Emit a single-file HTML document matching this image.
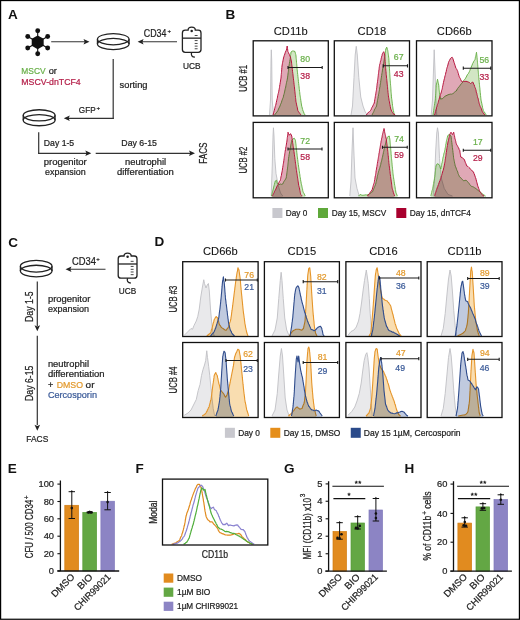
<!DOCTYPE html>
<html><head><meta charset="utf-8"><style>
html,body{margin:0;padding:0;background:#fff;width:520px;height:620px;overflow:hidden}
svg{display:block}
text{font-family:"Liberation Sans", sans-serif}
</style></head><body>
<svg width="520" height="620" viewBox="0 0 520 620" font-family='"Liberation Sans", sans-serif'>
<rect x="0" y="0" width="520" height="620" fill="#fff"/>
<text x="8.0" y="18.8" font-size="13.5" fill="#111" font-weight="bold" >A</text>
<path d="M37.70,35.40 L43.68,38.85 L43.68,45.75 L37.70,49.20 L31.72,45.75 L31.72,38.85 Z" fill="#111"/>
<line x1="37.70" y1="42.30" x2="37.70" y2="30.80" stroke="#111" stroke-width="1.1"/>
<circle cx="37.70" cy="30.80" r="2.45" fill="#111"/>
<line x1="37.70" y1="42.30" x2="47.66" y2="36.55" stroke="#111" stroke-width="1.1"/>
<circle cx="47.66" cy="36.55" r="2.45" fill="#111"/>
<line x1="37.70" y1="42.30" x2="47.66" y2="48.05" stroke="#111" stroke-width="1.1"/>
<circle cx="47.66" cy="48.05" r="2.45" fill="#111"/>
<line x1="37.70" y1="42.30" x2="37.70" y2="53.80" stroke="#111" stroke-width="1.1"/>
<circle cx="37.70" cy="53.80" r="2.45" fill="#111"/>
<line x1="37.70" y1="42.30" x2="27.74" y2="48.05" stroke="#111" stroke-width="1.1"/>
<circle cx="27.74" cy="48.05" r="2.45" fill="#111"/>
<line x1="37.70" y1="42.30" x2="27.74" y2="36.55" stroke="#111" stroke-width="1.1"/>
<circle cx="27.74" cy="36.55" r="2.45" fill="#111"/>
<line x1="51.2" y1="41.75" x2="85" y2="41.75" stroke="#333" stroke-width="1.2"/>
<path d="M89.50,41.75 L83.50,38.95 L84.70,41.75 L83.50,44.55 Z" fill="#222"/>
<g fill="none" stroke="#222" stroke-width="1.3"><ellipse cx="113.25" cy="39.2" rx="15.8" ry="5.6"/><path d="M97.45,39.2 L97.45,44.0 A15.8,5.6 0 0 0 129.05,44.0 L129.05,39.2"/><path d="M97.45,44.0 A15.8,5.6 0 0 1 129.05,44.0"/></g>
<line x1="142" y1="41.75" x2="177" y2="41.75" stroke="#333" stroke-width="1.2"/>
<path d="M137.60,41.75 L143.60,38.95 L142.40,41.75 L143.60,44.55 Z" fill="#222"/>
<text x="143.8" y="36.9" font-size="10.2" fill="#222" stroke="#222" stroke-width="0.22" textLength="22.6" lengthAdjust="spacingAndGlyphs" >CD34</text>
<text x="167.4" y="33.2" font-size="6" fill="#222" stroke="#222" stroke-width="0.22" >+</text>
<path d="M185.20000000000002,30.2 L188.1,30.2 C188.1,26.2 195.29999999999998,26.2 195.29999999999998,30.2 L198.2,30.2 Q201.0,30.2 201.0,33.0 L201.0,49.5 Q201.0,52.3 198.2,52.3 L185.20000000000002,52.3 Q182.4,52.3 182.4,49.5 L182.4,33.0 Q182.4,30.2 185.20000000000002,30.2 Z" fill="none" stroke="#222" stroke-width="1.3"/>
<circle cx="191.7" cy="30.9" r="1.25" fill="#222"/>
<line x1="182.4" y1="38.156" x2="201.0" y2="38.156" stroke="#222" stroke-width="1.3"/>
<line x1="194.7" y1="35.50" x2="197.6" y2="35.50" stroke="#333" stroke-width="0.9"/>
<line x1="194.7" y1="40.59" x2="197.6" y2="40.59" stroke="#333" stroke-width="0.9"/>
<line x1="194.7" y1="43.46" x2="197.6" y2="43.46" stroke="#333" stroke-width="0.9"/>
<line x1="194.7" y1="46.11" x2="197.6" y2="46.11" stroke="#333" stroke-width="0.9"/>
<line x1="194.7" y1="48.76" x2="197.6" y2="48.76" stroke="#333" stroke-width="0.9"/>
<path d="M191.7,52.3 C190.5,55.3 192.2,57.099999999999994 194.89999999999998,57.099999999999994" fill="none" stroke="#222" stroke-width="1.3"/>
<text x="183.0" y="69.2" font-size="9.0" fill="#222" stroke="#222" stroke-width="0.22" textLength="17.6" lengthAdjust="spacingAndGlyphs" >UCB</text>
<text x="21.3" y="74.3" font-size="9.0" fill="#6ab04a" stroke="#6ab04a" stroke-width="0.22" textLength="24.3" lengthAdjust="spacingAndGlyphs" >MSCV</text>
<text x="48.7" y="74.3" font-size="9.0" fill="#222" stroke="#222" stroke-width="0.22" textLength="8.2" lengthAdjust="spacingAndGlyphs" >or</text>
<text x="21.3" y="85.3" font-size="9.0" fill="#b5204a" stroke="#b5204a" stroke-width="0.22" textLength="59.4" lengthAdjust="spacingAndGlyphs" >MSCV-dnTCF4</text>
<line x1="113.2" y1="59.0" x2="113.2" y2="118.9" stroke="#333" stroke-width="1.2"/>
<line x1="67" y1="118.3" x2="113.8" y2="118.3" stroke="#333" stroke-width="1.2"/>
<path d="M63.80,118.30 L69.80,115.50 L68.60,118.30 L69.80,121.10 Z" fill="#222"/>
<text x="119.6" y="87.5" font-size="9.0" fill="#222" stroke="#222" stroke-width="0.22" textLength="27.9" lengthAdjust="spacingAndGlyphs" >sorting</text>
<text x="78.8" y="113.4" font-size="9.8" fill="#222" stroke="#222" stroke-width="0.22" textLength="16.8" lengthAdjust="spacingAndGlyphs" >GFP</text>
<text x="96.6" y="109.6" font-size="6.2" fill="#222" stroke="#222" stroke-width="0.22" >+</text>
<g fill="none" stroke="#222" stroke-width="1.3"><ellipse cx="39.15" cy="115.35" rx="15.9" ry="5.6"/><path d="M23.25,115.35 L23.25,120.14999999999999 A15.9,5.6 0 0 0 55.05,120.14999999999999 L55.05,115.35"/><path d="M23.25,120.14999999999999 A15.9,5.6 0 0 1 55.05,120.14999999999999"/></g>
<line x1="38.7" y1="132.2" x2="38.7" y2="153.9" stroke="#333" stroke-width="1.2"/>
<line x1="38.1" y1="153.3" x2="87" y2="153.3" stroke="#333" stroke-width="1.2"/>
<path d="M91.30,153.30 L85.30,150.50 L86.50,153.30 L85.30,156.10 Z" fill="#222"/>
<line x1="95.7" y1="153.3" x2="191" y2="153.3" stroke="#333" stroke-width="1.2"/>
<path d="M195.00,153.30 L189.00,150.50 L190.20,153.30 L189.00,156.10 Z" fill="#222"/>
<text x="43.8" y="146.3" font-size="9.0" fill="#222" stroke="#222" stroke-width="0.22" textLength="30.4" lengthAdjust="spacingAndGlyphs" >Day 1-5</text>
<text x="121.3" y="146.3" font-size="9.0" fill="#222" stroke="#222" stroke-width="0.22" textLength="35.6" lengthAdjust="spacingAndGlyphs" >Day 6-15</text>
<text x="43.8" y="165.0" font-size="9.0" fill="#222" stroke="#222" stroke-width="0.22" textLength="43.0" lengthAdjust="spacingAndGlyphs" >progenitor</text>
<text x="45.0" y="175.3" font-size="9.0" fill="#222" stroke="#222" stroke-width="0.22" textLength="40.7" lengthAdjust="spacingAndGlyphs" >expansion</text>
<text x="125.0" y="165.0" font-size="9.0" fill="#222" stroke="#222" stroke-width="0.22" textLength="41.2" lengthAdjust="spacingAndGlyphs" >neutrophil</text>
<text x="117.0" y="175.3" font-size="9.0" fill="#222" stroke="#222" stroke-width="0.22" textLength="56.7" lengthAdjust="spacingAndGlyphs" >differentiation</text>
<text x="207.5" y="163.8" font-size="10.0" fill="#222" stroke="#222" stroke-width="0.22" textLength="21.3" lengthAdjust="spacingAndGlyphs" transform="rotate(-90 207.5 163.8)" >FACS</text>
<text x="8.2" y="247.0" font-size="13.5" fill="#111" font-weight="bold" >C</text>
<g fill="none" stroke="#222" stroke-width="1.3"><ellipse cx="36.2" cy="266.25" rx="15.8" ry="5.8"/><path d="M20.400000000000002,266.25 L20.400000000000002,271.05 A15.8,5.8 0 0 0 52.0,271.05 L52.0,266.25"/><path d="M20.400000000000002,271.05 A15.8,5.8 0 0 1 52.0,271.05"/></g>
<line x1="69.5" y1="269.25" x2="105.5" y2="269.25" stroke="#333" stroke-width="1.2"/>
<path d="M65.50,269.25 L71.50,266.45 L70.30,269.25 L71.50,272.05 Z" fill="#222"/>
<text x="72.0" y="265.0" font-size="10.2" fill="#222" stroke="#222" stroke-width="0.22" textLength="24.0" lengthAdjust="spacingAndGlyphs" >CD34</text>
<text x="96.2" y="261.2" font-size="6" fill="#222" stroke="#222" stroke-width="0.22" >+</text>
<path d="M121.0,256.0 L124.0,256.0 C124.0,252.2 131.2,252.2 131.2,256.0 L134.2,256.0 Q137.0,256.0 137.0,258.8 L137.0,275.4 Q137.0,278.2 134.2,278.2 L121.0,278.2 Q118.2,278.2 118.2,275.4 L118.2,258.8 Q118.2,256.0 121.0,256.0 Z" fill="none" stroke="#222" stroke-width="1.3"/>
<circle cx="127.6" cy="256.7" r="1.25" fill="#222"/>
<line x1="118.2" y1="263.992" x2="137.0" y2="263.992" stroke="#222" stroke-width="1.3"/>
<line x1="130.7" y1="261.33" x2="133.6" y2="261.33" stroke="#333" stroke-width="0.9"/>
<line x1="130.7" y1="266.43" x2="133.6" y2="266.43" stroke="#333" stroke-width="0.9"/>
<line x1="130.7" y1="269.32" x2="133.6" y2="269.32" stroke="#333" stroke-width="0.9"/>
<line x1="130.7" y1="271.98" x2="133.6" y2="271.98" stroke="#333" stroke-width="0.9"/>
<line x1="130.7" y1="274.65" x2="133.6" y2="274.65" stroke="#333" stroke-width="0.9"/>
<path d="M127.6,278.2 C126.39999999999999,281.2 128.1,283.0 130.79999999999998,283.0" fill="none" stroke="#222" stroke-width="1.3"/>
<text x="118.8" y="294.4" font-size="9.0" fill="#222" stroke="#222" stroke-width="0.22" textLength="17.4" lengthAdjust="spacingAndGlyphs" >UCB</text>
<line x1="37.3" y1="281.5" x2="37.3" y2="326" stroke="#333" stroke-width="1.2"/>
<path d="M37.30,331.20 L34.50,325.20 L37.30,326.40 L40.10,325.20 Z" fill="#222"/>
<line x1="37.3" y1="335.8" x2="37.3" y2="425" stroke="#333" stroke-width="1.2"/>
<path d="M37.30,430.80 L34.50,424.80 L37.30,426.00 L40.10,424.80 Z" fill="#222"/>
<text x="32.7" y="322.0" font-size="10.2" fill="#222" stroke="#222" stroke-width="0.22" textLength="30.7" lengthAdjust="spacingAndGlyphs" transform="rotate(-90 32.7 322.0)" >Day 1-5</text>
<text x="32.7" y="401.0" font-size="10.2" fill="#222" stroke="#222" stroke-width="0.22" textLength="35.4" lengthAdjust="spacingAndGlyphs" transform="rotate(-90 32.7 401.0)" >Day 6-15</text>
<text x="47.9" y="301.6" font-size="9.0" fill="#222" stroke="#222" stroke-width="0.22" textLength="42.4" lengthAdjust="spacingAndGlyphs" >progenitor</text>
<text x="47.9" y="311.6" font-size="9.0" fill="#222" stroke="#222" stroke-width="0.22" textLength="41.1" lengthAdjust="spacingAndGlyphs" >expansion</text>
<text x="47.9" y="367.0" font-size="9.0" fill="#222" stroke="#222" stroke-width="0.22" textLength="41.1" lengthAdjust="spacingAndGlyphs" >neutrophil</text>
<text x="47.9" y="377.0" font-size="9.0" fill="#222" stroke="#222" stroke-width="0.22" textLength="56.7" lengthAdjust="spacingAndGlyphs" >differentiation</text>
<text x="47.9" y="387.6" font-size="9.0" fill="#222" stroke="#222" stroke-width="0.22" >+</text>
<text x="56.7" y="387.6" font-size="9.0" fill="#e39a2e" stroke="#e39a2e" stroke-width="0.22" textLength="26.3" lengthAdjust="spacingAndGlyphs" >DMSO</text>
<text x="85.6" y="387.6" font-size="9.0" fill="#222" stroke="#222" stroke-width="0.22" textLength="8.9" lengthAdjust="spacingAndGlyphs" >or</text>
<text x="47.9" y="397.8" font-size="9.0" fill="#3a5a98" stroke="#3a5a98" stroke-width="0.22" textLength="49.1" lengthAdjust="spacingAndGlyphs" >Cercosporin</text>
<text x="26.3" y="442.2" font-size="9.0" fill="#222" stroke="#222" stroke-width="0.22" textLength="22.0" lengthAdjust="spacingAndGlyphs" >FACS</text>
<text x="225.6" y="19.2" font-size="13.5" fill="#111" font-weight="bold" >B</text>
<text x="290.75" y="35.0" font-size="11.2" fill="#111" stroke="#111" stroke-width="0.08" text-anchor="middle" >CD11b</text>
<text x="371.9" y="35.0" font-size="11.2" fill="#111" stroke="#111" stroke-width="0.08" text-anchor="middle" >CD18</text>
<text x="454.25" y="35.0" font-size="11.2" fill="#111" stroke="#111" stroke-width="0.08" text-anchor="middle" >CD66b</text>
<text x="247.4" y="78.35" font-size="10.6" fill="#222" stroke="#222" stroke-width="0.22" text-anchor="middle" textLength="26.8" lengthAdjust="spacingAndGlyphs" transform="rotate(-90 247.4 78.35)" >UCB #1</text>
<path d="M269.5,115.30000000000001 L269.5,115 L270.5,100 L271,60 L271.3,49.8 L271.7,60 L272.2,100 L273.5,115 L273.5,115.30000000000001 Z" fill="#e9e9eb" stroke="none" style="mix-blend-mode:multiply"/>
<path d="M269.5,115 L270.5,100 L271,60 L271.3,49.8 L271.7,60 L272.2,100 L273.5,115" fill="none" stroke="#c0c0c4" stroke-width="0.9" stroke-linejoin="round"/>
<path d="M274.5,115.30000000000001 L274.5,115 L275.33,114.0 L276.17,112.96 L277.0,112.0 L277.5,111.05 L278.0,110.34 L278.5,108.97 L279.0,108.01 L279.5,107.07 L280.0,106.0 L280.38,104.75 L280.75,104.01 L281.12,103.1 L281.5,102.23 L281.88,100.68 L282.25,99.84 L282.62,98.67 L283.0,98.0 L283.25,97.25 L283.5,96.15 L283.75,94.63 L284.0,94.39 L284.25,93.37 L284.5,92.12 L284.75,91.09 L285.0,89.73 L285.25,88.61 L285.5,88.0 L285.7,87.02 L285.9,85.65 L286.1,84.75 L286.3,83.79 L286.5,82.62 L286.7,81.97 L286.9,80.95 L287.1,80.27 L287.3,79.02 L287.5,78.0 L287.62,77.11 L287.75,76.0 L287.88,75.13 L288.0,73.97 L288.12,72.82 L288.25,72.4 L288.38,71.4 L288.5,70.27 L288.62,69.17 L288.75,67.85 L288.88,66.78 L289.0,66.0 L289.16,64.83 L289.32,63.66 L289.49,63.21 L289.65,61.92 L289.81,61.28 L289.98,59.91 L290.14,59.37 L290.3,58.0 L290.42,57.28 L290.53,55.6 L290.65,54.77 L290.77,54.33 L290.88,52.98 L291.0,52.0 L292.5,51.0 L293.5,51.0 L295.0,51.5 L295.25,53.01 L295.5,53.67 L295.75,54.53 L296.0,56.0 L296.08,57.1 L296.17,58.22 L296.25,58.82 L296.33,59.67 L296.42,60.87 L296.5,62.37 L296.58,63.21 L296.67,63.69 L296.75,64.8 L296.83,65.68 L296.92,66.65 L297.0,68.0 L297.11,69.24 L297.21,69.74 L297.32,71.05 L297.43,71.96 L297.54,72.75 L297.64,74.19 L297.75,74.7 L297.86,76.11 L297.96,76.69 L298.07,77.94 L298.18,78.77 L298.29,79.82 L298.39,81.38 L298.5,82.0 L298.62,83.24 L298.73,83.84 L298.85,85.31 L298.96,85.77 L299.08,86.92 L299.19,88.28 L299.31,89.11 L299.42,89.68 L299.54,91.39 L299.65,91.77 L299.77,92.81 L299.88,94.22 L300.0,95.0 L300.15,95.86 L300.3,96.84 L300.45,97.66 L300.6,98.67 L300.75,100.07 L300.9,100.79 L301.05,102.08 L301.2,102.9 L301.35,103.96 L301.5,105.0 L301.75,106.37 L302.0,106.99 L302.25,108.06 L302.5,109.29 L302.75,109.75 L303.0,111.0 L303.5,111.72 L304.0,113.33 L304.5,114.0 L305.0,115.0 L305.0,115.30000000000001 Z" fill="#d2e6c4" stroke="none" style="mix-blend-mode:multiply"/>
<path d="M274.5,115 L275.33,114.0 L276.17,112.96 L277.0,112.0 L277.5,111.05 L278.0,110.34 L278.5,108.97 L279.0,108.01 L279.5,107.07 L280.0,106.0 L280.38,104.75 L280.75,104.01 L281.12,103.1 L281.5,102.23 L281.88,100.68 L282.25,99.84 L282.62,98.67 L283.0,98.0 L283.25,97.25 L283.5,96.15 L283.75,94.63 L284.0,94.39 L284.25,93.37 L284.5,92.12 L284.75,91.09 L285.0,89.73 L285.25,88.61 L285.5,88.0 L285.7,87.02 L285.9,85.65 L286.1,84.75 L286.3,83.79 L286.5,82.62 L286.7,81.97 L286.9,80.95 L287.1,80.27 L287.3,79.02 L287.5,78.0 L287.62,77.11 L287.75,76.0 L287.88,75.13 L288.0,73.97 L288.12,72.82 L288.25,72.4 L288.38,71.4 L288.5,70.27 L288.62,69.17 L288.75,67.85 L288.88,66.78 L289.0,66.0 L289.16,64.83 L289.32,63.66 L289.49,63.21 L289.65,61.92 L289.81,61.28 L289.98,59.91 L290.14,59.37 L290.3,58.0 L290.42,57.28 L290.53,55.6 L290.65,54.77 L290.77,54.33 L290.88,52.98 L291.0,52.0 L292.5,51.0 L293.5,51.0 L295.0,51.5 L295.25,53.01 L295.5,53.67 L295.75,54.53 L296.0,56.0 L296.08,57.1 L296.17,58.22 L296.25,58.82 L296.33,59.67 L296.42,60.87 L296.5,62.37 L296.58,63.21 L296.67,63.69 L296.75,64.8 L296.83,65.68 L296.92,66.65 L297.0,68.0 L297.11,69.24 L297.21,69.74 L297.32,71.05 L297.43,71.96 L297.54,72.75 L297.64,74.19 L297.75,74.7 L297.86,76.11 L297.96,76.69 L298.07,77.94 L298.18,78.77 L298.29,79.82 L298.39,81.38 L298.5,82.0 L298.62,83.24 L298.73,83.84 L298.85,85.31 L298.96,85.77 L299.08,86.92 L299.19,88.28 L299.31,89.11 L299.42,89.68 L299.54,91.39 L299.65,91.77 L299.77,92.81 L299.88,94.22 L300.0,95.0 L300.15,95.86 L300.3,96.84 L300.45,97.66 L300.6,98.67 L300.75,100.07 L300.9,100.79 L301.05,102.08 L301.2,102.9 L301.35,103.96 L301.5,105.0 L301.75,106.37 L302.0,106.99 L302.25,108.06 L302.5,109.29 L302.75,109.75 L303.0,111.0 L303.5,111.72 L304.0,113.33 L304.5,114.0 L305.0,115.0" fill="none" stroke="#5fab3c" stroke-width="0.9" stroke-linejoin="round"/>
<path d="M273,115.30000000000001 L273,115 L273.27,114.0 L273.55,112.81 L273.82,112.15 L274.09,111.15 L274.36,110.28 L274.64,108.75 L274.91,107.78 L275.18,106.72 L275.45,105.78 L275.73,105.19 L276.0,104.0 L276.21,102.7 L276.43,102.03 L276.64,100.77 L276.86,99.84 L277.07,98.95 L277.29,98.27 L277.5,97.09 L277.71,95.61 L277.93,94.82 L278.14,93.72 L278.36,93.3 L278.57,92.25 L278.79,91.24 L279.0,90.0 L279.17,89.26 L279.33,88.2 L279.5,87.36 L279.67,86.24 L279.83,84.81 L280.0,84.28 L280.17,82.99 L280.33,82.2 L280.5,81.05 L280.67,79.94 L280.83,78.89 L281.0,78.0 L281.08,76.94 L281.17,75.85 L281.25,74.69 L281.33,74.26 L281.42,73.24 L281.5,72.39 L281.58,71.15 L281.67,70.04 L281.75,69.2 L281.83,67.71 L281.92,67.14 L282.0,66.0 L282.19,64.95 L282.38,63.74 L282.56,62.76 L282.75,62.02 L282.94,60.8 L283.12,59.97 L283.31,59.08 L283.5,58.0 L283.83,56.92 L284.17,55.7 L284.5,55.0 L284.83,53.99 L285.17,52.79 L285.5,52.0 L286.0,50.79 L286.5,50.0 L286.68,48.76 L286.85,47.89 L287.02,46.66 L287.2,46.0 L287.33,47.12 L287.47,48.36 L287.6,48.91 L287.73,50.18 L287.87,51.35 L288.0,52.0 L288.5,52.63 L289.0,54.0 L289.5,54.71 L290.0,56.24 L290.5,57.0 L290.7,58.27 L290.9,59.11 L291.1,59.73 L291.3,60.93 L291.5,62.0 L291.62,63.29 L291.73,64.31 L291.85,65.24 L291.96,65.76 L292.08,67.28 L292.19,67.9 L292.31,69.17 L292.42,69.71 L292.54,71.38 L292.65,72.08 L292.77,73.18 L292.88,73.77 L293.0,75.0 L293.12,76.09 L293.23,77.06 L293.35,78.07 L293.46,78.89 L293.58,80.18 L293.69,80.87 L293.81,81.84 L293.92,82.73 L294.04,84.15 L294.15,84.69 L294.27,85.78 L294.38,86.66 L294.5,88.0 L294.61,89.11 L294.71,90.04 L294.82,91.03 L294.93,91.63 L295.04,92.95 L295.14,93.87 L295.25,94.67 L295.36,95.6 L295.46,97.4 L295.57,97.7 L295.68,98.84 L295.79,99.82 L295.89,101.08 L296.0,102.0 L296.22,102.66 L296.44,103.98 L296.67,104.89 L296.89,106.27 L297.11,106.6 L297.33,107.87 L297.56,109.0 L297.78,110.38 L298.0,111.0 L298.6,111.81 L299.2,112.58 L299.8,113.4 L300.4,114.2 L301.0,115.0 L301.0,115.30000000000001 Z" fill="#e0a8b6" stroke="none" style="mix-blend-mode:multiply"/>
<path d="M273,115 L273.27,114.0 L273.55,112.81 L273.82,112.15 L274.09,111.15 L274.36,110.28 L274.64,108.75 L274.91,107.78 L275.18,106.72 L275.45,105.78 L275.73,105.19 L276.0,104.0 L276.21,102.7 L276.43,102.03 L276.64,100.77 L276.86,99.84 L277.07,98.95 L277.29,98.27 L277.5,97.09 L277.71,95.61 L277.93,94.82 L278.14,93.72 L278.36,93.3 L278.57,92.25 L278.79,91.24 L279.0,90.0 L279.17,89.26 L279.33,88.2 L279.5,87.36 L279.67,86.24 L279.83,84.81 L280.0,84.28 L280.17,82.99 L280.33,82.2 L280.5,81.05 L280.67,79.94 L280.83,78.89 L281.0,78.0 L281.08,76.94 L281.17,75.85 L281.25,74.69 L281.33,74.26 L281.42,73.24 L281.5,72.39 L281.58,71.15 L281.67,70.04 L281.75,69.2 L281.83,67.71 L281.92,67.14 L282.0,66.0 L282.19,64.95 L282.38,63.74 L282.56,62.76 L282.75,62.02 L282.94,60.8 L283.12,59.97 L283.31,59.08 L283.5,58.0 L283.83,56.92 L284.17,55.7 L284.5,55.0 L284.83,53.99 L285.17,52.79 L285.5,52.0 L286.0,50.79 L286.5,50.0 L286.68,48.76 L286.85,47.89 L287.02,46.66 L287.2,46.0 L287.33,47.12 L287.47,48.36 L287.6,48.91 L287.73,50.18 L287.87,51.35 L288.0,52.0 L288.5,52.63 L289.0,54.0 L289.5,54.71 L290.0,56.24 L290.5,57.0 L290.7,58.27 L290.9,59.11 L291.1,59.73 L291.3,60.93 L291.5,62.0 L291.62,63.29 L291.73,64.31 L291.85,65.24 L291.96,65.76 L292.08,67.28 L292.19,67.9 L292.31,69.17 L292.42,69.71 L292.54,71.38 L292.65,72.08 L292.77,73.18 L292.88,73.77 L293.0,75.0 L293.12,76.09 L293.23,77.06 L293.35,78.07 L293.46,78.89 L293.58,80.18 L293.69,80.87 L293.81,81.84 L293.92,82.73 L294.04,84.15 L294.15,84.69 L294.27,85.78 L294.38,86.66 L294.5,88.0 L294.61,89.11 L294.71,90.04 L294.82,91.03 L294.93,91.63 L295.04,92.95 L295.14,93.87 L295.25,94.67 L295.36,95.6 L295.46,97.4 L295.57,97.7 L295.68,98.84 L295.79,99.82 L295.89,101.08 L296.0,102.0 L296.22,102.66 L296.44,103.98 L296.67,104.89 L296.89,106.27 L297.11,106.6 L297.33,107.87 L297.56,109.0 L297.78,110.38 L298.0,111.0 L298.6,111.81 L299.2,112.58 L299.8,113.4 L300.4,114.2 L301.0,115.0" fill="none" stroke="#b8143e" stroke-width="1.0" stroke-linejoin="round"/>
<path d="M288,67.5 L322.2,67.5 M288,65.9 L288,69.1 M322.2,65.9 L322.2,69.1" stroke="#1a1a1a" stroke-width="1.1" fill="none"/>
<text x="300.3" y="61.9" font-size="9.4" fill="#6ab04a" stroke="#6ab04a" stroke-width="0.22" textLength="9.7" lengthAdjust="spacingAndGlyphs" >80</text>
<text x="300.3" y="78.8" font-size="9.4" fill="#b5204a" stroke="#b5204a" stroke-width="0.22" textLength="9.7" lengthAdjust="spacingAndGlyphs" >38</text>
<rect x="253.2" y="40.8" width="75.10000000000002" height="75.10000000000001" fill="none" stroke="#111" stroke-width="1.3"/>
<path d="M351,115.30000000000001 L351,115 L352.5,106 L354,77.5 L355.2,55 L356.25,46.3 L357.3,55 L358.8,77.5 L360.75,97 L363,106 L365.25,112 L367.5,115 L367.5,115.30000000000001 Z" fill="#e9e9eb" stroke="none" style="mix-blend-mode:multiply"/>
<path d="M351,115 L352.5,106 L354,77.5 L355.2,55 L356.25,46.3 L357.3,55 L358.8,77.5 L360.75,97 L363,106 L365.25,112 L367.5,115" fill="none" stroke="#c0c0c4" stroke-width="0.9" stroke-linejoin="round"/>
<path d="M372,115.30000000000001 L372,115 L372.45,114.1 L372.9,113.18 L373.35,112.43 L373.8,111.53 L374.25,110.21 L374.7,109.21 L375.15,108.6 L375.6,107.62 L376.05,107.15 L376.5,106.0 L376.69,105.12 L376.88,104.02 L377.06,102.95 L377.25,102.0 L377.44,100.56 L377.62,99.76 L377.81,98.51 L378.0,98.07 L378.19,96.37 L378.38,95.94 L378.56,94.32 L378.75,93.77 L378.94,92.46 L379.12,91.49 L379.31,90.81 L379.5,89.5 L379.66,88.09 L379.82,87.1 L379.97,86.75 L380.13,85.4 L380.29,84.04 L380.45,83.73 L380.61,82.67 L380.76,80.98 L380.92,80.2 L381.08,78.94 L381.24,78.06 L381.39,77.28 L381.55,75.89 L381.71,75.29 L381.87,73.75 L382.03,72.82 L382.18,72.31 L382.34,70.95 L382.5,70.0 L382.67,68.9 L382.85,68.0 L383.02,66.87 L383.19,65.75 L383.37,64.43 L383.54,63.95 L383.71,63.1 L383.88,62.07 L384.06,60.78 L384.23,59.5 L384.4,58.47 L384.58,57.69 L384.75,56.5 L384.9,55.57 L385.05,54.05 L385.2,53.07 L385.35,52.1 L385.5,51.15 L385.65,50.32 L385.8,49.0 L386.25,48.1 L386.7,47.2 L387.05,47.92 L387.4,49.66 L387.75,50.5 L387.9,51.52 L388.05,52.66 L388.2,53.49 L388.35,54.73 L388.5,55.77 L388.65,57.15 L388.8,58.0 L388.86,58.71 L388.93,60.09 L388.99,60.82 L389.05,62.26 L389.12,62.76 L389.18,63.98 L389.24,65.06 L389.31,66.32 L389.37,66.88 L389.43,68.23 L389.49,69.06 L389.56,70.14 L389.62,71.32 L389.68,72.74 L389.75,73.38 L389.81,74.79 L389.87,75.18 L389.94,76.81 L390.0,77.5 L390.08,78.42 L390.16,79.3 L390.24,80.78 L390.32,81.93 L390.39,82.24 L390.47,83.47 L390.55,84.9 L390.63,85.58 L390.71,86.53 L390.79,87.37 L390.87,88.42 L390.95,89.91 L391.03,91.23 L391.11,92.27 L391.18,92.9 L391.26,93.54 L391.34,94.81 L391.42,96.2 L391.5,97.0 L391.62,98.27 L391.75,99.11 L391.88,99.78 L392.0,101.02 L392.12,101.98 L392.25,103.1 L392.38,103.81 L392.5,105.36 L392.62,106.32 L392.75,106.73 L392.88,107.83 L393.0,109.0 L393.25,110.3 L393.5,110.82 L393.75,112.36 L394.0,113.01 L394.25,114.0 L394.5,115.0 L394.5,115.30000000000001 Z" fill="#d2e6c4" stroke="none" style="mix-blend-mode:multiply"/>
<path d="M372,115 L372.45,114.1 L372.9,113.18 L373.35,112.43 L373.8,111.53 L374.25,110.21 L374.7,109.21 L375.15,108.6 L375.6,107.62 L376.05,107.15 L376.5,106.0 L376.69,105.12 L376.88,104.02 L377.06,102.95 L377.25,102.0 L377.44,100.56 L377.62,99.76 L377.81,98.51 L378.0,98.07 L378.19,96.37 L378.38,95.94 L378.56,94.32 L378.75,93.77 L378.94,92.46 L379.12,91.49 L379.31,90.81 L379.5,89.5 L379.66,88.09 L379.82,87.1 L379.97,86.75 L380.13,85.4 L380.29,84.04 L380.45,83.73 L380.61,82.67 L380.76,80.98 L380.92,80.2 L381.08,78.94 L381.24,78.06 L381.39,77.28 L381.55,75.89 L381.71,75.29 L381.87,73.75 L382.03,72.82 L382.18,72.31 L382.34,70.95 L382.5,70.0 L382.67,68.9 L382.85,68.0 L383.02,66.87 L383.19,65.75 L383.37,64.43 L383.54,63.95 L383.71,63.1 L383.88,62.07 L384.06,60.78 L384.23,59.5 L384.4,58.47 L384.58,57.69 L384.75,56.5 L384.9,55.57 L385.05,54.05 L385.2,53.07 L385.35,52.1 L385.5,51.15 L385.65,50.32 L385.8,49.0 L386.25,48.1 L386.7,47.2 L387.05,47.92 L387.4,49.66 L387.75,50.5 L387.9,51.52 L388.05,52.66 L388.2,53.49 L388.35,54.73 L388.5,55.77 L388.65,57.15 L388.8,58.0 L388.86,58.71 L388.93,60.09 L388.99,60.82 L389.05,62.26 L389.12,62.76 L389.18,63.98 L389.24,65.06 L389.31,66.32 L389.37,66.88 L389.43,68.23 L389.49,69.06 L389.56,70.14 L389.62,71.32 L389.68,72.74 L389.75,73.38 L389.81,74.79 L389.87,75.18 L389.94,76.81 L390.0,77.5 L390.08,78.42 L390.16,79.3 L390.24,80.78 L390.32,81.93 L390.39,82.24 L390.47,83.47 L390.55,84.9 L390.63,85.58 L390.71,86.53 L390.79,87.37 L390.87,88.42 L390.95,89.91 L391.03,91.23 L391.11,92.27 L391.18,92.9 L391.26,93.54 L391.34,94.81 L391.42,96.2 L391.5,97.0 L391.62,98.27 L391.75,99.11 L391.88,99.78 L392.0,101.02 L392.12,101.98 L392.25,103.1 L392.38,103.81 L392.5,105.36 L392.62,106.32 L392.75,106.73 L392.88,107.83 L393.0,109.0 L393.25,110.3 L393.5,110.82 L393.75,112.36 L394.0,113.01 L394.25,114.0 L394.5,115.0" fill="none" stroke="#5fab3c" stroke-width="0.9" stroke-linejoin="round"/>
<path d="M366,115.30000000000001 L366,115 L366.75,114.25 L367.5,113.5 L368.25,112.44 L369.0,112.16 L369.75,111.37 L370.5,110.5 L370.97,109.91 L371.44,108.44 L371.91,107.49 L372.38,106.94 L372.84,105.94 L373.31,104.72 L373.78,104.08 L374.25,103.0 L374.42,101.88 L374.6,101.15 L374.77,99.58 L374.94,98.62 L375.12,98.13 L375.29,96.66 L375.46,95.54 L375.63,94.94 L375.81,93.76 L375.98,92.34 L376.15,91.62 L376.33,90.67 L376.5,89.5 L376.62,88.23 L376.75,87.62 L376.88,86.2 L377.0,85.37 L377.12,84.17 L377.25,83.26 L377.38,82.88 L377.5,81.42 L377.62,80.89 L377.75,79.45 L377.88,78.59 L378.0,77.5 L378.12,76.8 L378.25,75.65 L378.38,74.19 L378.5,73.57 L378.62,72.61 L378.75,71.24 L378.88,70.18 L379.0,69.8 L379.12,68.51 L379.25,67.26 L379.38,66.46 L379.5,65.5 L379.75,64.27 L380.0,63.74 L380.25,62.5 L380.5,61.18 L380.75,60.75 L381.0,59.5 L381.25,58.17 L381.5,57.32 L381.75,56.12 L382.0,55.69 L382.25,54.19 L382.5,53.5 L383.1,52.62 L383.7,51.7 L384.05,52.47 L384.4,53.88 L384.75,55.0 L384.81,56.15 L384.88,57.03 L384.94,57.96 L385.0,58.99 L385.06,59.95 L385.12,61.08 L385.19,61.68 L385.25,62.98 L385.31,63.79 L385.38,65.29 L385.44,66.35 L385.5,67.0 L385.6,67.65 L385.7,68.71 L385.8,70.16 L385.9,71.06 L386.0,71.62 L386.1,73.16 L386.2,74.36 L386.3,74.94 L386.4,75.88 L386.5,77.06 L386.6,78.35 L386.7,78.81 L386.8,79.84 L386.9,80.75 L387.0,82.0 L387.1,83.1 L387.2,83.98 L387.3,84.8 L387.4,85.91 L387.5,86.63 L387.6,87.85 L387.7,89.39 L387.8,90.07 L387.9,90.83 L388.0,92.35 L388.1,92.89 L388.2,93.8 L388.3,94.63 L388.4,95.72 L388.5,97.0 L388.69,97.76 L388.88,98.78 L389.06,100.3 L389.25,100.81 L389.44,101.8 L389.62,103.08 L389.81,104.33 L390.0,104.83 L390.19,106.21 L390.38,106.89 L390.56,108.05 L390.75,109.0 L391.2,109.98 L391.65,111.15 L392.1,111.91 L392.55,112.61 L393.0,113.5 L394.12,114.25 L395.25,115.0 L395.25,115.30000000000001 Z" fill="#e0a8b6" stroke="none" style="mix-blend-mode:multiply"/>
<path d="M366,115 L366.75,114.25 L367.5,113.5 L368.25,112.44 L369.0,112.16 L369.75,111.37 L370.5,110.5 L370.97,109.91 L371.44,108.44 L371.91,107.49 L372.38,106.94 L372.84,105.94 L373.31,104.72 L373.78,104.08 L374.25,103.0 L374.42,101.88 L374.6,101.15 L374.77,99.58 L374.94,98.62 L375.12,98.13 L375.29,96.66 L375.46,95.54 L375.63,94.94 L375.81,93.76 L375.98,92.34 L376.15,91.62 L376.33,90.67 L376.5,89.5 L376.62,88.23 L376.75,87.62 L376.88,86.2 L377.0,85.37 L377.12,84.17 L377.25,83.26 L377.38,82.88 L377.5,81.42 L377.62,80.89 L377.75,79.45 L377.88,78.59 L378.0,77.5 L378.12,76.8 L378.25,75.65 L378.38,74.19 L378.5,73.57 L378.62,72.61 L378.75,71.24 L378.88,70.18 L379.0,69.8 L379.12,68.51 L379.25,67.26 L379.38,66.46 L379.5,65.5 L379.75,64.27 L380.0,63.74 L380.25,62.5 L380.5,61.18 L380.75,60.75 L381.0,59.5 L381.25,58.17 L381.5,57.32 L381.75,56.12 L382.0,55.69 L382.25,54.19 L382.5,53.5 L383.1,52.62 L383.7,51.7 L384.05,52.47 L384.4,53.88 L384.75,55.0 L384.81,56.15 L384.88,57.03 L384.94,57.96 L385.0,58.99 L385.06,59.95 L385.12,61.08 L385.19,61.68 L385.25,62.98 L385.31,63.79 L385.38,65.29 L385.44,66.35 L385.5,67.0 L385.6,67.65 L385.7,68.71 L385.8,70.16 L385.9,71.06 L386.0,71.62 L386.1,73.16 L386.2,74.36 L386.3,74.94 L386.4,75.88 L386.5,77.06 L386.6,78.35 L386.7,78.81 L386.8,79.84 L386.9,80.75 L387.0,82.0 L387.1,83.1 L387.2,83.98 L387.3,84.8 L387.4,85.91 L387.5,86.63 L387.6,87.85 L387.7,89.39 L387.8,90.07 L387.9,90.83 L388.0,92.35 L388.1,92.89 L388.2,93.8 L388.3,94.63 L388.4,95.72 L388.5,97.0 L388.69,97.76 L388.88,98.78 L389.06,100.3 L389.25,100.81 L389.44,101.8 L389.62,103.08 L389.81,104.33 L390.0,104.83 L390.19,106.21 L390.38,106.89 L390.56,108.05 L390.75,109.0 L391.2,109.98 L391.65,111.15 L392.1,111.91 L392.55,112.61 L393.0,113.5 L394.12,114.25 L395.25,115.0" fill="none" stroke="#b8143e" stroke-width="1.0" stroke-linejoin="round"/>
<path d="M383.25,65.8 L407.5,65.8 M383.25,64.2 L383.25,67.39999999999999 M407.5,64.2 L407.5,67.39999999999999" stroke="#1a1a1a" stroke-width="1.1" fill="none"/>
<text x="393.8" y="60.4" font-size="9.4" fill="#6ab04a" stroke="#6ab04a" stroke-width="0.22" textLength="9.7" lengthAdjust="spacingAndGlyphs" >67</text>
<text x="393.8" y="76.89999999999999" font-size="9.4" fill="#b5204a" stroke="#b5204a" stroke-width="0.22" textLength="9.7" lengthAdjust="spacingAndGlyphs" >43</text>
<rect x="334.3" y="40.8" width="75.19999999999999" height="75.10000000000001" fill="none" stroke="#111" stroke-width="1.3"/>
<path d="M431.2,115.30000000000001 L431.2,115 L432.5,100 L433.5,70 L434.2,49.75 L435,70 L436,100 L436.75,115 L436.75,115.30000000000001 Z" fill="#e9e9eb" stroke="none" style="mix-blend-mode:multiply"/>
<path d="M431.2,115 L432.5,100 L433.5,70 L434.2,49.75 L435,70 L436,100 L436.75,115" fill="none" stroke="#c0c0c4" stroke-width="0.9" stroke-linejoin="round"/>
<path d="M433,115.30000000000001 L433,115 L433.15,114.0 L433.3,112.81 L433.45,112.15 L433.6,111.15 L433.75,110.28 L433.9,108.75 L434.05,107.78 L434.2,106.72 L434.35,105.78 L434.5,105.19 L434.65,103.7 L434.8,103.03 L434.95,101.77 L435.1,100.84 L435.25,100.0 L435.32,98.95 L435.39,98.27 L435.46,97.09 L435.53,95.61 L435.6,94.82 L435.67,93.72 L435.74,93.3 L435.81,92.25 L435.88,91.24 L435.95,90.26 L436.02,89.2 L436.09,88.36 L436.16,87.24 L436.23,85.81 L436.3,85.0 L436.54,84.14 L436.78,82.71 L437.02,81.78 L437.26,80.49 L437.5,79.3 L437.74,80.38 L437.98,81.47 L438.22,82.66 L438.46,83.71 L438.7,85.0 L438.81,85.74 L438.91,87.36 L439.01,88.39 L439.12,89.59 L439.23,90.4 L439.33,91.34 L439.44,92.55 L439.54,93.11 L439.64,94.59 L439.75,95.5 L440.1,96.7 L440.45,97.74 L440.8,99.25 L441.77,98.64 L442.75,98.5 L443.5,97.77 L444.25,96.8 L445.0,96.25 L446.0,95.72 L447.0,95.33 L448.0,94.75 L449.12,94.48 L450.25,94.08 L451.38,94.18 L452.5,94.0 L453.44,93.04 L454.38,92.29 L455.31,91.51 L456.25,91.0 L456.81,89.96 L457.38,88.78 L457.94,88.31 L458.5,87.25 L459.25,86.68 L460.0,85.29 L460.75,84.61 L461.5,83.5 L462.25,82.91 L463.0,81.26 L463.75,80.4 L464.5,79.75 L465.06,79.06 L465.62,78.15 L466.19,77.05 L466.75,76.0 L467.31,74.79 L467.88,74.06 L468.44,73.48 L469.0,72.25 L469.45,71.51 L469.9,70.39 L470.35,68.86 L470.8,68.33 L471.25,67.0 L471.7,65.85 L472.15,65.07 L472.6,63.56 L473.05,63.18 L473.5,61.75 L474.25,60.71 L475.0,59.5 L475.21,58.65 L475.43,57.21 L475.64,56.51 L475.86,55.45 L476.07,54.43 L476.29,53.22 L476.5,52.3 L476.61,53.51 L476.71,54.23 L476.82,55.22 L476.93,56.15 L477.04,57.59 L477.14,58.16 L477.25,59.5 L477.33,60.28 L477.42,61.16 L477.5,62.61 L477.58,63.54 L477.67,64.53 L477.75,65.13 L477.83,66.45 L477.92,67.37 L478.0,68.17 L478.08,69.1 L478.17,70.9 L478.25,71.2 L478.33,72.34 L478.42,73.32 L478.5,74.58 L478.58,75.16 L478.67,76.48 L478.75,77.5 L478.85,78.42 L478.95,79.81 L479.06,80.17 L479.16,81.46 L479.26,82.61 L479.36,84.01 L479.47,84.67 L479.57,85.66 L479.67,86.84 L479.77,87.56 L479.88,88.38 L479.98,89.77 L480.08,91.12 L480.18,92.01 L480.28,92.65 L480.39,94.01 L480.49,95.17 L480.59,95.72 L480.69,97.0 L480.8,97.84 L480.9,98.77 L481.0,100.0 L481.23,100.88 L481.45,101.86 L481.68,103.03 L481.9,103.83 L482.12,105.17 L482.35,105.97 L482.57,107.56 L482.8,108.48 L483.02,109.05 L483.25,110.5 L483.85,111.62 L484.45,112.05 L485.05,113.18 L485.65,114.1 L486.25,115.0 L486.25,115.30000000000001 Z" fill="#d2e6c4" stroke="none" style="mix-blend-mode:multiply"/>
<path d="M433,115 L433.15,114.0 L433.3,112.81 L433.45,112.15 L433.6,111.15 L433.75,110.28 L433.9,108.75 L434.05,107.78 L434.2,106.72 L434.35,105.78 L434.5,105.19 L434.65,103.7 L434.8,103.03 L434.95,101.77 L435.1,100.84 L435.25,100.0 L435.32,98.95 L435.39,98.27 L435.46,97.09 L435.53,95.61 L435.6,94.82 L435.67,93.72 L435.74,93.3 L435.81,92.25 L435.88,91.24 L435.95,90.26 L436.02,89.2 L436.09,88.36 L436.16,87.24 L436.23,85.81 L436.3,85.0 L436.54,84.14 L436.78,82.71 L437.02,81.78 L437.26,80.49 L437.5,79.3 L437.74,80.38 L437.98,81.47 L438.22,82.66 L438.46,83.71 L438.7,85.0 L438.81,85.74 L438.91,87.36 L439.01,88.39 L439.12,89.59 L439.23,90.4 L439.33,91.34 L439.44,92.55 L439.54,93.11 L439.64,94.59 L439.75,95.5 L440.1,96.7 L440.45,97.74 L440.8,99.25 L441.77,98.64 L442.75,98.5 L443.5,97.77 L444.25,96.8 L445.0,96.25 L446.0,95.72 L447.0,95.33 L448.0,94.75 L449.12,94.48 L450.25,94.08 L451.38,94.18 L452.5,94.0 L453.44,93.04 L454.38,92.29 L455.31,91.51 L456.25,91.0 L456.81,89.96 L457.38,88.78 L457.94,88.31 L458.5,87.25 L459.25,86.68 L460.0,85.29 L460.75,84.61 L461.5,83.5 L462.25,82.91 L463.0,81.26 L463.75,80.4 L464.5,79.75 L465.06,79.06 L465.62,78.15 L466.19,77.05 L466.75,76.0 L467.31,74.79 L467.88,74.06 L468.44,73.48 L469.0,72.25 L469.45,71.51 L469.9,70.39 L470.35,68.86 L470.8,68.33 L471.25,67.0 L471.7,65.85 L472.15,65.07 L472.6,63.56 L473.05,63.18 L473.5,61.75 L474.25,60.71 L475.0,59.5 L475.21,58.65 L475.43,57.21 L475.64,56.51 L475.86,55.45 L476.07,54.43 L476.29,53.22 L476.5,52.3 L476.61,53.51 L476.71,54.23 L476.82,55.22 L476.93,56.15 L477.04,57.59 L477.14,58.16 L477.25,59.5 L477.33,60.28 L477.42,61.16 L477.5,62.61 L477.58,63.54 L477.67,64.53 L477.75,65.13 L477.83,66.45 L477.92,67.37 L478.0,68.17 L478.08,69.1 L478.17,70.9 L478.25,71.2 L478.33,72.34 L478.42,73.32 L478.5,74.58 L478.58,75.16 L478.67,76.48 L478.75,77.5 L478.85,78.42 L478.95,79.81 L479.06,80.17 L479.16,81.46 L479.26,82.61 L479.36,84.01 L479.47,84.67 L479.57,85.66 L479.67,86.84 L479.77,87.56 L479.88,88.38 L479.98,89.77 L480.08,91.12 L480.18,92.01 L480.28,92.65 L480.39,94.01 L480.49,95.17 L480.59,95.72 L480.69,97.0 L480.8,97.84 L480.9,98.77 L481.0,100.0 L481.23,100.88 L481.45,101.86 L481.68,103.03 L481.9,103.83 L482.12,105.17 L482.35,105.97 L482.57,107.56 L482.8,108.48 L483.02,109.05 L483.25,110.5 L483.85,111.62 L484.45,112.05 L485.05,113.18 L485.65,114.1 L486.25,115.0" fill="none" stroke="#5fab3c" stroke-width="0.9" stroke-linejoin="round"/>
<path d="M434.5,115.30000000000001 L434.5,115 L434.8,113.95 L435.1,113.27 L435.4,111.46 L435.7,110.99 L436.0,109.48 L436.3,109.09 L436.6,107.26 L436.9,106.9 L437.2,105.7 L437.5,104.5 L437.82,103.71 L438.14,102.76 L438.46,101.08 L438.79,100.08 L439.11,99.31 L439.43,97.9 L439.75,97.0 L440.07,95.74 L440.39,94.64 L440.71,94.07 L441.04,93.01 L441.36,91.88 L441.68,90.35 L442.0,89.5 L442.23,88.79 L442.45,87.41 L442.68,86.14 L442.9,85.26 L443.12,84.19 L443.35,82.86 L443.57,82.2 L443.8,80.99 L444.02,80.11 L444.25,79.0 L444.5,78.34 L444.75,77.12 L445.0,75.92 L445.25,75.29 L445.5,74.4 L445.75,73.0 L446.0,71.99 L446.25,71.36 L446.5,69.62 L446.75,68.71 L447.0,67.74 L447.25,67.0 L447.55,66.3 L447.85,65.05 L448.15,64.03 L448.45,62.63 L448.75,61.75 L449.25,60.75 L449.75,60.06 L450.25,58.75 L451.23,57.68 L452.2,57.25 L452.57,57.88 L452.95,58.76 L453.32,60.04 L453.7,61.0 L454.0,62.27 L454.3,63.04 L454.6,63.92 L454.9,65.0 L455.2,65.74 L455.5,67.0 L455.95,68.26 L456.4,68.68 L456.85,69.49 L457.3,70.45 L457.75,71.5 L458.05,72.81 L458.35,73.45 L458.65,74.97 L458.95,75.57 L459.25,76.75 L459.75,77.7 L460.25,78.41 L460.75,79.75 L461.5,81.2 L462.25,82.0 L463.75,81.25 L464.88,81.49 L466.0,81.25 L467.12,81.6 L468.25,82.0 L469.38,82.44 L470.5,83.5 L471.62,82.74 L472.75,82.0 L473.25,82.9 L473.75,84.27 L474.25,85.0 L474.62,86.47 L475.0,87.44 L475.38,88.2 L475.75,89.5 L476.0,90.13 L476.25,91.82 L476.5,92.86 L476.75,93.23 L477.0,94.5 L477.25,95.5 L477.5,96.48 L477.75,97.88 L478.0,98.13 L478.25,99.15 L478.5,100.77 L478.75,101.56 L479.0,102.47 L479.25,103.72 L479.5,104.5 L479.88,105.51 L480.25,106.53 L480.62,107.12 L481.0,107.92 L481.38,108.79 L481.75,109.99 L482.12,111.18 L482.5,112.0 L483.25,112.9 L484.0,114.0 L484.75,115.0 L484.75,115.30000000000001 Z" fill="#e0a8b6" stroke="none" style="mix-blend-mode:multiply"/>
<path d="M434.5,115 L434.8,113.95 L435.1,113.27 L435.4,111.46 L435.7,110.99 L436.0,109.48 L436.3,109.09 L436.6,107.26 L436.9,106.9 L437.2,105.7 L437.5,104.5 L437.82,103.71 L438.14,102.76 L438.46,101.08 L438.79,100.08 L439.11,99.31 L439.43,97.9 L439.75,97.0 L440.07,95.74 L440.39,94.64 L440.71,94.07 L441.04,93.01 L441.36,91.88 L441.68,90.35 L442.0,89.5 L442.23,88.79 L442.45,87.41 L442.68,86.14 L442.9,85.26 L443.12,84.19 L443.35,82.86 L443.57,82.2 L443.8,80.99 L444.02,80.11 L444.25,79.0 L444.5,78.34 L444.75,77.12 L445.0,75.92 L445.25,75.29 L445.5,74.4 L445.75,73.0 L446.0,71.99 L446.25,71.36 L446.5,69.62 L446.75,68.71 L447.0,67.74 L447.25,67.0 L447.55,66.3 L447.85,65.05 L448.15,64.03 L448.45,62.63 L448.75,61.75 L449.25,60.75 L449.75,60.06 L450.25,58.75 L451.23,57.68 L452.2,57.25 L452.57,57.88 L452.95,58.76 L453.32,60.04 L453.7,61.0 L454.0,62.27 L454.3,63.04 L454.6,63.92 L454.9,65.0 L455.2,65.74 L455.5,67.0 L455.95,68.26 L456.4,68.68 L456.85,69.49 L457.3,70.45 L457.75,71.5 L458.05,72.81 L458.35,73.45 L458.65,74.97 L458.95,75.57 L459.25,76.75 L459.75,77.7 L460.25,78.41 L460.75,79.75 L461.5,81.2 L462.25,82.0 L463.75,81.25 L464.88,81.49 L466.0,81.25 L467.12,81.6 L468.25,82.0 L469.38,82.44 L470.5,83.5 L471.62,82.74 L472.75,82.0 L473.25,82.9 L473.75,84.27 L474.25,85.0 L474.62,86.47 L475.0,87.44 L475.38,88.2 L475.75,89.5 L476.0,90.13 L476.25,91.82 L476.5,92.86 L476.75,93.23 L477.0,94.5 L477.25,95.5 L477.5,96.48 L477.75,97.88 L478.0,98.13 L478.25,99.15 L478.5,100.77 L478.75,101.56 L479.0,102.47 L479.25,103.72 L479.5,104.5 L479.88,105.51 L480.25,106.53 L480.62,107.12 L481.0,107.92 L481.38,108.79 L481.75,109.99 L482.12,111.18 L482.5,112.0 L483.25,112.9 L484.0,114.0 L484.75,115.0" fill="none" stroke="#b8143e" stroke-width="1.0" stroke-linejoin="round"/>
<path d="M463.3,68.2 L490.75,68.2 M463.3,66.60000000000001 L463.3,69.8 M490.75,66.60000000000001 L490.75,69.8" stroke="#1a1a1a" stroke-width="1.1" fill="none"/>
<text x="479.5" y="63.4" font-size="9.4" fill="#6ab04a" stroke="#6ab04a" stroke-width="0.22" textLength="9.7" lengthAdjust="spacingAndGlyphs" >56</text>
<text x="479.5" y="79.89999999999999" font-size="9.4" fill="#b5204a" stroke="#b5204a" stroke-width="0.22" textLength="9.7" lengthAdjust="spacingAndGlyphs" >33</text>
<rect x="416.5" y="40.8" width="75.5" height="75.10000000000001" fill="none" stroke="#111" stroke-width="1.3"/>
<text x="247.4" y="160.10000000000002" font-size="10.6" fill="#222" stroke="#222" stroke-width="0.22" text-anchor="middle" textLength="26.8" lengthAdjust="spacingAndGlyphs" transform="rotate(-90 247.4 160.10000000000002)" >UCB #2</text>
<path d="M271.2,197.20000000000002 L271.2,196 L272.25,166 L273,136 L273.45,127.75 L274,136 L274.8,158.5 L276,173.5 L278.25,185.5 L280.5,193 L282.75,196 L282.75,197.20000000000002 Z" fill="#e9e9eb" stroke="none" style="mix-blend-mode:multiply"/>
<path d="M271.2,196 L272.25,166 L273,136 L273.45,127.75 L274,136 L274.8,158.5 L276,173.5 L278.25,185.5 L280.5,193 L282.75,196" fill="none" stroke="#c0c0c4" stroke-width="0.9" stroke-linejoin="round"/>
<path d="M271.5,197.20000000000002 L271.5,196 L271.75,194.75 L272.0,194.13 L272.25,192.87 L272.5,191.76 L272.75,190.99 L273.0,190.0 L273.25,188.98 L273.5,187.97 L273.75,187.0 L274.0,185.81 L274.25,184.8 L274.5,184.15 L274.75,182.86 L275.0,182.14 L275.25,181.0 L276.5,180.25 L276.83,181.73 L277.17,183.04 L277.5,184.0 L278.7,184.75 L280.5,184.0 L281.62,184.36 L282.75,184.0 L283.25,182.79 L283.75,181.79 L284.25,181.0 L284.9,180.19 L285.55,179.06 L286.2,178.0 L286.35,176.69 L286.5,176.0 L286.65,175.08 L286.8,173.98 L286.95,172.42 L287.1,171.41 L287.25,170.5 L287.37,169.07 L287.48,168.8 L287.6,167.16 L287.71,166.53 L287.83,165.34 L287.94,164.34 L288.06,163.25 L288.17,162.45 L288.29,161.23 L288.4,159.96 L288.52,158.77 L288.63,158.02 L288.75,157.0 L288.92,156.34 L289.08,154.72 L289.25,154.15 L289.42,153.1 L289.58,151.73 L289.75,150.77 L289.92,150.15 L290.08,148.95 L290.25,148.0 L290.46,146.85 L290.68,145.84 L290.89,144.47 L291.11,143.88 L291.32,142.71 L291.54,141.6 L291.75,140.5 L292.8,139.0 L294.3,138.25 L294.9,139.25 L295.5,140.5 L295.62,141.79 L295.73,142.84 L295.85,143.65 L295.96,144.32 L296.08,145.41 L296.19,146.45 L296.31,147.43 L296.42,148.93 L296.54,149.88 L296.65,150.65 L296.77,152.25 L296.88,153.07 L297.0,154.0 L297.12,155.23 L297.25,156.25 L297.38,157.15 L297.5,158.02 L297.62,159.39 L297.75,159.71 L297.88,161.15 L298.0,162.31 L298.12,162.98 L298.25,164.25 L298.38,164.75 L298.5,166.0 L298.65,166.93 L298.8,167.82 L298.95,168.92 L299.1,170.16 L299.25,170.71 L299.4,171.87 L299.55,173.28 L299.7,173.84 L299.85,174.7 L300.0,176.4 L300.15,177.03 L300.3,177.61 L300.45,179.06 L300.6,179.72 L300.75,181.0 L300.98,181.78 L301.2,183.29 L301.43,184.27 L301.65,185.14 L301.88,186.26 L302.1,187.35 L302.32,188.32 L302.55,189.08 L302.77,190.66 L303.0,191.5 L303.45,192.62 L303.9,193.24 L304.35,194.12 L304.8,195.19 L305.25,196.0 L305.25,197.20000000000002 Z" fill="#d2e6c4" stroke="none" style="mix-blend-mode:multiply"/>
<path d="M271.5,196 L271.75,194.75 L272.0,194.13 L272.25,192.87 L272.5,191.76 L272.75,190.99 L273.0,190.0 L273.25,188.98 L273.5,187.97 L273.75,187.0 L274.0,185.81 L274.25,184.8 L274.5,184.15 L274.75,182.86 L275.0,182.14 L275.25,181.0 L276.5,180.25 L276.83,181.73 L277.17,183.04 L277.5,184.0 L278.7,184.75 L280.5,184.0 L281.62,184.36 L282.75,184.0 L283.25,182.79 L283.75,181.79 L284.25,181.0 L284.9,180.19 L285.55,179.06 L286.2,178.0 L286.35,176.69 L286.5,176.0 L286.65,175.08 L286.8,173.98 L286.95,172.42 L287.1,171.41 L287.25,170.5 L287.37,169.07 L287.48,168.8 L287.6,167.16 L287.71,166.53 L287.83,165.34 L287.94,164.34 L288.06,163.25 L288.17,162.45 L288.29,161.23 L288.4,159.96 L288.52,158.77 L288.63,158.02 L288.75,157.0 L288.92,156.34 L289.08,154.72 L289.25,154.15 L289.42,153.1 L289.58,151.73 L289.75,150.77 L289.92,150.15 L290.08,148.95 L290.25,148.0 L290.46,146.85 L290.68,145.84 L290.89,144.47 L291.11,143.88 L291.32,142.71 L291.54,141.6 L291.75,140.5 L292.8,139.0 L294.3,138.25 L294.9,139.25 L295.5,140.5 L295.62,141.79 L295.73,142.84 L295.85,143.65 L295.96,144.32 L296.08,145.41 L296.19,146.45 L296.31,147.43 L296.42,148.93 L296.54,149.88 L296.65,150.65 L296.77,152.25 L296.88,153.07 L297.0,154.0 L297.12,155.23 L297.25,156.25 L297.38,157.15 L297.5,158.02 L297.62,159.39 L297.75,159.71 L297.88,161.15 L298.0,162.31 L298.12,162.98 L298.25,164.25 L298.38,164.75 L298.5,166.0 L298.65,166.93 L298.8,167.82 L298.95,168.92 L299.1,170.16 L299.25,170.71 L299.4,171.87 L299.55,173.28 L299.7,173.84 L299.85,174.7 L300.0,176.4 L300.15,177.03 L300.3,177.61 L300.45,179.06 L300.6,179.72 L300.75,181.0 L300.98,181.78 L301.2,183.29 L301.43,184.27 L301.65,185.14 L301.88,186.26 L302.1,187.35 L302.32,188.32 L302.55,189.08 L302.77,190.66 L303.0,191.5 L303.45,192.62 L303.9,193.24 L304.35,194.12 L304.8,195.19 L305.25,196.0" fill="none" stroke="#5fab3c" stroke-width="0.9" stroke-linejoin="round"/>
<path d="M272.25,197.20000000000002 L272.25,196 L272.7,195.42 L273.15,194.35 L273.6,193.51 L274.05,192.72 L274.5,191.31 L274.95,190.71 L275.4,190.02 L275.85,189.1 L276.3,187.96 L276.75,187.0 L277.2,185.84 L277.65,185.13 L278.1,184.7 L278.55,183.08 L279.0,182.5 L279.5,181.36 L280.0,180.86 L280.5,179.5 L280.71,178.39 L280.93,177.12 L281.14,176.14 L281.36,175.54 L281.57,174.01 L281.79,173.01 L282.0,172.0 L282.17,171.1 L282.33,170.24 L282.5,168.99 L282.67,167.67 L282.83,167.06 L283.0,165.63 L283.17,164.68 L283.33,163.75 L283.5,163.0 L283.65,162.1 L283.8,160.73 L283.95,160.0 L284.1,158.53 L284.25,157.44 L284.4,156.32 L284.55,155.81 L284.7,154.89 L284.85,153.33 L285.0,152.5 L285.18,151.24 L285.36,150.01 L285.54,149.47 L285.72,148.14 L285.9,146.96 L286.08,146.32 L286.26,145.23 L286.44,144.06 L286.62,142.77 L286.8,142.0 L286.93,141.03 L287.07,139.88 L287.2,138.7 L287.33,137.4 L287.47,136.93 L287.6,135.79 L287.73,134.57 L287.87,133.73 L288.0,132.25 L288.4,133.31 L288.8,134.13 L289.2,135.25 L289.95,134.19 L290.7,133.75 L291.23,134.96 L291.75,136.0 L291.9,137.09 L292.05,138.09 L292.2,139.61 L292.35,140.56 L292.5,141.05 L292.65,142.74 L292.8,143.5 L292.95,144.15 L293.1,145.72 L293.25,146.5 L293.4,147.88 L293.55,149.11 L293.7,149.82 L293.85,151.06 L294.0,151.54 L294.15,153.08 L294.3,154.0 L294.43,154.69 L294.56,155.96 L294.69,156.87 L294.82,157.66 L294.95,159.2 L295.08,159.67 L295.21,160.81 L295.34,161.67 L295.47,163.13 L295.6,163.84 L295.73,164.64 L295.86,165.62 L295.99,166.78 L296.12,168.01 L296.25,169.0 L296.4,169.61 L296.55,170.62 L296.7,172.13 L296.85,173.02 L297.0,173.71 L297.15,174.85 L297.3,175.7 L297.45,176.82 L297.6,177.91 L297.75,178.77 L297.9,179.76 L298.05,180.78 L298.2,181.84 L298.35,183.04 L298.5,184.0 L298.73,185.36 L298.95,186.22 L299.18,187.11 L299.4,187.8 L299.62,189.0 L299.85,190.41 L300.07,191.27 L300.3,192.68 L300.52,193.78 L300.75,194.5 L301.5,195.25 L302.25,196.0 L302.25,197.20000000000002 Z" fill="#e0a8b6" stroke="none" style="mix-blend-mode:multiply"/>
<path d="M272.25,196 L272.7,195.42 L273.15,194.35 L273.6,193.51 L274.05,192.72 L274.5,191.31 L274.95,190.71 L275.4,190.02 L275.85,189.1 L276.3,187.96 L276.75,187.0 L277.2,185.84 L277.65,185.13 L278.1,184.7 L278.55,183.08 L279.0,182.5 L279.5,181.36 L280.0,180.86 L280.5,179.5 L280.71,178.39 L280.93,177.12 L281.14,176.14 L281.36,175.54 L281.57,174.01 L281.79,173.01 L282.0,172.0 L282.17,171.1 L282.33,170.24 L282.5,168.99 L282.67,167.67 L282.83,167.06 L283.0,165.63 L283.17,164.68 L283.33,163.75 L283.5,163.0 L283.65,162.1 L283.8,160.73 L283.95,160.0 L284.1,158.53 L284.25,157.44 L284.4,156.32 L284.55,155.81 L284.7,154.89 L284.85,153.33 L285.0,152.5 L285.18,151.24 L285.36,150.01 L285.54,149.47 L285.72,148.14 L285.9,146.96 L286.08,146.32 L286.26,145.23 L286.44,144.06 L286.62,142.77 L286.8,142.0 L286.93,141.03 L287.07,139.88 L287.2,138.7 L287.33,137.4 L287.47,136.93 L287.6,135.79 L287.73,134.57 L287.87,133.73 L288.0,132.25 L288.4,133.31 L288.8,134.13 L289.2,135.25 L289.95,134.19 L290.7,133.75 L291.23,134.96 L291.75,136.0 L291.9,137.09 L292.05,138.09 L292.2,139.61 L292.35,140.56 L292.5,141.05 L292.65,142.74 L292.8,143.5 L292.95,144.15 L293.1,145.72 L293.25,146.5 L293.4,147.88 L293.55,149.11 L293.7,149.82 L293.85,151.06 L294.0,151.54 L294.15,153.08 L294.3,154.0 L294.43,154.69 L294.56,155.96 L294.69,156.87 L294.82,157.66 L294.95,159.2 L295.08,159.67 L295.21,160.81 L295.34,161.67 L295.47,163.13 L295.6,163.84 L295.73,164.64 L295.86,165.62 L295.99,166.78 L296.12,168.01 L296.25,169.0 L296.4,169.61 L296.55,170.62 L296.7,172.13 L296.85,173.02 L297.0,173.71 L297.15,174.85 L297.3,175.7 L297.45,176.82 L297.6,177.91 L297.75,178.77 L297.9,179.76 L298.05,180.78 L298.2,181.84 L298.35,183.04 L298.5,184.0 L298.73,185.36 L298.95,186.22 L299.18,187.11 L299.4,187.8 L299.62,189.0 L299.85,190.41 L300.07,191.27 L300.3,192.68 L300.52,193.78 L300.75,194.5 L301.5,195.25 L302.25,196.0" fill="none" stroke="#b8143e" stroke-width="1.0" stroke-linejoin="round"/>
<path d="M288,149 L322,149 M288,147.4 L288,150.6 M322,147.4 L322,150.6" stroke="#1a1a1a" stroke-width="1.1" fill="none"/>
<text x="300.3" y="143.6" font-size="9.4" fill="#6ab04a" stroke="#6ab04a" stroke-width="0.22" textLength="9.7" lengthAdjust="spacingAndGlyphs" >72</text>
<text x="300.3" y="160.4" font-size="9.4" fill="#b5204a" stroke="#b5204a" stroke-width="0.22" textLength="9.7" lengthAdjust="spacingAndGlyphs" >58</text>
<rect x="253.2" y="122.4" width="75.10000000000002" height="75.4" fill="none" stroke="#111" stroke-width="1.3"/>
<path d="M349.8,197.20000000000002 L349.8,196 L351,181 L352,151 L353,127.75 L353.85,151 L355,178 L357,188.5 L359.25,196 L359.25,197.20000000000002 Z" fill="#e9e9eb" stroke="none" style="mix-blend-mode:multiply"/>
<path d="M349.8,196 L351,181 L352,151 L353,127.75 L353.85,151 L355,178 L357,188.5 L359.25,196" fill="none" stroke="#c0c0c4" stroke-width="0.9" stroke-linejoin="round"/>
<path d="M358.5,197.20000000000002 L358.5,196 L359.25,195.25 L360.0,194.5 L361.0,194.89 L362.0,195.23 L363.0,195.25 L364.0,195.14 L365.0,195.01 L366.0,194.79 L367.0,195.15 L368.0,194.46 L369.0,194.5 L369.94,193.47 L370.88,192.81 L371.81,192.06 L372.75,191.5 L373.12,190.42 L373.5,189.44 L373.88,188.37 L374.25,187.61 L374.62,186.66 L375.0,185.93 L375.38,184.7 L375.75,184.0 L375.98,182.61 L376.2,181.66 L376.43,180.88 L376.65,179.71 L376.88,178.94 L377.1,177.94 L377.32,176.58 L377.55,175.28 L377.77,174.73 L378.0,173.5 L378.32,172.63 L378.64,171.27 L378.96,170.41 L379.29,169.05 L379.61,168.47 L379.93,167.34 L380.25,166.0 L380.5,165.23 L380.75,164.36 L381.0,162.79 L381.25,162.04 L381.5,161.19 L381.75,160.24 L382.0,158.91 L382.25,157.71 L382.5,157.0 L382.73,156.05 L382.95,154.58 L383.18,154.01 L383.4,152.41 L383.62,151.71 L383.85,150.68 L384.07,149.35 L384.3,148.58 L384.52,147.55 L384.75,146.5 L385.0,145.4 L385.25,144.82 L385.5,143.79 L385.75,142.81 L386.0,141.3 L386.25,140.5 L386.62,139.18 L387.0,138.53 L387.38,137.38 L387.75,136.75 L389.25,136.0 L389.44,137.29 L389.62,138.06 L389.81,139.08 L390.0,140.5 L390.08,141.33 L390.17,142.42 L390.25,143.69 L390.33,144.47 L390.42,145.34 L390.5,146.64 L390.58,147.14 L390.67,148.27 L390.75,149.65 L390.83,150.7 L390.92,151.18 L391.0,152.15 L391.08,153.5 L391.17,154.63 L391.25,155.11 L391.33,156.45 L391.42,157.32 L391.5,158.5 L391.6,159.17 L391.7,160.24 L391.8,161.33 L391.9,162.47 L392.0,163.19 L392.1,164.6 L392.2,165.8 L392.3,166.65 L392.4,167.15 L392.5,168.62 L392.6,169.61 L392.7,170.11 L392.8,171.41 L392.9,172.62 L393.0,173.5 L393.15,174.91 L393.3,175.94 L393.45,176.71 L393.6,177.77 L393.75,179.12 L393.9,179.57 L394.05,180.86 L394.2,181.55 L394.35,183.17 L394.5,184.0 L394.67,185.12 L394.83,185.77 L395.0,186.76 L395.17,188.02 L395.33,189.2 L395.5,189.71 L395.67,190.86 L395.83,192.01 L396.0,193.0 L396.5,193.81 L397.0,195.31 L397.5,196.0 L397.5,197.20000000000002 Z" fill="#d2e6c4" stroke="none" style="mix-blend-mode:multiply"/>
<path d="M358.5,196 L359.25,195.25 L360.0,194.5 L361.0,194.89 L362.0,195.23 L363.0,195.25 L364.0,195.14 L365.0,195.01 L366.0,194.79 L367.0,195.15 L368.0,194.46 L369.0,194.5 L369.94,193.47 L370.88,192.81 L371.81,192.06 L372.75,191.5 L373.12,190.42 L373.5,189.44 L373.88,188.37 L374.25,187.61 L374.62,186.66 L375.0,185.93 L375.38,184.7 L375.75,184.0 L375.98,182.61 L376.2,181.66 L376.43,180.88 L376.65,179.71 L376.88,178.94 L377.1,177.94 L377.32,176.58 L377.55,175.28 L377.77,174.73 L378.0,173.5 L378.32,172.63 L378.64,171.27 L378.96,170.41 L379.29,169.05 L379.61,168.47 L379.93,167.34 L380.25,166.0 L380.5,165.23 L380.75,164.36 L381.0,162.79 L381.25,162.04 L381.5,161.19 L381.75,160.24 L382.0,158.91 L382.25,157.71 L382.5,157.0 L382.73,156.05 L382.95,154.58 L383.18,154.01 L383.4,152.41 L383.62,151.71 L383.85,150.68 L384.07,149.35 L384.3,148.58 L384.52,147.55 L384.75,146.5 L385.0,145.4 L385.25,144.82 L385.5,143.79 L385.75,142.81 L386.0,141.3 L386.25,140.5 L386.62,139.18 L387.0,138.53 L387.38,137.38 L387.75,136.75 L389.25,136.0 L389.44,137.29 L389.62,138.06 L389.81,139.08 L390.0,140.5 L390.08,141.33 L390.17,142.42 L390.25,143.69 L390.33,144.47 L390.42,145.34 L390.5,146.64 L390.58,147.14 L390.67,148.27 L390.75,149.65 L390.83,150.7 L390.92,151.18 L391.0,152.15 L391.08,153.5 L391.17,154.63 L391.25,155.11 L391.33,156.45 L391.42,157.32 L391.5,158.5 L391.6,159.17 L391.7,160.24 L391.8,161.33 L391.9,162.47 L392.0,163.19 L392.1,164.6 L392.2,165.8 L392.3,166.65 L392.4,167.15 L392.5,168.62 L392.6,169.61 L392.7,170.11 L392.8,171.41 L392.9,172.62 L393.0,173.5 L393.15,174.91 L393.3,175.94 L393.45,176.71 L393.6,177.77 L393.75,179.12 L393.9,179.57 L394.05,180.86 L394.2,181.55 L394.35,183.17 L394.5,184.0 L394.67,185.12 L394.83,185.77 L395.0,186.76 L395.17,188.02 L395.33,189.2 L395.5,189.71 L395.67,190.86 L395.83,192.01 L396.0,193.0 L396.5,193.81 L397.0,195.31 L397.5,196.0" fill="none" stroke="#5fab3c" stroke-width="0.9" stroke-linejoin="round"/>
<path d="M367.5,197.20000000000002 L367.5,196 L368.14,194.87 L368.79,194.44 L369.43,193.54 L370.07,192.55 L370.71,191.49 L371.36,191.09 L372.0,190.0 L372.32,189.17 L372.64,187.87 L372.96,186.79 L373.29,185.5 L373.61,184.25 L373.93,183.47 L374.25,182.5 L374.42,181.53 L374.6,180.08 L374.77,179.62 L374.94,178.13 L375.12,177.09 L375.29,175.9 L375.46,175.63 L375.63,174.38 L375.81,173.45 L375.98,172.21 L376.15,170.7 L376.33,169.9 L376.5,169.0 L376.67,167.96 L376.85,166.62 L377.02,166.25 L377.19,164.74 L377.37,163.53 L377.54,163.02 L377.71,161.43 L377.88,161.03 L378.06,159.62 L378.23,158.66 L378.4,157.45 L378.58,156.53 L378.75,155.5 L378.91,154.25 L379.07,153.13 L379.24,152.79 L379.4,151.29 L379.56,150.72 L379.73,149.27 L379.89,148.88 L380.05,147.82 L380.21,146.7 L380.38,145.71 L380.54,144.56 L380.7,143.5 L380.9,142.68 L381.1,141.2 L381.3,140.48 L381.5,139.76 L381.7,138.26 L381.9,137.84 L382.1,136.81 L382.3,135.43 L382.5,134.5 L382.75,133.39 L383.0,132.46 L383.25,131.41 L383.5,130.9 L383.75,129.41 L384.0,128.5 L384.2,129.12 L384.4,130.17 L384.6,131.67 L384.8,132.89 L385.0,133.5 L385.2,134.5 L385.46,135.62 L385.73,136.79 L385.99,138.07 L386.25,139.0 L386.38,139.78 L386.5,141.09 L386.62,142.05 L386.75,143.1 L386.88,143.74 L387.0,144.74 L387.12,145.88 L387.25,147.34 L387.38,147.88 L387.5,149.08 L387.62,149.85 L387.75,151.0 L387.85,151.68 L387.95,152.65 L388.05,154.25 L388.15,155.22 L388.25,155.9 L388.35,157.15 L388.45,158.14 L388.55,159.32 L388.65,160.37 L388.75,160.93 L388.85,162.39 L388.95,163.37 L389.05,164.07 L389.15,165.31 L389.25,166.0 L389.38,166.99 L389.5,167.9 L389.62,168.8 L389.75,170.3 L389.88,170.73 L390.0,171.66 L390.12,173.24 L390.25,174.22 L390.38,174.99 L390.5,176.27 L390.62,176.64 L390.75,178.0 L390.9,178.86 L391.05,179.93 L391.2,181.09 L391.35,181.94 L391.5,182.91 L391.65,184.17 L391.8,185.67 L391.95,186.79 L392.1,187.65 L392.25,188.5 L392.57,189.55 L392.89,190.44 L393.21,192.08 L393.54,192.81 L393.86,194.04 L394.18,194.55 L394.5,196.0 L394.5,197.20000000000002 Z" fill="#e0a8b6" stroke="none" style="mix-blend-mode:multiply"/>
<path d="M367.5,196 L368.14,194.87 L368.79,194.44 L369.43,193.54 L370.07,192.55 L370.71,191.49 L371.36,191.09 L372.0,190.0 L372.32,189.17 L372.64,187.87 L372.96,186.79 L373.29,185.5 L373.61,184.25 L373.93,183.47 L374.25,182.5 L374.42,181.53 L374.6,180.08 L374.77,179.62 L374.94,178.13 L375.12,177.09 L375.29,175.9 L375.46,175.63 L375.63,174.38 L375.81,173.45 L375.98,172.21 L376.15,170.7 L376.33,169.9 L376.5,169.0 L376.67,167.96 L376.85,166.62 L377.02,166.25 L377.19,164.74 L377.37,163.53 L377.54,163.02 L377.71,161.43 L377.88,161.03 L378.06,159.62 L378.23,158.66 L378.4,157.45 L378.58,156.53 L378.75,155.5 L378.91,154.25 L379.07,153.13 L379.24,152.79 L379.4,151.29 L379.56,150.72 L379.73,149.27 L379.89,148.88 L380.05,147.82 L380.21,146.7 L380.38,145.71 L380.54,144.56 L380.7,143.5 L380.9,142.68 L381.1,141.2 L381.3,140.48 L381.5,139.76 L381.7,138.26 L381.9,137.84 L382.1,136.81 L382.3,135.43 L382.5,134.5 L382.75,133.39 L383.0,132.46 L383.25,131.41 L383.5,130.9 L383.75,129.41 L384.0,128.5 L384.2,129.12 L384.4,130.17 L384.6,131.67 L384.8,132.89 L385.0,133.5 L385.2,134.5 L385.46,135.62 L385.73,136.79 L385.99,138.07 L386.25,139.0 L386.38,139.78 L386.5,141.09 L386.62,142.05 L386.75,143.1 L386.88,143.74 L387.0,144.74 L387.12,145.88 L387.25,147.34 L387.38,147.88 L387.5,149.08 L387.62,149.85 L387.75,151.0 L387.85,151.68 L387.95,152.65 L388.05,154.25 L388.15,155.22 L388.25,155.9 L388.35,157.15 L388.45,158.14 L388.55,159.32 L388.65,160.37 L388.75,160.93 L388.85,162.39 L388.95,163.37 L389.05,164.07 L389.15,165.31 L389.25,166.0 L389.38,166.99 L389.5,167.9 L389.62,168.8 L389.75,170.3 L389.88,170.73 L390.0,171.66 L390.12,173.24 L390.25,174.22 L390.38,174.99 L390.5,176.27 L390.62,176.64 L390.75,178.0 L390.9,178.86 L391.05,179.93 L391.2,181.09 L391.35,181.94 L391.5,182.91 L391.65,184.17 L391.8,185.67 L391.95,186.79 L392.1,187.65 L392.25,188.5 L392.57,189.55 L392.89,190.44 L393.21,192.08 L393.54,192.81 L393.86,194.04 L394.18,194.55 L394.5,196.0" fill="none" stroke="#b8143e" stroke-width="1.0" stroke-linejoin="round"/>
<path d="M382.5,147.25 L407.25,147.25 M382.5,145.65 L382.5,148.85 M407.25,145.65 L407.25,148.85" stroke="#1a1a1a" stroke-width="1.1" fill="none"/>
<text x="394.2" y="141.79999999999998" font-size="9.4" fill="#6ab04a" stroke="#6ab04a" stroke-width="0.22" textLength="9.7" lengthAdjust="spacingAndGlyphs" >74</text>
<text x="394.2" y="158.29999999999998" font-size="9.4" fill="#b5204a" stroke="#b5204a" stroke-width="0.22" textLength="9.7" lengthAdjust="spacingAndGlyphs" >59</text>
<rect x="334.3" y="122.4" width="75.19999999999999" height="75.4" fill="none" stroke="#111" stroke-width="1.3"/>
<path d="M433,197.20000000000002 L433,196 L434.5,181 L435.7,151 L436.75,133 L437.5,127.75 L438.4,133 L439.5,158.5 L441.25,178 L444.25,188.5 L448,194.5 L452.5,196 L452.5,197.20000000000002 Z" fill="#e9e9eb" stroke="none" style="mix-blend-mode:multiply"/>
<path d="M433,196 L434.5,181 L435.7,151 L436.75,133 L437.5,127.75 L438.4,133 L439.5,158.5 L441.25,178 L444.25,188.5 L448,194.5 L452.5,196" fill="none" stroke="#c0c0c4" stroke-width="0.9" stroke-linejoin="round"/>
<path d="M430.75,197.20000000000002 L430.75,196 L431.0,195.32 L431.25,194.15 L431.5,193.21 L431.75,192.32 L432.0,190.81 L432.25,190.11 L432.5,189.32 L432.75,188.3 L433.0,187.0 L433.18,186.01 L433.36,184.64 L433.54,183.78 L433.72,183.2 L433.9,181.43 L434.08,180.56 L434.26,180.01 L434.44,178.56 L434.62,177.32 L434.8,176.5 L434.92,175.3 L435.04,174.73 L435.16,173.22 L435.28,172.24 L435.4,171.35 L435.52,170.44 L435.64,169.14 L435.76,167.77 L435.88,167.11 L436.0,166.0 L436.6,164.5 L437.2,163.75 L439.0,164.5 L439.45,165.3 L439.9,166.5 L440.35,168.03 L440.8,169.0 L441.01,167.76 L441.23,167.01 L441.44,165.52 L441.66,164.41 L441.87,163.26 L442.09,162.74 L442.3,161.5 L442.5,160.79 L442.7,159.28 L442.9,158.29 L443.1,157.11 L443.3,156.62 L443.5,155.5 L443.75,154.34 L444.0,153.21 L444.25,152.62 L444.5,151.58 L444.75,150.46 L445.0,149.5 L445.17,148.22 L445.33,147.61 L445.5,146.54 L445.67,145.45 L445.83,144.23 L446.0,143.84 L446.17,142.79 L446.33,141.65 L446.5,140.5 L446.8,139.85 L447.1,138.46 L447.4,137.23 L447.7,135.99 L448.0,135.25 L449.5,134.5 L450.25,135.34 L451.0,136.0 L451.12,137.02 L451.25,137.95 L451.38,139.39 L451.5,140.27 L451.62,140.69 L451.75,142.31 L451.88,142.6 L452.0,144.12 L452.12,144.85 L452.25,146.18 L452.38,147.36 L452.5,148.0 L452.62,149.07 L452.74,150.31 L452.86,150.79 L452.98,152.33 L453.1,152.94 L453.22,154.26 L453.34,155.22 L453.46,156.06 L453.58,157.65 L453.7,158.5 L453.91,159.25 L454.13,160.45 L454.34,161.38 L454.56,162.92 L454.77,163.7 L454.99,164.56 L455.2,166.0 L455.65,166.75 L456.1,168.03 L456.55,169.38 L457.0,170.5 L457.38,171.11 L457.75,172.12 L458.12,173.63 L458.5,174.52 L458.88,175.21 L459.25,176.5 L460.0,177.1 L460.75,177.7 L461.5,178.75 L462.25,179.32 L463.0,180.16 L463.75,181.0 L464.88,180.4 L466.0,180.25 L466.75,180.76 L467.5,181.53 L468.25,182.5 L469.0,183.34 L469.75,184.54 L470.5,185.5 L471.5,186.31 L472.5,186.62 L473.5,187.0 L474.5,187.71 L475.5,188.1 L476.5,189.25 L477.5,189.75 L478.5,190.86 L479.5,191.5 L480.5,192.17 L481.5,193.28 L482.5,193.75 L483.5,194.83 L484.5,195.25 L485.5,196.0 L485.5,197.20000000000002 Z" fill="#d2e6c4" stroke="none" style="mix-blend-mode:multiply"/>
<path d="M430.75,196 L431.0,195.32 L431.25,194.15 L431.5,193.21 L431.75,192.32 L432.0,190.81 L432.25,190.11 L432.5,189.32 L432.75,188.3 L433.0,187.0 L433.18,186.01 L433.36,184.64 L433.54,183.78 L433.72,183.2 L433.9,181.43 L434.08,180.56 L434.26,180.01 L434.44,178.56 L434.62,177.32 L434.8,176.5 L434.92,175.3 L435.04,174.73 L435.16,173.22 L435.28,172.24 L435.4,171.35 L435.52,170.44 L435.64,169.14 L435.76,167.77 L435.88,167.11 L436.0,166.0 L436.6,164.5 L437.2,163.75 L439.0,164.5 L439.45,165.3 L439.9,166.5 L440.35,168.03 L440.8,169.0 L441.01,167.76 L441.23,167.01 L441.44,165.52 L441.66,164.41 L441.87,163.26 L442.09,162.74 L442.3,161.5 L442.5,160.79 L442.7,159.28 L442.9,158.29 L443.1,157.11 L443.3,156.62 L443.5,155.5 L443.75,154.34 L444.0,153.21 L444.25,152.62 L444.5,151.58 L444.75,150.46 L445.0,149.5 L445.17,148.22 L445.33,147.61 L445.5,146.54 L445.67,145.45 L445.83,144.23 L446.0,143.84 L446.17,142.79 L446.33,141.65 L446.5,140.5 L446.8,139.85 L447.1,138.46 L447.4,137.23 L447.7,135.99 L448.0,135.25 L449.5,134.5 L450.25,135.34 L451.0,136.0 L451.12,137.02 L451.25,137.95 L451.38,139.39 L451.5,140.27 L451.62,140.69 L451.75,142.31 L451.88,142.6 L452.0,144.12 L452.12,144.85 L452.25,146.18 L452.38,147.36 L452.5,148.0 L452.62,149.07 L452.74,150.31 L452.86,150.79 L452.98,152.33 L453.1,152.94 L453.22,154.26 L453.34,155.22 L453.46,156.06 L453.58,157.65 L453.7,158.5 L453.91,159.25 L454.13,160.45 L454.34,161.38 L454.56,162.92 L454.77,163.7 L454.99,164.56 L455.2,166.0 L455.65,166.75 L456.1,168.03 L456.55,169.38 L457.0,170.5 L457.38,171.11 L457.75,172.12 L458.12,173.63 L458.5,174.52 L458.88,175.21 L459.25,176.5 L460.0,177.1 L460.75,177.7 L461.5,178.75 L462.25,179.32 L463.0,180.16 L463.75,181.0 L464.88,180.4 L466.0,180.25 L466.75,180.76 L467.5,181.53 L468.25,182.5 L469.0,183.34 L469.75,184.54 L470.5,185.5 L471.5,186.31 L472.5,186.62 L473.5,187.0 L474.5,187.71 L475.5,188.1 L476.5,189.25 L477.5,189.75 L478.5,190.86 L479.5,191.5 L480.5,192.17 L481.5,193.28 L482.5,193.75 L483.5,194.83 L484.5,195.25 L485.5,196.0" fill="none" stroke="#5fab3c" stroke-width="0.9" stroke-linejoin="round"/>
<path d="M434.5,197.20000000000002 L434.5,196 L434.83,195.37 L435.17,193.71 L435.5,192.62 L435.83,192.4 L436.17,190.75 L436.5,189.7 L436.83,189.12 L437.17,187.88 L437.5,187.0 L437.88,186.31 L438.25,184.79 L438.62,184.37 L439.0,182.86 L439.38,182.08 L439.75,181.0 L440.07,180.38 L440.39,179.22 L440.71,178.45 L441.04,177.31 L441.36,175.82 L441.68,175.52 L442.0,174.25 L442.3,173.27 L442.6,172.0 L442.9,170.85 L443.2,170.33 L443.5,169.0 L443.71,167.99 L443.93,167.21 L444.14,166.0 L444.36,165.08 L444.57,163.7 L444.79,162.73 L445.0,161.5 L445.15,160.54 L445.3,159.21 L445.45,158.72 L445.6,157.15 L445.75,156.47 L445.9,155.56 L446.05,154.27 L446.2,152.81 L446.35,152.31 L446.5,151.0 L446.67,150.13 L446.83,148.75 L447.0,147.64 L447.17,147.03 L447.33,145.63 L447.5,145.34 L447.67,144.01 L447.83,143.01 L448.0,142.0 L448.26,140.86 L448.51,139.99 L448.77,139.12 L449.03,137.56 L449.29,136.54 L449.54,135.64 L449.8,134.5 L450.4,133.21 L451.0,132.25 L451.75,133.45 L452.5,134.5 L453.1,133.41 L453.7,132.25 L453.91,133.25 L454.12,134.49 L454.33,135.42 L454.54,136.12 L454.75,137.5 L455.0,138.9 L455.25,139.38 L455.5,140.45 L455.75,141.42 L456.0,142.84 L456.25,143.5 L456.75,144.86 L457.25,145.51 L457.75,146.5 L458.24,147.36 L458.73,148.05 L459.21,149.63 L459.7,150.25 L459.88,151.11 L460.05,152.54 L460.23,153.5 L460.4,154.61 L460.57,155.76 L460.75,157.0 L462.25,157.75 L463.0,158.25 L463.75,158.88 L464.5,160.0 L464.88,161.03 L465.25,162.24 L465.62,163.12 L466.0,163.76 L466.38,165.15 L466.75,166.0 L467.88,166.39 L469.0,167.5 L469.75,168.18 L470.5,169.26 L471.25,169.75 L472.0,170.84 L472.75,171.22 L473.5,172.0 L473.88,173.28 L474.25,174.0 L474.62,175.02 L475.0,176.07 L475.38,177.39 L475.75,178.0 L476.0,179.19 L476.25,179.98 L476.5,181.18 L476.75,182.11 L477.0,182.88 L477.25,184.0 L477.57,185.19 L477.89,186.18 L478.21,186.98 L478.54,188.21 L478.86,188.44 L479.18,189.79 L479.5,190.75 L480.06,191.8 L480.62,192.5 L481.19,193.3 L481.75,194.5 L482.88,195.25 L484.0,196.0 L484.0,197.20000000000002 Z" fill="#e0a8b6" stroke="none" style="mix-blend-mode:multiply"/>
<path d="M434.5,196 L434.83,195.37 L435.17,193.71 L435.5,192.62 L435.83,192.4 L436.17,190.75 L436.5,189.7 L436.83,189.12 L437.17,187.88 L437.5,187.0 L437.88,186.31 L438.25,184.79 L438.62,184.37 L439.0,182.86 L439.38,182.08 L439.75,181.0 L440.07,180.38 L440.39,179.22 L440.71,178.45 L441.04,177.31 L441.36,175.82 L441.68,175.52 L442.0,174.25 L442.3,173.27 L442.6,172.0 L442.9,170.85 L443.2,170.33 L443.5,169.0 L443.71,167.99 L443.93,167.21 L444.14,166.0 L444.36,165.08 L444.57,163.7 L444.79,162.73 L445.0,161.5 L445.15,160.54 L445.3,159.21 L445.45,158.72 L445.6,157.15 L445.75,156.47 L445.9,155.56 L446.05,154.27 L446.2,152.81 L446.35,152.31 L446.5,151.0 L446.67,150.13 L446.83,148.75 L447.0,147.64 L447.17,147.03 L447.33,145.63 L447.5,145.34 L447.67,144.01 L447.83,143.01 L448.0,142.0 L448.26,140.86 L448.51,139.99 L448.77,139.12 L449.03,137.56 L449.29,136.54 L449.54,135.64 L449.8,134.5 L450.4,133.21 L451.0,132.25 L451.75,133.45 L452.5,134.5 L453.1,133.41 L453.7,132.25 L453.91,133.25 L454.12,134.49 L454.33,135.42 L454.54,136.12 L454.75,137.5 L455.0,138.9 L455.25,139.38 L455.5,140.45 L455.75,141.42 L456.0,142.84 L456.25,143.5 L456.75,144.86 L457.25,145.51 L457.75,146.5 L458.24,147.36 L458.73,148.05 L459.21,149.63 L459.7,150.25 L459.88,151.11 L460.05,152.54 L460.23,153.5 L460.4,154.61 L460.57,155.76 L460.75,157.0 L462.25,157.75 L463.0,158.25 L463.75,158.88 L464.5,160.0 L464.88,161.03 L465.25,162.24 L465.62,163.12 L466.0,163.76 L466.38,165.15 L466.75,166.0 L467.88,166.39 L469.0,167.5 L469.75,168.18 L470.5,169.26 L471.25,169.75 L472.0,170.84 L472.75,171.22 L473.5,172.0 L473.88,173.28 L474.25,174.0 L474.62,175.02 L475.0,176.07 L475.38,177.39 L475.75,178.0 L476.0,179.19 L476.25,179.98 L476.5,181.18 L476.75,182.11 L477.0,182.88 L477.25,184.0 L477.57,185.19 L477.89,186.18 L478.21,186.98 L478.54,188.21 L478.86,188.44 L479.18,189.79 L479.5,190.75 L480.06,191.8 L480.62,192.5 L481.19,193.3 L481.75,194.5 L482.88,195.25 L484.0,196.0" fill="none" stroke="#b8143e" stroke-width="1.0" stroke-linejoin="round"/>
<path d="M463.3,150.25 L490.75,150.25 M463.3,148.65 L463.3,151.85 M490.75,148.65 L490.75,151.85" stroke="#1a1a1a" stroke-width="1.1" fill="none"/>
<text x="472.9" y="144.79999999999998" font-size="9.4" fill="#6ab04a" stroke="#6ab04a" stroke-width="0.22" textLength="9.7" lengthAdjust="spacingAndGlyphs" >17</text>
<text x="472.9" y="161.29999999999998" font-size="9.4" fill="#b5204a" stroke="#b5204a" stroke-width="0.22" textLength="9.7" lengthAdjust="spacingAndGlyphs" >29</text>
<rect x="416.5" y="122.4" width="75.5" height="75.4" fill="none" stroke="#111" stroke-width="1.3"/>
<rect x="272.4" y="208" width="10" height="10" fill="#c8c8ce"/>
<text x="285.8" y="215.8" font-size="8.6" fill="#222" stroke="#222" stroke-width="0.22" textLength="21.5" lengthAdjust="spacingAndGlyphs" >Day 0</text>
<rect x="318" y="208" width="10" height="10" fill="#5fa83a"/>
<text x="331.7" y="215.8" font-size="8.6" fill="#222" stroke="#222" stroke-width="0.22" textLength="54.5" lengthAdjust="spacingAndGlyphs" >Day 15, MSCV</text>
<rect x="396.3" y="208" width="10" height="10" fill="#a8002e"/>
<text x="409.8" y="215.8" font-size="8.6" fill="#222" stroke="#222" stroke-width="0.22" textLength="61.0" lengthAdjust="spacingAndGlyphs" >Day 15, dnTCF4</text>
<text x="154.5" y="246.4" font-size="13.5" fill="#111" font-weight="bold" >D</text>
<text x="220.4" y="255.4" font-size="11.2" fill="#111" stroke="#111" stroke-width="0.08" text-anchor="middle" >CD66b</text>
<text x="301.9" y="255.4" font-size="11.2" fill="#111" stroke="#111" stroke-width="0.08" text-anchor="middle" >CD15</text>
<text x="383.45" y="255.4" font-size="11.2" fill="#111" stroke="#111" stroke-width="0.08" text-anchor="middle" >CD16</text>
<text x="464.6" y="255.4" font-size="11.2" fill="#111" stroke="#111" stroke-width="0.08" text-anchor="middle" >CD11b</text>
<text x="177.2" y="299.1" font-size="10.6" fill="#222" stroke="#222" stroke-width="0.22" text-anchor="middle" textLength="26.8" lengthAdjust="spacingAndGlyphs" transform="rotate(-90 177.2 299.1)" >UCB #3</text>
<path d="M184.25,335.9 L184.25,335.25 L188,331.5 L191,328.5 L192.5,329.25 L194,325.5 L196.25,321 L197.75,316.5 L199.25,309 L200.75,297 L202.25,288 L203.75,279.75 L204.5,283.5 L206,288 L207.2,285 L208.4,283.5 L209.3,291 L210.5,309 L211.55,321 L212.75,331.5 L214.25,336 L214.25,335.9 Z" fill="#e9e9eb" stroke="none" style="mix-blend-mode:multiply"/>
<path d="M184.25,335.25 L188,331.5 L191,328.5 L192.5,329.25 L194,325.5 L196.25,321 L197.75,316.5 L199.25,309 L200.75,297 L202.25,288 L203.75,279.75 L204.5,283.5 L206,288 L207.2,285 L208.4,283.5 L209.3,291 L210.5,309 L211.55,321 L212.75,331.5 L214.25,336" fill="none" stroke="#c0c0c4" stroke-width="0.9" stroke-linejoin="round"/>
<path d="M206.75,335.9 L206.75,336 L207.69,335.25 L208.62,334.5 L209.56,333.77 L210.5,333.0 L210.82,332.17 L211.14,331.23 L211.46,329.62 L211.79,328.93 L212.11,327.81 L212.43,326.7 L212.75,325.5 L213.0,324.19 L213.25,323.12 L213.5,322.41 L213.75,321.7 L214.0,320.3 L214.25,319.5 L214.9,318.5 L215.55,317.35 L216.2,316.5 L216.95,317.53 L217.7,318.0 L217.95,319.36 L218.2,319.92 L218.45,321.4 L218.7,321.65 L218.95,323.25 L219.2,324.0 L219.8,325.3 L220.4,325.72 L221.0,327.0 L222.0,327.91 L223.0,328.55 L224.0,329.25 L225.12,330.14 L226.25,330.3 L227.0,328.97 L227.75,328.13 L228.5,327.0 L228.82,326.23 L229.14,324.97 L229.46,323.63 L229.79,322.38 L230.11,321.99 L230.43,320.55 L230.75,319.5 L230.9,318.85 L231.05,317.11 L231.2,316.6 L231.35,315.55 L231.5,314.59 L231.65,312.81 L231.8,312.05 L231.95,310.74 L232.1,310.25 L232.25,309.0 L232.38,307.88 L232.5,307.37 L232.62,305.9 L232.75,305.22 L232.88,304.29 L233.0,302.79 L233.12,302.05 L233.25,301.37 L233.38,300.02 L233.5,298.89 L233.62,297.81 L233.75,297.0 L233.88,296.23 L234.0,294.75 L234.12,294.08 L234.25,293.04 L234.38,292.04 L234.5,290.7 L234.62,290.13 L234.75,289.33 L234.88,287.86 L235.0,286.87 L235.12,286.33 L235.25,285.0 L235.4,284.01 L235.55,282.72 L235.7,281.46 L235.85,281.0 L236.0,279.63 L236.15,278.67 L236.3,277.47 L236.45,276.71 L236.6,275.73 L236.75,274.5 L236.96,273.22 L237.17,271.91 L237.38,271.51 L237.58,270.33 L237.79,268.49 L238.0,267.75 L238.5,268.93 L239.0,270.0 L239.13,271.15 L239.27,271.92 L239.4,273.19 L239.53,274.37 L239.67,275.07 L239.8,275.91 L239.93,276.76 L240.07,277.8 L240.2,279.0 L240.29,279.75 L240.39,280.75 L240.48,281.86 L240.57,283.4 L240.67,284.19 L240.76,285.43 L240.86,286.55 L240.95,287.5 L241.04,287.92 L241.14,289.65 L241.23,290.02 L241.32,291.59 L241.42,292.68 L241.51,293.56 L241.61,294.39 L241.7,295.5 L241.8,296.16 L241.9,297.17 L242.0,298.61 L242.1,299.29 L242.2,300.53 L242.3,301.31 L242.4,302.23 L242.5,303.34 L242.6,304.68 L242.7,305.49 L242.8,306.41 L242.9,307.49 L243.0,308.54 L243.1,309.51 L243.2,310.5 L243.34,311.49 L243.48,312.95 L243.62,313.82 L243.75,314.44 L243.89,315.55 L244.03,316.48 L244.17,317.66 L244.31,318.43 L244.45,320.04 L244.58,320.94 L244.72,321.86 L244.86,323.28 L245.0,324.0 L245.21,324.93 L245.43,326.21 L245.64,327.56 L245.86,328.33 L246.07,329.45 L246.29,330.32 L246.5,331.5 L246.88,333.02 L247.25,333.95 L247.62,334.88 L248.0,336.0 L248.0,335.9 Z" fill="#f9ddb0" stroke="none" style="mix-blend-mode:multiply"/>
<path d="M206.75,336 L207.69,335.25 L208.62,334.5 L209.56,333.77 L210.5,333.0 L210.82,332.17 L211.14,331.23 L211.46,329.62 L211.79,328.93 L212.11,327.81 L212.43,326.7 L212.75,325.5 L213.0,324.19 L213.25,323.12 L213.5,322.41 L213.75,321.7 L214.0,320.3 L214.25,319.5 L214.9,318.5 L215.55,317.35 L216.2,316.5 L216.95,317.53 L217.7,318.0 L217.95,319.36 L218.2,319.92 L218.45,321.4 L218.7,321.65 L218.95,323.25 L219.2,324.0 L219.8,325.3 L220.4,325.72 L221.0,327.0 L222.0,327.91 L223.0,328.55 L224.0,329.25 L225.12,330.14 L226.25,330.3 L227.0,328.97 L227.75,328.13 L228.5,327.0 L228.82,326.23 L229.14,324.97 L229.46,323.63 L229.79,322.38 L230.11,321.99 L230.43,320.55 L230.75,319.5 L230.9,318.85 L231.05,317.11 L231.2,316.6 L231.35,315.55 L231.5,314.59 L231.65,312.81 L231.8,312.05 L231.95,310.74 L232.1,310.25 L232.25,309.0 L232.38,307.88 L232.5,307.37 L232.62,305.9 L232.75,305.22 L232.88,304.29 L233.0,302.79 L233.12,302.05 L233.25,301.37 L233.38,300.02 L233.5,298.89 L233.62,297.81 L233.75,297.0 L233.88,296.23 L234.0,294.75 L234.12,294.08 L234.25,293.04 L234.38,292.04 L234.5,290.7 L234.62,290.13 L234.75,289.33 L234.88,287.86 L235.0,286.87 L235.12,286.33 L235.25,285.0 L235.4,284.01 L235.55,282.72 L235.7,281.46 L235.85,281.0 L236.0,279.63 L236.15,278.67 L236.3,277.47 L236.45,276.71 L236.6,275.73 L236.75,274.5 L236.96,273.22 L237.17,271.91 L237.38,271.51 L237.58,270.33 L237.79,268.49 L238.0,267.75 L238.5,268.93 L239.0,270.0 L239.13,271.15 L239.27,271.92 L239.4,273.19 L239.53,274.37 L239.67,275.07 L239.8,275.91 L239.93,276.76 L240.07,277.8 L240.2,279.0 L240.29,279.75 L240.39,280.75 L240.48,281.86 L240.57,283.4 L240.67,284.19 L240.76,285.43 L240.86,286.55 L240.95,287.5 L241.04,287.92 L241.14,289.65 L241.23,290.02 L241.32,291.59 L241.42,292.68 L241.51,293.56 L241.61,294.39 L241.7,295.5 L241.8,296.16 L241.9,297.17 L242.0,298.61 L242.1,299.29 L242.2,300.53 L242.3,301.31 L242.4,302.23 L242.5,303.34 L242.6,304.68 L242.7,305.49 L242.8,306.41 L242.9,307.49 L243.0,308.54 L243.1,309.51 L243.2,310.5 L243.34,311.49 L243.48,312.95 L243.62,313.82 L243.75,314.44 L243.89,315.55 L244.03,316.48 L244.17,317.66 L244.31,318.43 L244.45,320.04 L244.58,320.94 L244.72,321.86 L244.86,323.28 L245.0,324.0 L245.21,324.93 L245.43,326.21 L245.64,327.56 L245.86,328.33 L246.07,329.45 L246.29,330.32 L246.5,331.5 L246.88,333.02 L247.25,333.95 L247.62,334.88 L248.0,336.0" fill="none" stroke="#e5952a" stroke-width="1.1" stroke-linejoin="round"/>
<path d="M210.5,335.9 L210.5,336 L211.25,335.1 L212.0,334.2 L212.75,333.44 L213.5,332.63 L214.25,331.5 L214.62,330.52 L215.0,329.51 L215.38,328.41 L215.75,327.9 L216.12,326.33 L216.5,325.5 L216.82,324.15 L217.14,323.17 L217.46,322.09 L217.79,321.08 L218.11,319.96 L218.43,318.76 L218.75,318.0 L218.88,316.86 L219.0,315.85 L219.12,315.06 L219.25,313.76 L219.38,312.66 L219.5,311.76 L219.62,311.03 L219.75,309.91 L219.88,309.19 L220.0,308.24 L220.12,306.93 L220.25,306.0 L220.35,304.68 L220.45,304.18 L220.55,303.2 L220.65,301.92 L220.75,301.13 L220.85,299.84 L220.95,299.33 L221.05,298.27 L221.15,297.23 L221.25,296.36 L221.35,294.79 L221.45,294.0 L221.54,293.04 L221.62,292.19 L221.71,291.24 L221.8,289.91 L221.89,288.71 L221.97,288.1 L222.06,286.68 L222.15,286.16 L222.24,284.61 L222.32,283.96 L222.41,282.98 L222.5,282.0 L222.68,280.65 L222.86,279.88 L223.04,278.85 L223.22,277.7 L223.4,276.75 L223.55,278.19 L223.7,279.29 L223.85,280.44 L224.0,281.05 L224.15,282.0 L224.3,283.5 L224.38,284.4 L224.46,285.19 L224.54,286.66 L224.62,287.31 L224.7,288.2 L224.78,289.33 L224.86,290.42 L224.94,291.69 L225.02,292.47 L225.1,293.34 L225.18,294.64 L225.26,295.14 L225.34,296.27 L225.42,297.65 L225.5,298.5 L225.62,299.7 L225.75,300.18 L225.88,301.15 L226.0,302.5 L226.12,303.63 L226.25,304.11 L226.38,305.45 L226.5,306.32 L226.62,307.17 L226.75,308.24 L226.88,309.33 L227.0,310.5 L227.12,311.47 L227.25,312.19 L227.38,313.6 L227.5,314.8 L227.62,315.65 L227.75,316.15 L227.88,317.62 L228.0,318.61 L228.12,319.11 L228.25,320.41 L228.38,321.62 L228.5,322.5 L228.76,323.93 L229.01,324.99 L229.27,325.77 L229.53,326.86 L229.79,328.22 L230.04,328.7 L230.3,330.0 L230.79,330.94 L231.28,331.52 L231.76,333.03 L232.25,333.75 L233.0,334.5 L233.75,335.25 L234.5,336.0 L234.5,335.9 Z" fill="#c0cadf" stroke="none" style="mix-blend-mode:multiply"/>
<path d="M210.5,336 L211.25,335.1 L212.0,334.2 L212.75,333.44 L213.5,332.63 L214.25,331.5 L214.62,330.52 L215.0,329.51 L215.38,328.41 L215.75,327.9 L216.12,326.33 L216.5,325.5 L216.82,324.15 L217.14,323.17 L217.46,322.09 L217.79,321.08 L218.11,319.96 L218.43,318.76 L218.75,318.0 L218.88,316.86 L219.0,315.85 L219.12,315.06 L219.25,313.76 L219.38,312.66 L219.5,311.76 L219.62,311.03 L219.75,309.91 L219.88,309.19 L220.0,308.24 L220.12,306.93 L220.25,306.0 L220.35,304.68 L220.45,304.18 L220.55,303.2 L220.65,301.92 L220.75,301.13 L220.85,299.84 L220.95,299.33 L221.05,298.27 L221.15,297.23 L221.25,296.36 L221.35,294.79 L221.45,294.0 L221.54,293.04 L221.62,292.19 L221.71,291.24 L221.8,289.91 L221.89,288.71 L221.97,288.1 L222.06,286.68 L222.15,286.16 L222.24,284.61 L222.32,283.96 L222.41,282.98 L222.5,282.0 L222.68,280.65 L222.86,279.88 L223.04,278.85 L223.22,277.7 L223.4,276.75 L223.55,278.19 L223.7,279.29 L223.85,280.44 L224.0,281.05 L224.15,282.0 L224.3,283.5 L224.38,284.4 L224.46,285.19 L224.54,286.66 L224.62,287.31 L224.7,288.2 L224.78,289.33 L224.86,290.42 L224.94,291.69 L225.02,292.47 L225.1,293.34 L225.18,294.64 L225.26,295.14 L225.34,296.27 L225.42,297.65 L225.5,298.5 L225.62,299.7 L225.75,300.18 L225.88,301.15 L226.0,302.5 L226.12,303.63 L226.25,304.11 L226.38,305.45 L226.5,306.32 L226.62,307.17 L226.75,308.24 L226.88,309.33 L227.0,310.5 L227.12,311.47 L227.25,312.19 L227.38,313.6 L227.5,314.8 L227.62,315.65 L227.75,316.15 L227.88,317.62 L228.0,318.61 L228.12,319.11 L228.25,320.41 L228.38,321.62 L228.5,322.5 L228.76,323.93 L229.01,324.99 L229.27,325.77 L229.53,326.86 L229.79,328.22 L230.04,328.7 L230.3,330.0 L230.79,330.94 L231.28,331.52 L231.76,333.03 L232.25,333.75 L233.0,334.5 L233.75,335.25 L234.5,336.0" fill="none" stroke="#2f4c8c" stroke-width="1.1" stroke-linejoin="round"/>
<path d="M225.5,280 L257.3,280 M225.5,278.4 L225.5,281.6 M257.3,278.4 L257.3,281.6" stroke="#1a1a1a" stroke-width="1.1" fill="none"/>
<text x="244.3" y="277.6" font-size="9.4" fill="#e39a2e" stroke="#e39a2e" stroke-width="0.22" textLength="9.7" lengthAdjust="spacingAndGlyphs" >76</text>
<text x="244.3" y="290.40000000000003" font-size="9.4" fill="#3a5a98" stroke="#3a5a98" stroke-width="0.22" textLength="9.7" lengthAdjust="spacingAndGlyphs" >21</text>
<rect x="182.7" y="261.7" width="75.40000000000003" height="74.80000000000001" fill="none" stroke="#111" stroke-width="1.3"/>
<path d="M272,335.9 L272,336 L275,330 L277.25,318 L278.75,298.5 L280.25,280.5 L281.15,272.25 L282,280.5 L283.25,298.5 L284.75,318 L286.7,330 L289.25,336 L289.25,335.9 Z" fill="#e9e9eb" stroke="none" style="mix-blend-mode:multiply"/>
<path d="M272,336 L275,330 L277.25,318 L278.75,298.5 L280.25,280.5 L281.15,272.25 L282,280.5 L283.25,298.5 L284.75,318 L286.7,330 L289.25,336" fill="none" stroke="#c0c0c4" stroke-width="0.9" stroke-linejoin="round"/>
<path d="M289.25,335.9 L289.25,336 L289.85,335.1 L290.45,334.2 L291.05,333.05 L291.65,332.53 L292.25,331.5 L293.19,330.81 L294.12,330.13 L295.06,329.8 L296.0,329.25 L297.0,329.25 L298.0,329.23 L299.0,329.25 L300.35,329.74 L301.7,330.3 L302.6,329.21 L303.5,328.5 L303.71,327.23 L303.93,326.51 L304.14,325.15 L304.36,324.35 L304.57,323.37 L304.79,322.36 L305.0,321.0 L305.07,320.36 L305.13,318.79 L305.2,317.79 L305.27,317.19 L305.33,316.06 L305.4,314.76 L305.47,314.14 L305.53,313.3 L305.6,312.27 L305.67,310.77 L305.73,309.84 L305.8,308.61 L305.87,308.38 L305.93,306.78 L306.0,306.0 L306.05,305.18 L306.11,304.03 L306.16,303.07 L306.21,302.02 L306.27,301.26 L306.32,300.08 L306.37,298.84 L306.43,297.69 L306.48,296.98 L306.53,296.34 L306.59,294.72 L306.64,294.15 L306.69,293.1 L306.75,291.73 L306.8,291.0 L306.86,289.77 L306.92,289.15 L306.98,287.95 L307.04,286.93 L307.1,285.98 L307.16,284.68 L307.22,284.16 L307.28,283.07 L307.34,282.03 L307.4,280.87 L307.46,280.25 L307.52,279.26 L307.58,278.04 L307.64,276.67 L307.7,276.0 L307.85,274.65 L308.0,273.58 L308.15,272.45 L308.3,271.83 L308.45,270.68 L308.6,269.33 L308.75,268.5 L309.8,267.75 L309.91,269.11 L310.02,269.92 L310.14,271.08 L310.25,272.13 L310.36,273.05 L310.48,273.96 L310.59,275.36 L310.7,276.0 L310.76,276.71 L310.82,278.15 L310.88,279.31 L310.93,279.98 L310.99,281.25 L311.05,281.75 L311.11,282.93 L311.17,283.82 L311.23,284.92 L311.28,286.16 L311.34,286.71 L311.4,287.87 L311.46,289.28 L311.52,289.84 L311.57,290.7 L311.63,292.4 L311.69,293.03 L311.75,294.0 L311.82,294.61 L311.89,296.06 L311.96,296.72 L312.03,297.73 L312.1,299.19 L312.17,300.12 L312.24,300.94 L312.31,302.01 L312.38,303.05 L312.44,303.97 L312.51,304.68 L312.58,306.21 L312.65,307.22 L312.72,307.94 L312.79,308.92 L312.86,310.09 L312.93,310.98 L313.0,312.0 L313.1,312.97 L313.2,314.38 L313.3,315.44 L313.4,315.87 L313.5,316.93 L313.6,318.46 L313.7,319.64 L313.8,320.49 L313.9,321.18 L314.0,322.03 L314.1,323.68 L314.2,324.81 L314.3,325.5 L314.47,326.78 L314.64,327.83 L314.81,329.09 L314.99,329.8 L315.16,331.2 L315.33,331.74 L315.5,333.0 L316.0,334.0 L316.5,335.0 L317.0,336.0 L317.0,335.9 Z" fill="#f9ddb0" stroke="none" style="mix-blend-mode:multiply"/>
<path d="M289.25,336 L289.85,335.1 L290.45,334.2 L291.05,333.05 L291.65,332.53 L292.25,331.5 L293.19,330.81 L294.12,330.13 L295.06,329.8 L296.0,329.25 L297.0,329.25 L298.0,329.23 L299.0,329.25 L300.35,329.74 L301.7,330.3 L302.6,329.21 L303.5,328.5 L303.71,327.23 L303.93,326.51 L304.14,325.15 L304.36,324.35 L304.57,323.37 L304.79,322.36 L305.0,321.0 L305.07,320.36 L305.13,318.79 L305.2,317.79 L305.27,317.19 L305.33,316.06 L305.4,314.76 L305.47,314.14 L305.53,313.3 L305.6,312.27 L305.67,310.77 L305.73,309.84 L305.8,308.61 L305.87,308.38 L305.93,306.78 L306.0,306.0 L306.05,305.18 L306.11,304.03 L306.16,303.07 L306.21,302.02 L306.27,301.26 L306.32,300.08 L306.37,298.84 L306.43,297.69 L306.48,296.98 L306.53,296.34 L306.59,294.72 L306.64,294.15 L306.69,293.1 L306.75,291.73 L306.8,291.0 L306.86,289.77 L306.92,289.15 L306.98,287.95 L307.04,286.93 L307.1,285.98 L307.16,284.68 L307.22,284.16 L307.28,283.07 L307.34,282.03 L307.4,280.87 L307.46,280.25 L307.52,279.26 L307.58,278.04 L307.64,276.67 L307.7,276.0 L307.85,274.65 L308.0,273.58 L308.15,272.45 L308.3,271.83 L308.45,270.68 L308.6,269.33 L308.75,268.5 L309.8,267.75 L309.91,269.11 L310.02,269.92 L310.14,271.08 L310.25,272.13 L310.36,273.05 L310.48,273.96 L310.59,275.36 L310.7,276.0 L310.76,276.71 L310.82,278.15 L310.88,279.31 L310.93,279.98 L310.99,281.25 L311.05,281.75 L311.11,282.93 L311.17,283.82 L311.23,284.92 L311.28,286.16 L311.34,286.71 L311.4,287.87 L311.46,289.28 L311.52,289.84 L311.57,290.7 L311.63,292.4 L311.69,293.03 L311.75,294.0 L311.82,294.61 L311.89,296.06 L311.96,296.72 L312.03,297.73 L312.1,299.19 L312.17,300.12 L312.24,300.94 L312.31,302.01 L312.38,303.05 L312.44,303.97 L312.51,304.68 L312.58,306.21 L312.65,307.22 L312.72,307.94 L312.79,308.92 L312.86,310.09 L312.93,310.98 L313.0,312.0 L313.1,312.97 L313.2,314.38 L313.3,315.44 L313.4,315.87 L313.5,316.93 L313.6,318.46 L313.7,319.64 L313.8,320.49 L313.9,321.18 L314.0,322.03 L314.1,323.68 L314.2,324.81 L314.3,325.5 L314.47,326.78 L314.64,327.83 L314.81,329.09 L314.99,329.8 L315.16,331.2 L315.33,331.74 L315.5,333.0 L316.0,334.0 L316.5,335.0 L317.0,336.0" fill="none" stroke="#e5952a" stroke-width="1.1" stroke-linejoin="round"/>
<path d="M290,335.9 L290,336 L290.17,335.0 L290.33,334.0 L290.5,333.32 L290.67,332.15 L290.83,331.21 L291.0,330.32 L291.17,328.81 L291.33,328.11 L291.5,327.0 L291.63,326.32 L291.77,325.3 L291.9,324.06 L292.03,322.74 L292.17,321.93 L292.3,321.4 L292.43,319.68 L292.57,318.86 L292.7,318.0 L292.79,317.36 L292.88,315.96 L292.96,314.77 L293.05,313.85 L293.14,313.33 L293.23,311.87 L293.31,310.94 L293.4,310.1 L293.49,309.24 L293.57,307.99 L293.66,306.67 L293.75,306.0 L293.84,305.06 L293.93,303.63 L294.01,302.68 L294.1,301.75 L294.19,301.15 L294.27,299.83 L294.36,299.15 L294.45,297.73 L294.54,296.69 L294.62,295.62 L294.71,295.16 L294.8,294.0 L295.0,293.29 L295.2,291.78 L295.4,290.79 L295.6,289.61 L295.8,289.12 L296.0,288.0 L296.9,286.72 L297.8,285.75 L298.4,286.58 L299.0,288.0 L299.21,289.19 L299.43,290.22 L299.64,291.17 L299.86,292.01 L300.07,293.47 L300.29,294.47 L300.5,295.5 L300.76,296.52 L301.01,297.37 L301.27,299.06 L301.53,300.08 L301.79,301.01 L302.04,302.33 L302.3,303.0 L302.58,304.14 L302.86,305.02 L303.14,305.91 L303.41,307.37 L303.69,308.37 L303.97,309.38 L304.25,310.5 L304.57,311.97 L304.89,312.91 L305.21,313.41 L305.54,315.09 L305.86,315.46 L306.18,317.05 L306.5,318.0 L306.88,318.85 L307.25,320.18 L307.62,321.36 L308.0,322.02 L308.38,323.21 L308.75,324.0 L309.2,324.69 L309.65,326.23 L310.1,326.84 L310.55,328.16 L311.0,329.25 L312.0,329.62 L313.0,329.91 L314.0,330.75 L315.12,330.2 L316.25,329.25 L317.0,328.17 L317.75,327.56 L318.5,327.0 L320.3,326.25 L321.05,327.04 L321.8,328.5 L322.0,329.63 L322.2,330.34 L322.4,331.14 L322.6,332.12 L322.8,333.28 L323.0,334.5 L324.2,336.0 L324.2,335.9 Z" fill="#c0cadf" stroke="none" style="mix-blend-mode:multiply"/>
<path d="M290,336 L290.17,335.0 L290.33,334.0 L290.5,333.32 L290.67,332.15 L290.83,331.21 L291.0,330.32 L291.17,328.81 L291.33,328.11 L291.5,327.0 L291.63,326.32 L291.77,325.3 L291.9,324.06 L292.03,322.74 L292.17,321.93 L292.3,321.4 L292.43,319.68 L292.57,318.86 L292.7,318.0 L292.79,317.36 L292.88,315.96 L292.96,314.77 L293.05,313.85 L293.14,313.33 L293.23,311.87 L293.31,310.94 L293.4,310.1 L293.49,309.24 L293.57,307.99 L293.66,306.67 L293.75,306.0 L293.84,305.06 L293.93,303.63 L294.01,302.68 L294.1,301.75 L294.19,301.15 L294.27,299.83 L294.36,299.15 L294.45,297.73 L294.54,296.69 L294.62,295.62 L294.71,295.16 L294.8,294.0 L295.0,293.29 L295.2,291.78 L295.4,290.79 L295.6,289.61 L295.8,289.12 L296.0,288.0 L296.9,286.72 L297.8,285.75 L298.4,286.58 L299.0,288.0 L299.21,289.19 L299.43,290.22 L299.64,291.17 L299.86,292.01 L300.07,293.47 L300.29,294.47 L300.5,295.5 L300.76,296.52 L301.01,297.37 L301.27,299.06 L301.53,300.08 L301.79,301.01 L302.04,302.33 L302.3,303.0 L302.58,304.14 L302.86,305.02 L303.14,305.91 L303.41,307.37 L303.69,308.37 L303.97,309.38 L304.25,310.5 L304.57,311.97 L304.89,312.91 L305.21,313.41 L305.54,315.09 L305.86,315.46 L306.18,317.05 L306.5,318.0 L306.88,318.85 L307.25,320.18 L307.62,321.36 L308.0,322.02 L308.38,323.21 L308.75,324.0 L309.2,324.69 L309.65,326.23 L310.1,326.84 L310.55,328.16 L311.0,329.25 L312.0,329.62 L313.0,329.91 L314.0,330.75 L315.12,330.2 L316.25,329.25 L317.0,328.17 L317.75,327.56 L318.5,327.0 L320.3,326.25 L321.05,327.04 L321.8,328.5 L322.0,329.63 L322.2,330.34 L322.4,331.14 L322.6,332.12 L322.8,333.28 L323.0,334.5 L324.2,336.0" fill="none" stroke="#2f4c8c" stroke-width="1.1" stroke-linejoin="round"/>
<path d="M303.2,281.7 L337.7,281.7 M303.2,280.09999999999997 L303.2,283.3 M337.7,280.09999999999997 L337.7,283.3" stroke="#1a1a1a" stroke-width="1.1" fill="none"/>
<text x="317.0" y="279.85" font-size="9.4" fill="#e39a2e" stroke="#e39a2e" stroke-width="0.22" textLength="9.7" lengthAdjust="spacingAndGlyphs" >82</text>
<text x="317.0" y="293.8" font-size="9.4" fill="#3a5a98" stroke="#3a5a98" stroke-width="0.22" textLength="9.7" lengthAdjust="spacingAndGlyphs" >31</text>
<rect x="264.4" y="261.7" width="75.0" height="74.80000000000001" fill="none" stroke="#111" stroke-width="1.3"/>
<path d="M348,335.9 L348,335.25 L351,331.5 L354,330 L356.25,327 L358.5,321 L360,313.5 L361.5,303 L363,291 L364.5,280.5 L366.3,270 L367.2,276 L368.25,283.5 L369.3,298.5 L370.2,313.5 L371.25,327 L372,336 L372,335.9 Z" fill="#e9e9eb" stroke="none" style="mix-blend-mode:multiply"/>
<path d="M348,335.25 L351,331.5 L354,330 L356.25,327 L358.5,321 L360,313.5 L361.5,303 L363,291 L364.5,280.5 L366.3,270 L367.2,276 L368.25,283.5 L369.3,298.5 L370.2,313.5 L371.25,327 L372,336" fill="none" stroke="#c0c0c4" stroke-width="0.9" stroke-linejoin="round"/>
<path d="M369,335.9 L369,336 L369.6,335.0 L370.2,334.0 L370.8,333.0 L370.9,332.14 L371.0,331.23 L371.1,330.02 L371.2,329.01 L371.3,327.91 L371.4,327.4 L371.5,325.83 L371.6,324.72 L371.7,323.81 L371.8,322.81 L371.9,321.86 L372.0,321.0 L372.08,319.81 L372.16,318.69 L372.24,317.86 L372.32,316.85 L372.4,316.06 L372.48,314.76 L372.56,313.66 L372.64,312.76 L372.72,312.03 L372.8,310.91 L372.88,310.19 L372.96,309.24 L373.04,307.93 L373.12,306.68 L373.2,306.0 L373.27,305.18 L373.34,304.2 L373.41,302.92 L373.48,302.13 L373.55,300.84 L373.62,300.33 L373.69,299.27 L373.76,298.23 L373.83,297.36 L373.9,295.79 L373.97,295.04 L374.04,294.19 L374.11,293.24 L374.18,291.91 L374.25,291.0 L374.32,289.71 L374.39,289.1 L374.46,287.68 L374.53,287.16 L374.6,285.61 L374.67,284.96 L374.74,283.98 L374.81,282.7 L374.88,281.98 L374.95,281.0 L375.02,279.9 L375.09,279.32 L375.16,278.29 L375.23,277.31 L375.3,276.0 L375.45,274.8 L375.6,273.62 L375.75,272.9 L375.9,271.69 L376.05,271.16 L376.2,270.0 L376.65,268.69 L377.1,267.75 L377.28,268.5 L377.46,269.68 L377.64,270.82 L377.82,272.14 L378.0,273.0 L378.13,273.97 L378.27,274.84 L378.4,276.14 L378.53,276.64 L378.67,277.77 L378.8,279.15 L378.93,280.2 L379.07,280.68 L379.2,282.0 L379.37,282.65 L379.53,284.0 L379.7,285.13 L379.87,285.61 L380.03,286.95 L380.2,287.82 L380.37,288.67 L380.53,289.74 L380.7,291.0 L380.96,291.9 L381.21,293.12 L381.47,293.9 L381.73,295.38 L381.99,296.66 L382.24,297.58 L382.5,298.5 L383.62,298.9 L384.75,300.0 L385.88,300.49 L387.0,300.75 L387.75,301.86 L388.5,302.36 L389.25,303.75 L390.0,304.78 L390.75,306.0 L391.0,307.12 L391.25,308.36 L391.5,309.34 L391.75,310.06 L392.0,311.07 L392.25,312.0 L392.5,313.37 L392.75,313.77 L393.0,315.01 L393.25,315.65 L393.5,317.22 L393.75,318.0 L394.0,319.12 L394.25,319.77 L394.5,320.76 L394.75,322.02 L395.0,323.2 L395.25,324.0 L395.62,324.83 L396.0,326.11 L396.38,327.39 L396.75,328.5 L397.25,329.31 L397.75,330.81 L398.25,331.5 L398.75,332.68 L399.25,333.86 L399.75,334.5 L400.5,335.25 L401.25,336.0 L401.25,335.9 Z" fill="#f9ddb0" stroke="none" style="mix-blend-mode:multiply"/>
<path d="M369,336 L369.6,335.0 L370.2,334.0 L370.8,333.0 L370.9,332.14 L371.0,331.23 L371.1,330.02 L371.2,329.01 L371.3,327.91 L371.4,327.4 L371.5,325.83 L371.6,324.72 L371.7,323.81 L371.8,322.81 L371.9,321.86 L372.0,321.0 L372.08,319.81 L372.16,318.69 L372.24,317.86 L372.32,316.85 L372.4,316.06 L372.48,314.76 L372.56,313.66 L372.64,312.76 L372.72,312.03 L372.8,310.91 L372.88,310.19 L372.96,309.24 L373.04,307.93 L373.12,306.68 L373.2,306.0 L373.27,305.18 L373.34,304.2 L373.41,302.92 L373.48,302.13 L373.55,300.84 L373.62,300.33 L373.69,299.27 L373.76,298.23 L373.83,297.36 L373.9,295.79 L373.97,295.04 L374.04,294.19 L374.11,293.24 L374.18,291.91 L374.25,291.0 L374.32,289.71 L374.39,289.1 L374.46,287.68 L374.53,287.16 L374.6,285.61 L374.67,284.96 L374.74,283.98 L374.81,282.7 L374.88,281.98 L374.95,281.0 L375.02,279.9 L375.09,279.32 L375.16,278.29 L375.23,277.31 L375.3,276.0 L375.45,274.8 L375.6,273.62 L375.75,272.9 L375.9,271.69 L376.05,271.16 L376.2,270.0 L376.65,268.69 L377.1,267.75 L377.28,268.5 L377.46,269.68 L377.64,270.82 L377.82,272.14 L378.0,273.0 L378.13,273.97 L378.27,274.84 L378.4,276.14 L378.53,276.64 L378.67,277.77 L378.8,279.15 L378.93,280.2 L379.07,280.68 L379.2,282.0 L379.37,282.65 L379.53,284.0 L379.7,285.13 L379.87,285.61 L380.03,286.95 L380.2,287.82 L380.37,288.67 L380.53,289.74 L380.7,291.0 L380.96,291.9 L381.21,293.12 L381.47,293.9 L381.73,295.38 L381.99,296.66 L382.24,297.58 L382.5,298.5 L383.62,298.9 L384.75,300.0 L385.88,300.49 L387.0,300.75 L387.75,301.86 L388.5,302.36 L389.25,303.75 L390.0,304.78 L390.75,306.0 L391.0,307.12 L391.25,308.36 L391.5,309.34 L391.75,310.06 L392.0,311.07 L392.25,312.0 L392.5,313.37 L392.75,313.77 L393.0,315.01 L393.25,315.65 L393.5,317.22 L393.75,318.0 L394.0,319.12 L394.25,319.77 L394.5,320.76 L394.75,322.02 L395.0,323.2 L395.25,324.0 L395.62,324.83 L396.0,326.11 L396.38,327.39 L396.75,328.5 L397.25,329.31 L397.75,330.81 L398.25,331.5 L398.75,332.68 L399.25,333.86 L399.75,334.5 L400.5,335.25 L401.25,336.0" fill="none" stroke="#e5952a" stroke-width="1.1" stroke-linejoin="round"/>
<path d="M371.25,335.9 L371.25,336 L371.5,335.0 L371.75,334.0 L372.0,332.73 L372.25,332.15 L372.5,331.11 L372.75,330.0 L372.88,328.98 L373.0,327.77 L373.12,327.23 L373.25,326.25 L373.38,325.01 L373.5,324.0 L373.62,322.79 L373.75,321.6 L373.88,320.9 L374.0,320.07 L374.12,318.66 L374.25,318.0 L374.35,317.24 L374.45,315.79 L374.55,314.79 L374.65,313.63 L374.75,313.4 L374.85,312.19 L374.95,311.3 L375.05,310.09 L375.15,308.63 L375.25,307.86 L375.35,307.0 L375.45,305.69 L375.55,305.36 L375.65,303.89 L375.75,303.0 L375.85,301.72 L375.95,301.25 L376.05,299.7 L376.15,299.34 L376.25,297.96 L376.35,297.04 L376.45,295.87 L376.55,294.99 L376.65,293.75 L376.75,292.63 L376.85,292.29 L376.95,290.79 L377.05,290.22 L377.15,288.77 L377.25,288.0 L377.38,287.38 L377.5,286.32 L377.62,285.2 L377.75,284.21 L377.88,283.06 L378.0,282.18 L378.12,280.7 L378.25,279.98 L378.38,279.26 L378.5,277.76 L378.62,277.34 L378.75,276.0 L379.8,277.5 L379.89,278.85 L379.98,279.5 L380.08,280.51 L380.17,281.61 L380.26,282.6 L380.35,284.13 L380.45,284.68 L380.54,285.43 L380.63,286.52 L380.72,288.06 L380.82,289.32 L380.91,289.96 L381.0,291.0 L381.1,291.99 L381.2,293.04 L381.3,294.2 L381.4,294.78 L381.5,296.09 L381.6,297.05 L381.7,298.1 L381.8,298.74 L381.9,299.74 L382.0,300.88 L382.1,302.34 L382.2,302.88 L382.3,304.08 L382.4,304.85 L382.5,306.0 L382.65,306.68 L382.8,307.65 L382.95,309.25 L383.1,310.22 L383.25,310.9 L383.4,312.15 L383.55,313.14 L383.7,314.32 L383.85,315.37 L384.0,315.93 L384.15,317.39 L384.3,318.0 L384.58,319.44 L384.86,320.22 L385.14,321.52 L385.41,322.28 L385.69,323.26 L385.97,324.23 L386.25,325.5 L386.7,326.7 L387.15,327.03 L387.6,327.86 L388.05,329.34 L388.5,330.0 L389.5,330.72 L390.5,330.99 L391.5,331.5 L392.5,332.27 L393.5,332.14 L394.5,333.0 L395.5,333.31 L396.5,334.0 L397.5,334.5 L398.62,335.25 L399.75,336.0 L399.75,335.9 Z" fill="#c0cadf" stroke="none" style="mix-blend-mode:multiply"/>
<path d="M371.25,336 L371.5,335.0 L371.75,334.0 L372.0,332.73 L372.25,332.15 L372.5,331.11 L372.75,330.0 L372.88,328.98 L373.0,327.77 L373.12,327.23 L373.25,326.25 L373.38,325.01 L373.5,324.0 L373.62,322.79 L373.75,321.6 L373.88,320.9 L374.0,320.07 L374.12,318.66 L374.25,318.0 L374.35,317.24 L374.45,315.79 L374.55,314.79 L374.65,313.63 L374.75,313.4 L374.85,312.19 L374.95,311.3 L375.05,310.09 L375.15,308.63 L375.25,307.86 L375.35,307.0 L375.45,305.69 L375.55,305.36 L375.65,303.89 L375.75,303.0 L375.85,301.72 L375.95,301.25 L376.05,299.7 L376.15,299.34 L376.25,297.96 L376.35,297.04 L376.45,295.87 L376.55,294.99 L376.65,293.75 L376.75,292.63 L376.85,292.29 L376.95,290.79 L377.05,290.22 L377.15,288.77 L377.25,288.0 L377.38,287.38 L377.5,286.32 L377.62,285.2 L377.75,284.21 L377.88,283.06 L378.0,282.18 L378.12,280.7 L378.25,279.98 L378.38,279.26 L378.5,277.76 L378.62,277.34 L378.75,276.0 L379.8,277.5 L379.89,278.85 L379.98,279.5 L380.08,280.51 L380.17,281.61 L380.26,282.6 L380.35,284.13 L380.45,284.68 L380.54,285.43 L380.63,286.52 L380.72,288.06 L380.82,289.32 L380.91,289.96 L381.0,291.0 L381.1,291.99 L381.2,293.04 L381.3,294.2 L381.4,294.78 L381.5,296.09 L381.6,297.05 L381.7,298.1 L381.8,298.74 L381.9,299.74 L382.0,300.88 L382.1,302.34 L382.2,302.88 L382.3,304.08 L382.4,304.85 L382.5,306.0 L382.65,306.68 L382.8,307.65 L382.95,309.25 L383.1,310.22 L383.25,310.9 L383.4,312.15 L383.55,313.14 L383.7,314.32 L383.85,315.37 L384.0,315.93 L384.15,317.39 L384.3,318.0 L384.58,319.44 L384.86,320.22 L385.14,321.52 L385.41,322.28 L385.69,323.26 L385.97,324.23 L386.25,325.5 L386.7,326.7 L387.15,327.03 L387.6,327.86 L388.05,329.34 L388.5,330.0 L389.5,330.72 L390.5,330.99 L391.5,331.5 L392.5,332.27 L393.5,332.14 L394.5,333.0 L395.5,333.31 L396.5,334.0 L397.5,334.5 L398.62,335.25 L399.75,336.0" fill="none" stroke="#2f4c8c" stroke-width="1.1" stroke-linejoin="round"/>
<path d="M379.5,278 L418.8,278 M379.5,276.4 L379.5,279.6 M418.8,276.4 L418.8,279.6" stroke="#1a1a1a" stroke-width="1.1" fill="none"/>
<text x="396.0" y="275.8" font-size="9.4" fill="#e39a2e" stroke="#e39a2e" stroke-width="0.22" textLength="9.7" lengthAdjust="spacingAndGlyphs" >48</text>
<text x="396.0" y="289.3" font-size="9.4" fill="#3a5a98" stroke="#3a5a98" stroke-width="0.22" textLength="9.7" lengthAdjust="spacingAndGlyphs" >36</text>
<rect x="345.9" y="261.7" width="75.10000000000002" height="74.80000000000001" fill="none" stroke="#111" stroke-width="1.3"/>
<path d="M441,335.9 L441,336 L443.25,328.5 L445.2,313.5 L447,294 L448.5,279 L450,270 L451.2,276 L452.4,291 L453.75,310.5 L455.25,327 L456.75,336 L456.75,335.9 Z" fill="#e9e9eb" stroke="none" style="mix-blend-mode:multiply"/>
<path d="M441,336 L443.25,328.5 L445.2,313.5 L447,294 L448.5,279 L450,270 L451.2,276 L452.4,291 L453.75,310.5 L455.25,327 L456.75,336" fill="none" stroke="#c0c0c4" stroke-width="0.9" stroke-linejoin="round"/>
<path d="M457.5,335.9 L457.5,336 L458.4,335.55 L459.3,335.1 L460.2,334.65 L461.1,334.2 L462.0,333.75 L462.82,333.32 L463.65,332.4 L464.48,331.71 L465.3,330.75 L465.58,330.11 L465.86,328.63 L466.14,327.97 L466.41,327.22 L466.69,326.23 L466.97,325.02 L467.25,324.0 L467.36,322.69 L467.46,321.83 L467.56,321.25 L467.67,319.48 L467.77,318.61 L467.88,318.06 L467.99,316.61 L468.09,315.37 L468.19,314.4 L468.3,313.5 L468.36,312.83 L468.42,311.37 L468.48,310.44 L468.54,309.6 L468.6,308.74 L468.66,307.49 L468.72,306.17 L468.78,305.56 L468.84,304.13 L468.9,303.18 L468.96,302.25 L469.02,301.65 L469.08,300.33 L469.14,299.65 L469.2,298.5 L469.25,297.23 L469.31,296.19 L469.36,295.12 L469.41,294.66 L469.47,293.79 L469.52,292.28 L469.57,291.29 L469.63,290.11 L469.68,289.62 L469.73,288.34 L469.79,287.21 L469.84,286.62 L469.89,285.58 L469.95,284.46 L470.0,283.5 L470.06,282.22 L470.12,281.61 L470.18,280.54 L470.23,279.45 L470.29,278.23 L470.35,277.84 L470.41,276.79 L470.47,275.65 L470.52,274.9 L470.58,273.56 L470.64,272.38 L470.7,271.5 L470.89,270.07 L471.07,269.34 L471.26,268.14 L471.45,267.0 L471.64,268.07 L471.82,269.64 L472.01,270.65 L472.2,271.5 L472.27,272.22 L472.33,273.87 L472.4,274.2 L472.46,275.75 L472.53,276.51 L472.59,277.87 L472.66,279.08 L472.73,279.77 L472.79,280.99 L472.86,281.46 L472.92,282.98 L472.99,283.57 L473.05,284.87 L473.12,285.8 L473.18,286.63 L473.25,288.0 L473.31,289.2 L473.37,289.67 L473.43,290.81 L473.48,291.67 L473.54,293.13 L473.6,293.84 L473.66,294.64 L473.72,295.62 L473.77,296.78 L473.83,298.01 L473.89,298.61 L473.95,299.62 L474.01,301.13 L474.07,302.02 L474.12,302.71 L474.18,303.85 L474.24,304.7 L474.3,306.0 L474.4,306.82 L474.5,307.91 L474.6,308.77 L474.7,309.76 L474.8,310.78 L474.9,311.84 L475.0,313.04 L475.1,314.31 L475.2,315.12 L475.3,315.96 L475.4,316.6 L475.5,317.75 L475.6,319.11 L475.7,319.92 L475.8,321.0 L475.97,322.28 L476.13,323.33 L476.3,323.84 L476.47,324.89 L476.63,325.84 L476.8,327.14 L476.97,327.68 L477.13,328.82 L477.3,330.0 L477.62,331.3 L477.95,331.9 L478.27,333.38 L478.6,334.0 L478.93,335.0 L479.25,336.0 L479.25,335.9 Z" fill="#f9ddb0" stroke="none" style="mix-blend-mode:multiply"/>
<path d="M457.5,336 L458.4,335.55 L459.3,335.1 L460.2,334.65 L461.1,334.2 L462.0,333.75 L462.82,333.32 L463.65,332.4 L464.48,331.71 L465.3,330.75 L465.58,330.11 L465.86,328.63 L466.14,327.97 L466.41,327.22 L466.69,326.23 L466.97,325.02 L467.25,324.0 L467.36,322.69 L467.46,321.83 L467.56,321.25 L467.67,319.48 L467.77,318.61 L467.88,318.06 L467.99,316.61 L468.09,315.37 L468.19,314.4 L468.3,313.5 L468.36,312.83 L468.42,311.37 L468.48,310.44 L468.54,309.6 L468.6,308.74 L468.66,307.49 L468.72,306.17 L468.78,305.56 L468.84,304.13 L468.9,303.18 L468.96,302.25 L469.02,301.65 L469.08,300.33 L469.14,299.65 L469.2,298.5 L469.25,297.23 L469.31,296.19 L469.36,295.12 L469.41,294.66 L469.47,293.79 L469.52,292.28 L469.57,291.29 L469.63,290.11 L469.68,289.62 L469.73,288.34 L469.79,287.21 L469.84,286.62 L469.89,285.58 L469.95,284.46 L470.0,283.5 L470.06,282.22 L470.12,281.61 L470.18,280.54 L470.23,279.45 L470.29,278.23 L470.35,277.84 L470.41,276.79 L470.47,275.65 L470.52,274.9 L470.58,273.56 L470.64,272.38 L470.7,271.5 L470.89,270.07 L471.07,269.34 L471.26,268.14 L471.45,267.0 L471.64,268.07 L471.82,269.64 L472.01,270.65 L472.2,271.5 L472.27,272.22 L472.33,273.87 L472.4,274.2 L472.46,275.75 L472.53,276.51 L472.59,277.87 L472.66,279.08 L472.73,279.77 L472.79,280.99 L472.86,281.46 L472.92,282.98 L472.99,283.57 L473.05,284.87 L473.12,285.8 L473.18,286.63 L473.25,288.0 L473.31,289.2 L473.37,289.67 L473.43,290.81 L473.48,291.67 L473.54,293.13 L473.6,293.84 L473.66,294.64 L473.72,295.62 L473.77,296.78 L473.83,298.01 L473.89,298.61 L473.95,299.62 L474.01,301.13 L474.07,302.02 L474.12,302.71 L474.18,303.85 L474.24,304.7 L474.3,306.0 L474.4,306.82 L474.5,307.91 L474.6,308.77 L474.7,309.76 L474.8,310.78 L474.9,311.84 L475.0,313.04 L475.1,314.31 L475.2,315.12 L475.3,315.96 L475.4,316.6 L475.5,317.75 L475.6,319.11 L475.7,319.92 L475.8,321.0 L475.97,322.28 L476.13,323.33 L476.3,323.84 L476.47,324.89 L476.63,325.84 L476.8,327.14 L476.97,327.68 L477.13,328.82 L477.3,330.0 L477.62,331.3 L477.95,331.9 L478.27,333.38 L478.6,334.0 L478.93,335.0 L479.25,336.0" fill="none" stroke="#e5952a" stroke-width="1.1" stroke-linejoin="round"/>
<path d="M455.25,335.9 L455.25,336 L455.42,335.0 L455.58,334.0 L455.75,333.37 L455.92,331.71 L456.08,330.62 L456.25,330.4 L456.42,328.75 L456.58,327.7 L456.75,327.0 L456.87,326.08 L456.98,324.8 L457.1,324.2 L457.21,322.63 L457.33,322.18 L457.44,320.62 L457.56,319.81 L457.67,319.04 L457.79,317.8 L457.9,316.95 L458.02,315.74 L458.13,314.18 L458.25,313.5 L458.35,312.81 L458.45,311.57 L458.55,310.35 L458.65,309.25 L458.75,308.78 L458.85,307.57 L458.95,306.85 L459.05,305.72 L459.15,304.87 L459.25,303.55 L459.35,302.66 L459.45,301.59 L459.55,300.31 L459.65,299.87 L459.75,298.5 L459.86,297.3 L459.96,296.62 L460.06,295.71 L460.17,294.42 L460.27,292.96 L460.38,292.46 L460.49,291.28 L460.59,289.85 L460.69,288.69 L460.8,288.0 L461.0,287.03 L461.2,285.63 L461.4,285.34 L461.6,284.01 L461.8,283.01 L462.0,282.0 L462.75,281.25 L462.9,282.23 L463.05,283.48 L463.2,284.73 L463.35,285.3 L463.5,286.5 L463.63,287.4 L463.77,288.57 L463.9,289.34 L464.03,290.58 L464.17,291.53 L464.3,292.45 L464.43,293.64 L464.57,294.52 L464.7,295.5 L464.91,296.22 L465.12,298.0 L465.33,298.53 L465.54,299.65 L465.75,300.75 L466.73,301.2 L467.7,301.8 L468.15,303.19 L468.6,304.26 L469.05,304.96 L469.5,306.0 L470.0,306.92 L470.5,307.68 L471.0,309.0 L471.45,310.44 L471.9,310.99 L472.35,312.41 L472.8,313.5 L473.29,314.5 L473.77,315.61 L474.26,316.76 L474.75,318.0 L475.07,318.75 L475.4,319.63 L475.73,321.03 L476.05,322.24 L476.38,323.12 L476.7,324.0 L477.06,324.81 L477.42,326.25 L477.78,326.79 L478.14,328.13 L478.5,329.25 L478.88,330.45 L479.25,331.46 L479.62,332.03 L480.0,333.0 L480.5,334.0 L481.0,335.0 L481.5,336.0 L481.5,335.9 Z" fill="#c0cadf" stroke="none" style="mix-blend-mode:multiply"/>
<path d="M455.25,336 L455.42,335.0 L455.58,334.0 L455.75,333.37 L455.92,331.71 L456.08,330.62 L456.25,330.4 L456.42,328.75 L456.58,327.7 L456.75,327.0 L456.87,326.08 L456.98,324.8 L457.1,324.2 L457.21,322.63 L457.33,322.18 L457.44,320.62 L457.56,319.81 L457.67,319.04 L457.79,317.8 L457.9,316.95 L458.02,315.74 L458.13,314.18 L458.25,313.5 L458.35,312.81 L458.45,311.57 L458.55,310.35 L458.65,309.25 L458.75,308.78 L458.85,307.57 L458.95,306.85 L459.05,305.72 L459.15,304.87 L459.25,303.55 L459.35,302.66 L459.45,301.59 L459.55,300.31 L459.65,299.87 L459.75,298.5 L459.86,297.3 L459.96,296.62 L460.06,295.71 L460.17,294.42 L460.27,292.96 L460.38,292.46 L460.49,291.28 L460.59,289.85 L460.69,288.69 L460.8,288.0 L461.0,287.03 L461.2,285.63 L461.4,285.34 L461.6,284.01 L461.8,283.01 L462.0,282.0 L462.75,281.25 L462.9,282.23 L463.05,283.48 L463.2,284.73 L463.35,285.3 L463.5,286.5 L463.63,287.4 L463.77,288.57 L463.9,289.34 L464.03,290.58 L464.17,291.53 L464.3,292.45 L464.43,293.64 L464.57,294.52 L464.7,295.5 L464.91,296.22 L465.12,298.0 L465.33,298.53 L465.54,299.65 L465.75,300.75 L466.73,301.2 L467.7,301.8 L468.15,303.19 L468.6,304.26 L469.05,304.96 L469.5,306.0 L470.0,306.92 L470.5,307.68 L471.0,309.0 L471.45,310.44 L471.9,310.99 L472.35,312.41 L472.8,313.5 L473.29,314.5 L473.77,315.61 L474.26,316.76 L474.75,318.0 L475.07,318.75 L475.4,319.63 L475.73,321.03 L476.05,322.24 L476.38,323.12 L476.7,324.0 L477.06,324.81 L477.42,326.25 L477.78,326.79 L478.14,328.13 L478.5,329.25 L478.88,330.45 L479.25,331.46 L479.62,332.03 L480.0,333.0 L480.5,334.0 L481.0,335.0 L481.5,336.0" fill="none" stroke="#2f4c8c" stroke-width="1.1" stroke-linejoin="round"/>
<path d="M467.7,278.5 L499.2,278.5 M467.7,276.9 L467.7,280.1 M499.2,276.9 L499.2,280.1" stroke="#1a1a1a" stroke-width="1.1" fill="none"/>
<text x="480.0" y="276.1" font-size="9.4" fill="#e39a2e" stroke="#e39a2e" stroke-width="0.22" textLength="9.7" lengthAdjust="spacingAndGlyphs" >89</text>
<text x="480.0" y="289.3" font-size="9.4" fill="#3a5a98" stroke="#3a5a98" stroke-width="0.22" textLength="9.7" lengthAdjust="spacingAndGlyphs" >39</text>
<rect x="427.2" y="261.7" width="74.80000000000001" height="74.80000000000001" fill="none" stroke="#111" stroke-width="1.3"/>
<text x="177.2" y="380.0" font-size="10.6" fill="#222" stroke="#222" stroke-width="0.22" text-anchor="middle" textLength="26.8" lengthAdjust="spacingAndGlyphs" transform="rotate(-90 177.2 380.0)" >UCB #4</text>
<path d="M184.25,416.9 L184.25,415.25 L188,413 L191,410 L194,404 L196.25,399.5 L198.2,390.5 L200,384.5 L201.5,375.5 L203,369.5 L204.5,365 L205.7,360.5 L206.75,350.75 L207.5,357.5 L208.7,366.5 L209.75,375.5 L210.8,386 L212,398 L213.2,408.5 L214.7,416 L214.7,416.9 Z" fill="#e9e9eb" stroke="none" style="mix-blend-mode:multiply"/>
<path d="M184.25,415.25 L188,413 L191,410 L194,404 L196.25,399.5 L198.2,390.5 L200,384.5 L201.5,375.5 L203,369.5 L204.5,365 L205.7,360.5 L206.75,350.75 L207.5,357.5 L208.7,366.5 L209.75,375.5 L210.8,386 L212,398 L213.2,408.5 L214.7,416" fill="none" stroke="#c0c0c4" stroke-width="0.9" stroke-linejoin="round"/>
<path d="M202.25,416.9 L202.25,416 L203.19,415.25 L204.12,414.67 L205.06,414.02 L206.0,413.0 L206.5,411.75 L207.0,411.4 L207.5,409.76 L208.0,409.14 L208.5,407.67 L209.0,407.0 L209.25,406.21 L209.5,404.72 L209.75,404.17 L210.0,403.18 L210.25,402.21 L210.5,400.95 L210.75,400.29 L211.0,399.39 L211.25,398.0 L211.38,396.69 L211.5,396.01 L211.62,395.37 L211.75,394.19 L211.88,392.96 L212.0,391.84 L212.12,391.36 L212.25,389.67 L212.38,389.21 L212.5,388.27 L212.62,386.73 L212.75,386.0 L212.9,384.81 L213.05,383.74 L213.2,382.88 L213.35,381.69 L213.5,381.06 L213.65,380.04 L213.8,378.5 L213.95,377.92 L214.1,376.21 L214.25,375.5 L214.75,374.18 L215.25,373.63 L215.75,372.5 L216.25,373.74 L216.75,374.76 L217.25,375.5 L217.46,376.97 L217.68,377.93 L217.89,378.53 L218.11,379.98 L218.32,381.2 L218.54,381.6 L218.75,383.0 L219.03,384.07 L219.31,384.87 L219.59,385.93 L219.86,387.27 L220.14,388.49 L220.42,389.81 L220.7,390.5 L221.45,390.96 L222.2,392.0 L223.1,393.13 L224.0,394.25 L224.5,395.65 L225.0,396.46 L225.5,397.25 L226.25,396.15 L227.0,395.0 L227.38,393.67 L227.75,392.85 L228.12,391.43 L228.5,390.5 L228.71,389.54 L228.93,388.48 L229.14,387.2 L229.36,386.45 L229.57,385.07 L229.79,384.05 L230.0,383.0 L230.2,382.27 L230.4,380.8 L230.6,379.75 L230.8,379.06 L231.0,377.95 L231.2,377.3 L231.4,375.8 L231.6,374.9 L231.8,374.0 L232.01,372.57 L232.23,371.82 L232.44,370.64 L232.66,369.67 L232.87,368.85 L233.09,367.2 L233.3,366.5 L233.43,365.89 L233.57,364.67 L233.7,363.75 L233.83,362.53 L233.97,361.56 L234.1,360.43 L234.23,359.42 L234.37,358.28 L234.5,357.5 L234.88,356.22 L235.25,355.09 L235.62,353.99 L236.0,353.0 L236.45,352.39 L236.9,351.36 L237.35,350.3 L237.8,349.25 L239.0,350.0 L239.2,350.61 L239.4,351.81 L239.6,353.03 L239.8,354.15 L240.0,354.94 L240.2,356.0 L240.3,357.11 L240.4,358.32 L240.5,358.81 L240.6,359.91 L240.7,361.21 L240.8,361.85 L240.9,363.18 L241.0,363.92 L241.1,364.62 L241.2,365.97 L241.3,366.65 L241.4,368.23 L241.5,369.28 L241.6,370.02 L241.7,371.0 L241.8,372.32 L241.9,372.77 L242.0,373.96 L242.1,374.74 L242.2,375.64 L242.3,377.26 L242.4,377.64 L242.5,379.35 L242.6,380.05 L242.7,381.16 L242.8,381.64 L242.9,383.33 L243.0,384.24 L243.1,384.68 L243.2,385.75 L243.3,386.71 L243.4,388.0 L243.5,389.0 L243.62,389.66 L243.75,391.24 L243.88,392.0 L244.0,393.16 L244.12,393.8 L244.25,395.12 L244.38,395.96 L244.5,397.12 L244.62,397.93 L244.75,399.39 L244.88,400.28 L245.0,401.0 L245.2,402.27 L245.4,402.87 L245.6,403.75 L245.8,404.72 L246.0,405.71 L246.2,407.37 L246.4,407.83 L246.6,409.3 L246.8,410.0 L247.12,410.79 L247.45,412.1 L247.78,412.8 L248.1,413.85 L248.43,415.0 L248.75,416.0 L248.75,416.9 Z" fill="#f9ddb0" stroke="none" style="mix-blend-mode:multiply"/>
<path d="M202.25,416 L203.19,415.25 L204.12,414.67 L205.06,414.02 L206.0,413.0 L206.5,411.75 L207.0,411.4 L207.5,409.76 L208.0,409.14 L208.5,407.67 L209.0,407.0 L209.25,406.21 L209.5,404.72 L209.75,404.17 L210.0,403.18 L210.25,402.21 L210.5,400.95 L210.75,400.29 L211.0,399.39 L211.25,398.0 L211.38,396.69 L211.5,396.01 L211.62,395.37 L211.75,394.19 L211.88,392.96 L212.0,391.84 L212.12,391.36 L212.25,389.67 L212.38,389.21 L212.5,388.27 L212.62,386.73 L212.75,386.0 L212.9,384.81 L213.05,383.74 L213.2,382.88 L213.35,381.69 L213.5,381.06 L213.65,380.04 L213.8,378.5 L213.95,377.92 L214.1,376.21 L214.25,375.5 L214.75,374.18 L215.25,373.63 L215.75,372.5 L216.25,373.74 L216.75,374.76 L217.25,375.5 L217.46,376.97 L217.68,377.93 L217.89,378.53 L218.11,379.98 L218.32,381.2 L218.54,381.6 L218.75,383.0 L219.03,384.07 L219.31,384.87 L219.59,385.93 L219.86,387.27 L220.14,388.49 L220.42,389.81 L220.7,390.5 L221.45,390.96 L222.2,392.0 L223.1,393.13 L224.0,394.25 L224.5,395.65 L225.0,396.46 L225.5,397.25 L226.25,396.15 L227.0,395.0 L227.38,393.67 L227.75,392.85 L228.12,391.43 L228.5,390.5 L228.71,389.54 L228.93,388.48 L229.14,387.2 L229.36,386.45 L229.57,385.07 L229.79,384.05 L230.0,383.0 L230.2,382.27 L230.4,380.8 L230.6,379.75 L230.8,379.06 L231.0,377.95 L231.2,377.3 L231.4,375.8 L231.6,374.9 L231.8,374.0 L232.01,372.57 L232.23,371.82 L232.44,370.64 L232.66,369.67 L232.87,368.85 L233.09,367.2 L233.3,366.5 L233.43,365.89 L233.57,364.67 L233.7,363.75 L233.83,362.53 L233.97,361.56 L234.1,360.43 L234.23,359.42 L234.37,358.28 L234.5,357.5 L234.88,356.22 L235.25,355.09 L235.62,353.99 L236.0,353.0 L236.45,352.39 L236.9,351.36 L237.35,350.3 L237.8,349.25 L239.0,350.0 L239.2,350.61 L239.4,351.81 L239.6,353.03 L239.8,354.15 L240.0,354.94 L240.2,356.0 L240.3,357.11 L240.4,358.32 L240.5,358.81 L240.6,359.91 L240.7,361.21 L240.8,361.85 L240.9,363.18 L241.0,363.92 L241.1,364.62 L241.2,365.97 L241.3,366.65 L241.4,368.23 L241.5,369.28 L241.6,370.02 L241.7,371.0 L241.8,372.32 L241.9,372.77 L242.0,373.96 L242.1,374.74 L242.2,375.64 L242.3,377.26 L242.4,377.64 L242.5,379.35 L242.6,380.05 L242.7,381.16 L242.8,381.64 L242.9,383.33 L243.0,384.24 L243.1,384.68 L243.2,385.75 L243.3,386.71 L243.4,388.0 L243.5,389.0 L243.62,389.66 L243.75,391.24 L243.88,392.0 L244.0,393.16 L244.12,393.8 L244.25,395.12 L244.38,395.96 L244.5,397.12 L244.62,397.93 L244.75,399.39 L244.88,400.28 L245.0,401.0 L245.2,402.27 L245.4,402.87 L245.6,403.75 L245.8,404.72 L246.0,405.71 L246.2,407.37 L246.4,407.83 L246.6,409.3 L246.8,410.0 L247.12,410.79 L247.45,412.1 L247.78,412.8 L248.1,413.85 L248.43,415.0 L248.75,416.0" fill="none" stroke="#e5952a" stroke-width="1.1" stroke-linejoin="round"/>
<path d="M215.75,416.9 L215.75,416 L216.12,415.0 L216.5,414.2 L216.88,412.76 L217.25,411.76 L217.62,411.08 L218.0,410.0 L218.17,408.65 L218.33,408.22 L218.5,407.21 L218.67,405.63 L218.83,405.15 L219.0,404.0 L219.17,403.11 L219.33,402.36 L219.5,401.0 L219.6,400.39 L219.7,398.93 L219.8,398.28 L219.9,397.23 L220.0,396.38 L220.1,394.62 L220.2,394.35 L220.3,392.78 L220.4,391.7 L220.5,391.08 L220.6,390.27 L220.7,389.0 L220.76,388.37 L220.82,386.89 L220.88,386.26 L220.93,384.62 L220.99,384.37 L221.05,382.83 L221.11,382.03 L221.17,380.7 L221.22,379.64 L221.28,378.61 L221.34,378.08 L221.4,377.05 L221.46,376.25 L221.52,375.28 L221.57,373.94 L221.63,373.28 L221.69,371.76 L221.75,371.0 L221.82,370.3 L221.89,368.8 L221.96,368.35 L222.03,366.91 L222.1,365.94 L222.17,365.01 L222.24,363.65 L222.31,362.66 L222.38,362.04 L222.45,361.17 L222.52,359.64 L222.59,358.93 L222.66,357.9 L222.73,357.22 L222.8,356.0 L223.1,355.19 L223.4,353.27 L223.7,352.43 L224.0,351.2 L224.6,351.78 L225.2,353.0 L225.3,354.28 L225.41,355.45 L225.51,356.32 L225.62,357.27 L225.72,357.88 L225.83,358.98 L225.94,360.14 L226.04,361.07 L226.15,362.16 L226.25,363.5 L226.32,364.87 L226.39,365.38 L226.46,366.83 L226.53,367.71 L226.6,368.72 L226.67,369.83 L226.74,370.66 L226.81,371.38 L226.88,372.48 L226.95,373.41 L227.02,374.13 L227.09,375.14 L227.16,376.55 L227.23,377.52 L227.3,378.5 L227.39,379.92 L227.48,380.67 L227.58,381.87 L227.67,382.64 L227.76,383.76 L227.85,384.98 L227.95,385.4 L228.04,386.42 L228.13,387.79 L228.22,388.72 L228.32,389.87 L228.41,390.61 L228.5,392.0 L228.6,392.74 L228.7,393.68 L228.8,395.09 L228.9,395.63 L229.0,396.62 L229.1,398.14 L229.2,398.94 L229.3,399.62 L229.4,401.35 L229.5,401.99 L229.6,403.35 L229.7,404.0 L229.96,405.19 L230.21,406.18 L230.47,407.13 L230.73,407.97 L230.99,409.73 L231.24,410.38 L231.5,411.5 L231.95,412.24 L232.4,413.02 L232.85,414.28 L233.3,415.1 L233.75,416.0 L233.75,416.9 Z" fill="#c0cadf" stroke="none" style="mix-blend-mode:multiply"/>
<path d="M215.75,416 L216.12,415.0 L216.5,414.2 L216.88,412.76 L217.25,411.76 L217.62,411.08 L218.0,410.0 L218.17,408.65 L218.33,408.22 L218.5,407.21 L218.67,405.63 L218.83,405.15 L219.0,404.0 L219.17,403.11 L219.33,402.36 L219.5,401.0 L219.6,400.39 L219.7,398.93 L219.8,398.28 L219.9,397.23 L220.0,396.38 L220.1,394.62 L220.2,394.35 L220.3,392.78 L220.4,391.7 L220.5,391.08 L220.6,390.27 L220.7,389.0 L220.76,388.37 L220.82,386.89 L220.88,386.26 L220.93,384.62 L220.99,384.37 L221.05,382.83 L221.11,382.03 L221.17,380.7 L221.22,379.64 L221.28,378.61 L221.34,378.08 L221.4,377.05 L221.46,376.25 L221.52,375.28 L221.57,373.94 L221.63,373.28 L221.69,371.76 L221.75,371.0 L221.82,370.3 L221.89,368.8 L221.96,368.35 L222.03,366.91 L222.1,365.94 L222.17,365.01 L222.24,363.65 L222.31,362.66 L222.38,362.04 L222.45,361.17 L222.52,359.64 L222.59,358.93 L222.66,357.9 L222.73,357.22 L222.8,356.0 L223.1,355.19 L223.4,353.27 L223.7,352.43 L224.0,351.2 L224.6,351.78 L225.2,353.0 L225.3,354.28 L225.41,355.45 L225.51,356.32 L225.62,357.27 L225.72,357.88 L225.83,358.98 L225.94,360.14 L226.04,361.07 L226.15,362.16 L226.25,363.5 L226.32,364.87 L226.39,365.38 L226.46,366.83 L226.53,367.71 L226.6,368.72 L226.67,369.83 L226.74,370.66 L226.81,371.38 L226.88,372.48 L226.95,373.41 L227.02,374.13 L227.09,375.14 L227.16,376.55 L227.23,377.52 L227.3,378.5 L227.39,379.92 L227.48,380.67 L227.58,381.87 L227.67,382.64 L227.76,383.76 L227.85,384.98 L227.95,385.4 L228.04,386.42 L228.13,387.79 L228.22,388.72 L228.32,389.87 L228.41,390.61 L228.5,392.0 L228.6,392.74 L228.7,393.68 L228.8,395.09 L228.9,395.63 L229.0,396.62 L229.1,398.14 L229.2,398.94 L229.3,399.62 L229.4,401.35 L229.5,401.99 L229.6,403.35 L229.7,404.0 L229.96,405.19 L230.21,406.18 L230.47,407.13 L230.73,407.97 L230.99,409.73 L231.24,410.38 L231.5,411.5 L231.95,412.24 L232.4,413.02 L232.85,414.28 L233.3,415.1 L233.75,416.0" fill="none" stroke="#2f4c8c" stroke-width="1.1" stroke-linejoin="round"/>
<path d="M226,360.5 L257.3,360.5 M226,358.9 L226,362.1 M257.3,358.9 L257.3,362.1" stroke="#1a1a1a" stroke-width="1.1" fill="none"/>
<text x="243.2" y="356.85" font-size="9.4" fill="#e39a2e" stroke="#e39a2e" stroke-width="0.22" textLength="9.7" lengthAdjust="spacingAndGlyphs" >62</text>
<text x="243.2" y="371.85" font-size="9.4" fill="#3a5a98" stroke="#3a5a98" stroke-width="0.22" textLength="9.7" lengthAdjust="spacingAndGlyphs" >23</text>
<rect x="182.7" y="342.5" width="75.40000000000003" height="75.0" fill="none" stroke="#111" stroke-width="1.3"/>
<path d="M272,416.9 L272,416 L275,410 L277.25,393.5 L278.75,374 L280.25,356 L281.45,348.5 L282.5,356 L283.7,374 L285.2,398 L287,410 L289.25,416 L289.25,416.9 Z" fill="#e9e9eb" stroke="none" style="mix-blend-mode:multiply"/>
<path d="M272,416 L275,410 L277.25,393.5 L278.75,374 L280.25,356 L281.45,348.5 L282.5,356 L283.7,374 L285.2,398 L287,410 L289.25,416" fill="none" stroke="#c0c0c4" stroke-width="0.9" stroke-linejoin="round"/>
<path d="M288.5,416.9 L288.5,416 L289.25,415.25 L290.0,414.4 L290.75,414.09 L291.5,413.27 L292.25,412.25 L293.0,411.08 L293.75,410.67 L294.5,409.55 L295.25,408.5 L296.38,407.38 L297.5,407.0 L298.25,408.11 L299.0,408.3 L299.75,409.25 L300.88,408.72 L302.0,408.5 L302.38,407.44 L302.75,406.57 L303.12,405.2 L303.5,404.65 L303.88,403.77 L304.25,402.5 L304.38,401.46 L304.5,400.64 L304.62,399.45 L304.75,398.56 L304.88,396.99 L305.0,396.09 L305.12,395.13 L305.25,393.78 L305.38,393.43 L305.5,392.0 L305.55,391.07 L305.61,389.6 L305.66,388.95 L305.72,387.78 L305.77,386.56 L305.82,385.5 L305.88,384.7 L305.93,383.35 L305.98,382.7 L306.04,381.63 L306.09,380.28 L306.15,379.84 L306.2,378.5 L306.24,377.13 L306.29,376.24 L306.33,375.75 L306.38,374.28 L306.42,373.44 L306.47,372.55 L306.51,371.45 L306.56,370.5 L306.6,369.5 L306.64,368.49 L306.69,367.15 L306.73,366.75 L306.78,365.33 L306.82,364.14 L306.87,363.43 L306.91,362.75 L306.96,361.6 L307.0,360.5 L307.08,359.47 L307.17,358.48 L307.25,357.28 L307.33,356.59 L307.42,355.38 L307.5,354.15 L307.58,353.2 L307.67,352.17 L307.75,351.65 L307.83,350.81 L307.92,349.7 L308.0,348.5 L308.75,347.0 L309.0,347.78 L309.25,348.72 L309.5,350.0 L309.59,351.4 L309.68,351.98 L309.78,352.85 L309.87,354.21 L309.96,355.29 L310.05,356.26 L310.15,357.23 L310.24,358.15 L310.33,359.34 L310.42,360.35 L310.52,361.57 L310.61,362.42 L310.7,363.5 L310.76,364.41 L310.81,365.94 L310.87,366.27 L310.92,367.81 L310.98,368.57 L311.03,369.9 L311.09,370.85 L311.14,371.76 L311.2,372.82 L311.25,373.55 L311.31,374.4 L311.36,376.01 L311.42,376.65 L311.47,377.56 L311.53,379.14 L311.58,379.99 L311.64,380.57 L311.69,381.99 L311.75,383.0 L311.83,383.73 L311.92,385.29 L312.0,385.82 L312.08,387.35 L312.17,388.09 L312.25,388.66 L312.33,389.93 L312.42,391.37 L312.5,392.16 L312.58,392.72 L312.67,393.89 L312.75,394.82 L312.83,395.67 L312.92,397.07 L313.0,398.0 L313.13,399.21 L313.26,399.87 L313.39,401.19 L313.52,402.49 L313.65,403.56 L313.78,404.04 L313.91,405.01 L314.04,406.73 L314.17,407.31 L314.3,408.5 L314.58,409.3 L314.86,410.88 L315.14,411.53 L315.41,412.96 L315.69,414.01 L315.97,414.93 L316.25,416.0 L316.25,416.9 Z" fill="#f9ddb0" stroke="none" style="mix-blend-mode:multiply"/>
<path d="M288.5,416 L289.25,415.25 L290.0,414.4 L290.75,414.09 L291.5,413.27 L292.25,412.25 L293.0,411.08 L293.75,410.67 L294.5,409.55 L295.25,408.5 L296.38,407.38 L297.5,407.0 L298.25,408.11 L299.0,408.3 L299.75,409.25 L300.88,408.72 L302.0,408.5 L302.38,407.44 L302.75,406.57 L303.12,405.2 L303.5,404.65 L303.88,403.77 L304.25,402.5 L304.38,401.46 L304.5,400.64 L304.62,399.45 L304.75,398.56 L304.88,396.99 L305.0,396.09 L305.12,395.13 L305.25,393.78 L305.38,393.43 L305.5,392.0 L305.55,391.07 L305.61,389.6 L305.66,388.95 L305.72,387.78 L305.77,386.56 L305.82,385.5 L305.88,384.7 L305.93,383.35 L305.98,382.7 L306.04,381.63 L306.09,380.28 L306.15,379.84 L306.2,378.5 L306.24,377.13 L306.29,376.24 L306.33,375.75 L306.38,374.28 L306.42,373.44 L306.47,372.55 L306.51,371.45 L306.56,370.5 L306.6,369.5 L306.64,368.49 L306.69,367.15 L306.73,366.75 L306.78,365.33 L306.82,364.14 L306.87,363.43 L306.91,362.75 L306.96,361.6 L307.0,360.5 L307.08,359.47 L307.17,358.48 L307.25,357.28 L307.33,356.59 L307.42,355.38 L307.5,354.15 L307.58,353.2 L307.67,352.17 L307.75,351.65 L307.83,350.81 L307.92,349.7 L308.0,348.5 L308.75,347.0 L309.0,347.78 L309.25,348.72 L309.5,350.0 L309.59,351.4 L309.68,351.98 L309.78,352.85 L309.87,354.21 L309.96,355.29 L310.05,356.26 L310.15,357.23 L310.24,358.15 L310.33,359.34 L310.42,360.35 L310.52,361.57 L310.61,362.42 L310.7,363.5 L310.76,364.41 L310.81,365.94 L310.87,366.27 L310.92,367.81 L310.98,368.57 L311.03,369.9 L311.09,370.85 L311.14,371.76 L311.2,372.82 L311.25,373.55 L311.31,374.4 L311.36,376.01 L311.42,376.65 L311.47,377.56 L311.53,379.14 L311.58,379.99 L311.64,380.57 L311.69,381.99 L311.75,383.0 L311.83,383.73 L311.92,385.29 L312.0,385.82 L312.08,387.35 L312.17,388.09 L312.25,388.66 L312.33,389.93 L312.42,391.37 L312.5,392.16 L312.58,392.72 L312.67,393.89 L312.75,394.82 L312.83,395.67 L312.92,397.07 L313.0,398.0 L313.13,399.21 L313.26,399.87 L313.39,401.19 L313.52,402.49 L313.65,403.56 L313.78,404.04 L313.91,405.01 L314.04,406.73 L314.17,407.31 L314.3,408.5 L314.58,409.3 L314.86,410.88 L315.14,411.53 L315.41,412.96 L315.69,414.01 L315.97,414.93 L316.25,416.0" fill="none" stroke="#e5952a" stroke-width="1.1" stroke-linejoin="round"/>
<path d="M291.5,416.9 L291.5,416 L291.67,415.0 L291.83,414.12 L292.0,413.16 L292.17,412.37 L292.33,410.76 L292.5,409.65 L292.67,409.26 L292.83,407.87 L293.0,407.0 L293.09,405.86 L293.18,405.17 L293.28,403.63 L293.37,403.17 L293.46,401.8 L293.55,400.43 L293.65,400.07 L293.74,398.75 L293.83,397.32 L293.92,396.89 L294.02,395.8 L294.11,394.73 L294.2,393.5 L294.25,392.63 L294.31,391.89 L294.36,390.11 L294.41,389.88 L294.47,388.61 L294.52,387.3 L294.57,386.59 L294.63,385.37 L294.68,384.62 L294.73,383.66 L294.79,382.52 L294.84,381.18 L294.89,380.41 L294.95,379.34 L295.0,378.5 L295.07,377.65 L295.14,376.74 L295.21,375.57 L295.28,374.32 L295.35,372.99 L295.42,372.37 L295.49,370.96 L295.56,370.5 L295.63,368.79 L295.7,368.0 L295.77,367.37 L295.83,365.61 L295.9,365.22 L295.97,363.88 L296.03,363.06 L296.1,361.93 L296.17,360.85 L296.23,359.95 L296.3,359.0 L296.53,358.25 L296.77,356.88 L297.0,356.0 L297.17,356.89 L297.33,358.23 L297.5,358.74 L297.67,359.89 L297.83,361.01 L298.0,362.0 L298.12,361.01 L298.23,359.74 L298.35,359.21 L298.47,357.99 L298.58,356.67 L298.7,356.0 L298.83,356.94 L298.96,357.79 L299.09,359.09 L299.21,359.98 L299.34,361.16 L299.47,362.47 L299.6,363.5 L299.77,364.72 L299.94,365.48 L300.11,366.69 L300.29,367.8 L300.46,368.93 L300.63,370.25 L300.8,371.0 L301.05,371.77 L301.3,373.22 L301.55,374.04 L301.8,375.32 L302.05,376.15 L302.3,377.0 L302.47,377.6 L302.63,378.65 L302.8,380.24 L302.97,380.84 L303.13,382.09 L303.3,382.68 L303.47,384.05 L303.63,384.93 L303.8,386.0 L303.97,386.97 L304.13,387.6 L304.3,389.32 L304.47,390.28 L304.63,391.19 L304.8,392.1 L304.97,392.78 L305.13,393.75 L305.3,395.0 L305.55,396.27 L305.8,396.86 L306.05,397.91 L306.3,399.3 L306.55,399.88 L306.8,401.0 L307.19,402.44 L307.58,402.85 L307.97,404.43 L308.36,405.04 L308.75,406.25 L309.5,406.96 L310.25,408.22 L311.0,409.25 L312.0,410.01 L313.0,409.93 L314.0,410.75 L315.12,410.45 L316.25,410.0 L317.23,410.66 L318.2,410.75 L319.1,411.5 L320.0,413.0 L320.75,413.99 L321.5,415.0 L322.25,416.0 L322.25,416.9 Z" fill="#c0cadf" stroke="none" style="mix-blend-mode:multiply"/>
<path d="M291.5,416 L291.67,415.0 L291.83,414.12 L292.0,413.16 L292.17,412.37 L292.33,410.76 L292.5,409.65 L292.67,409.26 L292.83,407.87 L293.0,407.0 L293.09,405.86 L293.18,405.17 L293.28,403.63 L293.37,403.17 L293.46,401.8 L293.55,400.43 L293.65,400.07 L293.74,398.75 L293.83,397.32 L293.92,396.89 L294.02,395.8 L294.11,394.73 L294.2,393.5 L294.25,392.63 L294.31,391.89 L294.36,390.11 L294.41,389.88 L294.47,388.61 L294.52,387.3 L294.57,386.59 L294.63,385.37 L294.68,384.62 L294.73,383.66 L294.79,382.52 L294.84,381.18 L294.89,380.41 L294.95,379.34 L295.0,378.5 L295.07,377.65 L295.14,376.74 L295.21,375.57 L295.28,374.32 L295.35,372.99 L295.42,372.37 L295.49,370.96 L295.56,370.5 L295.63,368.79 L295.7,368.0 L295.77,367.37 L295.83,365.61 L295.9,365.22 L295.97,363.88 L296.03,363.06 L296.1,361.93 L296.17,360.85 L296.23,359.95 L296.3,359.0 L296.53,358.25 L296.77,356.88 L297.0,356.0 L297.17,356.89 L297.33,358.23 L297.5,358.74 L297.67,359.89 L297.83,361.01 L298.0,362.0 L298.12,361.01 L298.23,359.74 L298.35,359.21 L298.47,357.99 L298.58,356.67 L298.7,356.0 L298.83,356.94 L298.96,357.79 L299.09,359.09 L299.21,359.98 L299.34,361.16 L299.47,362.47 L299.6,363.5 L299.77,364.72 L299.94,365.48 L300.11,366.69 L300.29,367.8 L300.46,368.93 L300.63,370.25 L300.8,371.0 L301.05,371.77 L301.3,373.22 L301.55,374.04 L301.8,375.32 L302.05,376.15 L302.3,377.0 L302.47,377.6 L302.63,378.65 L302.8,380.24 L302.97,380.84 L303.13,382.09 L303.3,382.68 L303.47,384.05 L303.63,384.93 L303.8,386.0 L303.97,386.97 L304.13,387.6 L304.3,389.32 L304.47,390.28 L304.63,391.19 L304.8,392.1 L304.97,392.78 L305.13,393.75 L305.3,395.0 L305.55,396.27 L305.8,396.86 L306.05,397.91 L306.3,399.3 L306.55,399.88 L306.8,401.0 L307.19,402.44 L307.58,402.85 L307.97,404.43 L308.36,405.04 L308.75,406.25 L309.5,406.96 L310.25,408.22 L311.0,409.25 L312.0,410.01 L313.0,409.93 L314.0,410.75 L315.12,410.45 L316.25,410.0 L317.23,410.66 L318.2,410.75 L319.1,411.5 L320.0,413.0 L320.75,413.99 L321.5,415.0 L322.25,416.0" fill="none" stroke="#2f4c8c" stroke-width="1.1" stroke-linejoin="round"/>
<path d="M303.2,362.5 L337.7,362.5 M303.2,360.9 L303.2,364.1 M337.7,360.9 L337.7,364.1" stroke="#1a1a1a" stroke-width="1.1" fill="none"/>
<text x="317.75" y="359.85" font-size="9.4" fill="#e39a2e" stroke="#e39a2e" stroke-width="0.22" textLength="9.7" lengthAdjust="spacingAndGlyphs" >81</text>
<text x="317.75" y="374.1" font-size="9.4" fill="#3a5a98" stroke="#3a5a98" stroke-width="0.22" textLength="9.7" lengthAdjust="spacingAndGlyphs" >29</text>
<rect x="264.4" y="342.5" width="75.0" height="75.0" fill="none" stroke="#111" stroke-width="1.3"/>
<path d="M348,416.9 L348,415.25 L351.75,411.5 L354.75,407 L357,401 L359.25,393.5 L361.2,383 L362.7,371 L364.2,360.5 L365.7,354.5 L366.9,352.7 L367.8,357.5 L369,368 L370.2,386 L371.25,404 L372.3,416 L372.3,416.9 Z" fill="#e9e9eb" stroke="none" style="mix-blend-mode:multiply"/>
<path d="M348,415.25 L351.75,411.5 L354.75,407 L357,401 L359.25,393.5 L361.2,383 L362.7,371 L364.2,360.5 L365.7,354.5 L366.9,352.7 L367.8,357.5 L369,368 L370.2,386 L371.25,404 L372.3,416" fill="none" stroke="#c0c0c4" stroke-width="0.9" stroke-linejoin="round"/>
<path d="M366,416.9 L366,416 L366.75,415.25 L367.5,414.7 L368.25,413.51 L369.0,413.0 L369.38,411.64 L369.75,410.83 L370.12,409.27 L370.5,408.5 L370.62,407.67 L370.74,406.61 L370.86,404.98 L370.98,404.45 L371.1,403.25 L371.22,402.31 L371.34,401.51 L371.46,400.49 L371.58,398.98 L371.7,398.0 L371.77,397.28 L371.84,396.23 L371.91,395.38 L371.98,393.62 L372.05,393.35 L372.12,391.78 L372.19,390.7 L372.26,390.08 L372.33,389.27 L372.4,388.37 L372.47,386.89 L372.54,386.26 L372.61,384.62 L372.68,384.37 L372.75,383.0 L372.81,381.83 L372.88,381.03 L372.94,379.7 L373.0,378.64 L373.06,377.61 L373.12,377.08 L373.19,376.05 L373.25,375.25 L373.31,374.28 L373.38,372.94 L373.44,372.28 L373.5,371.0 L373.56,369.76 L373.62,369.3 L373.69,367.8 L373.75,367.35 L373.81,365.91 L373.88,364.94 L373.94,364.01 L374.0,362.65 L374.06,361.66 L374.12,361.04 L374.19,360.17 L374.25,359.0 L374.36,357.56 L374.46,356.78 L374.57,355.68 L374.68,354.94 L374.79,354.04 L374.89,352.24 L375.0,351.5 L375.4,350.53 L375.8,349.18 L376.2,348.5 L377.25,349.25 L377.38,350.6 L377.5,351.85 L377.62,352.79 L377.75,353.82 L377.88,354.51 L378.0,356.0 L378.17,356.75 L378.34,357.93 L378.51,358.88 L378.69,359.99 L378.86,361.72 L379.03,362.31 L379.2,363.5 L379.65,364.95 L380.1,365.96 L380.55,367.1 L381.0,368.0 L381.75,369.33 L382.5,370.16 L383.25,371.0 L383.74,372.0 L384.23,373.23 L384.71,374.29 L385.2,375.5 L385.65,376.25 L386.1,377.39 L386.55,378.93 L387.0,380.0 L387.38,381.14 L387.75,382.63 L388.12,383.47 L388.5,384.5 L388.75,385.75 L389.0,386.48 L389.25,387.57 L389.5,388.75 L389.75,389.13 L390.0,390.5 L390.38,391.12 L390.75,392.44 L391.12,393.33 L391.5,394.44 L391.88,395.15 L392.25,396.5 L392.62,397.24 L393.0,398.18 L393.38,399.59 L393.75,400.13 L394.12,401.12 L394.5,402.5 L394.82,403.72 L395.14,404.58 L395.46,405.33 L395.79,407.14 L396.11,407.85 L396.43,409.28 L396.75,410.0 L397.24,411.24 L397.73,412.29 L398.21,413.29 L398.7,414.5 L399.6,415.25 L400.5,416.0 L400.5,416.9 Z" fill="#f9ddb0" stroke="none" style="mix-blend-mode:multiply"/>
<path d="M366,416 L366.75,415.25 L367.5,414.7 L368.25,413.51 L369.0,413.0 L369.38,411.64 L369.75,410.83 L370.12,409.27 L370.5,408.5 L370.62,407.67 L370.74,406.61 L370.86,404.98 L370.98,404.45 L371.1,403.25 L371.22,402.31 L371.34,401.51 L371.46,400.49 L371.58,398.98 L371.7,398.0 L371.77,397.28 L371.84,396.23 L371.91,395.38 L371.98,393.62 L372.05,393.35 L372.12,391.78 L372.19,390.7 L372.26,390.08 L372.33,389.27 L372.4,388.37 L372.47,386.89 L372.54,386.26 L372.61,384.62 L372.68,384.37 L372.75,383.0 L372.81,381.83 L372.88,381.03 L372.94,379.7 L373.0,378.64 L373.06,377.61 L373.12,377.08 L373.19,376.05 L373.25,375.25 L373.31,374.28 L373.38,372.94 L373.44,372.28 L373.5,371.0 L373.56,369.76 L373.62,369.3 L373.69,367.8 L373.75,367.35 L373.81,365.91 L373.88,364.94 L373.94,364.01 L374.0,362.65 L374.06,361.66 L374.12,361.04 L374.19,360.17 L374.25,359.0 L374.36,357.56 L374.46,356.78 L374.57,355.68 L374.68,354.94 L374.79,354.04 L374.89,352.24 L375.0,351.5 L375.4,350.53 L375.8,349.18 L376.2,348.5 L377.25,349.25 L377.38,350.6 L377.5,351.85 L377.62,352.79 L377.75,353.82 L377.88,354.51 L378.0,356.0 L378.17,356.75 L378.34,357.93 L378.51,358.88 L378.69,359.99 L378.86,361.72 L379.03,362.31 L379.2,363.5 L379.65,364.95 L380.1,365.96 L380.55,367.1 L381.0,368.0 L381.75,369.33 L382.5,370.16 L383.25,371.0 L383.74,372.0 L384.23,373.23 L384.71,374.29 L385.2,375.5 L385.65,376.25 L386.1,377.39 L386.55,378.93 L387.0,380.0 L387.38,381.14 L387.75,382.63 L388.12,383.47 L388.5,384.5 L388.75,385.75 L389.0,386.48 L389.25,387.57 L389.5,388.75 L389.75,389.13 L390.0,390.5 L390.38,391.12 L390.75,392.44 L391.12,393.33 L391.5,394.44 L391.88,395.15 L392.25,396.5 L392.62,397.24 L393.0,398.18 L393.38,399.59 L393.75,400.13 L394.12,401.12 L394.5,402.5 L394.82,403.72 L395.14,404.58 L395.46,405.33 L395.79,407.14 L396.11,407.85 L396.43,409.28 L396.75,410.0 L397.24,411.24 L397.73,412.29 L398.21,413.29 L398.7,414.5 L399.6,415.25 L400.5,416.0" fill="none" stroke="#e5952a" stroke-width="1.1" stroke-linejoin="round"/>
<path d="M373.5,416.9 L373.5,416 L373.71,414.93 L373.93,413.55 L374.14,412.49 L374.36,411.79 L374.57,410.39 L374.79,409.28 L375.0,408.5 L375.12,407.43 L375.23,406.36 L375.35,405.16 L375.46,404.26 L375.58,403.58 L375.69,401.97 L375.81,400.98 L375.92,399.81 L376.04,398.95 L376.15,397.79 L376.27,397.46 L376.38,395.89 L376.5,395.0 L376.59,394.35 L376.68,392.63 L376.78,392.21 L376.87,390.85 L376.96,389.96 L377.05,388.9 L377.15,387.55 L377.24,386.48 L377.33,385.8 L377.42,384.32 L377.52,383.19 L377.61,382.76 L377.7,381.5 L377.78,380.57 L377.86,379.23 L377.94,378.4 L378.02,377.67 L378.1,376.13 L378.18,374.97 L378.27,374.16 L378.35,372.93 L378.43,372.05 L378.51,370.74 L378.59,370.29 L378.67,369.28 L378.75,368.0 L378.9,366.83 L379.05,365.76 L379.2,364.59 L379.35,364.08 L379.5,362.95 L379.65,361.7 L379.8,360.5 L380.1,359.24 L380.4,358.24 L380.7,357.5 L380.88,358.71 L381.05,359.25 L381.23,360.65 L381.4,361.44 L381.57,362.12 L381.75,363.5 L381.86,364.31 L381.96,365.93 L382.06,366.51 L382.17,367.84 L382.27,368.96 L382.38,369.72 L382.49,370.85 L382.59,372.19 L382.69,373.13 L382.8,374.0 L382.88,375.05 L382.95,376.1 L383.03,377.05 L383.1,378.07 L383.18,379.29 L383.25,379.98 L383.32,381.51 L383.4,382.09 L383.48,383.07 L383.55,384.68 L383.62,384.96 L383.7,386.3 L383.77,387.45 L383.85,388.39 L383.93,389.73 L384.0,390.5 L384.12,391.68 L384.23,392.58 L384.35,393.22 L384.46,395.04 L384.58,395.58 L384.69,396.62 L384.81,397.54 L384.92,398.56 L385.04,399.53 L385.15,400.59 L385.27,402.06 L385.38,402.8 L385.5,404.0 L385.88,405.01 L386.25,406.12 L386.62,406.66 L387.0,408.21 L387.38,408.76 L387.75,410.0 L388.5,410.99 L389.25,411.81 L390.0,412.21 L390.75,413.0 L392.0,413.11 L393.25,413.5 L394.5,413.75 L395.62,413.55 L396.75,412.7 L397.88,412.86 L399.0,412.25 L400.0,412.07 L401.0,411.47 L402.0,411.2 L403.12,411.65 L404.25,412.25 L405.0,413.41 L405.75,414.11 L406.5,415.25 L408.0,416.0 L408.0,416.9 Z" fill="#c0cadf" stroke="none" style="mix-blend-mode:multiply"/>
<path d="M373.5,416 L373.71,414.93 L373.93,413.55 L374.14,412.49 L374.36,411.79 L374.57,410.39 L374.79,409.28 L375.0,408.5 L375.12,407.43 L375.23,406.36 L375.35,405.16 L375.46,404.26 L375.58,403.58 L375.69,401.97 L375.81,400.98 L375.92,399.81 L376.04,398.95 L376.15,397.79 L376.27,397.46 L376.38,395.89 L376.5,395.0 L376.59,394.35 L376.68,392.63 L376.78,392.21 L376.87,390.85 L376.96,389.96 L377.05,388.9 L377.15,387.55 L377.24,386.48 L377.33,385.8 L377.42,384.32 L377.52,383.19 L377.61,382.76 L377.7,381.5 L377.78,380.57 L377.86,379.23 L377.94,378.4 L378.02,377.67 L378.1,376.13 L378.18,374.97 L378.27,374.16 L378.35,372.93 L378.43,372.05 L378.51,370.74 L378.59,370.29 L378.67,369.28 L378.75,368.0 L378.9,366.83 L379.05,365.76 L379.2,364.59 L379.35,364.08 L379.5,362.95 L379.65,361.7 L379.8,360.5 L380.1,359.24 L380.4,358.24 L380.7,357.5 L380.88,358.71 L381.05,359.25 L381.23,360.65 L381.4,361.44 L381.57,362.12 L381.75,363.5 L381.86,364.31 L381.96,365.93 L382.06,366.51 L382.17,367.84 L382.27,368.96 L382.38,369.72 L382.49,370.85 L382.59,372.19 L382.69,373.13 L382.8,374.0 L382.88,375.05 L382.95,376.1 L383.03,377.05 L383.1,378.07 L383.18,379.29 L383.25,379.98 L383.32,381.51 L383.4,382.09 L383.48,383.07 L383.55,384.68 L383.62,384.96 L383.7,386.3 L383.77,387.45 L383.85,388.39 L383.93,389.73 L384.0,390.5 L384.12,391.68 L384.23,392.58 L384.35,393.22 L384.46,395.04 L384.58,395.58 L384.69,396.62 L384.81,397.54 L384.92,398.56 L385.04,399.53 L385.15,400.59 L385.27,402.06 L385.38,402.8 L385.5,404.0 L385.88,405.01 L386.25,406.12 L386.62,406.66 L387.0,408.21 L387.38,408.76 L387.75,410.0 L388.5,410.99 L389.25,411.81 L390.0,412.21 L390.75,413.0 L392.0,413.11 L393.25,413.5 L394.5,413.75 L395.62,413.55 L396.75,412.7 L397.88,412.86 L399.0,412.25 L400.0,412.07 L401.0,411.47 L402.0,411.2 L403.12,411.65 L404.25,412.25 L405.0,413.41 L405.75,414.11 L406.5,415.25 L408.0,416.0" fill="none" stroke="#2f4c8c" stroke-width="1.1" stroke-linejoin="round"/>
<path d="M381,358.7 L418.8,358.7 M381,357.09999999999997 L381,360.3 M418.8,357.09999999999997 L418.8,360.3" stroke="#1a1a1a" stroke-width="1.1" fill="none"/>
<text x="396.0" y="356.1" font-size="9.4" fill="#e39a2e" stroke="#e39a2e" stroke-width="0.22" textLength="9.7" lengthAdjust="spacingAndGlyphs" >47</text>
<text x="395.3" y="370.8" font-size="9.4" fill="#3a5a98" stroke="#3a5a98" stroke-width="0.22" textLength="9.7" lengthAdjust="spacingAndGlyphs" >49</text>
<rect x="345.9" y="342.5" width="75.10000000000002" height="75.0" fill="none" stroke="#111" stroke-width="1.3"/>
<path d="M441,416.9 L441,416 L443.25,408.5 L445.2,393.5 L447,374 L448.5,357.5 L450,348.5 L451.2,356 L452.4,371 L453.75,390.5 L455.25,407 L456.75,416 L456.75,416.9 Z" fill="#e9e9eb" stroke="none" style="mix-blend-mode:multiply"/>
<path d="M441,416 L443.25,408.5 L445.2,393.5 L447,374 L448.5,357.5 L450,348.5 L451.2,356 L452.4,371 L453.75,390.5 L455.25,407 L456.75,416" fill="none" stroke="#c0c0c4" stroke-width="0.9" stroke-linejoin="round"/>
<path d="M458.25,416.9 L458.25,416 L459.5,415.75 L460.75,415.5 L462.0,415.25 L463.25,415.0 L464.5,414.87 L465.75,414.5 L466.5,413.66 L467.25,412.87 L468.0,411.5 L468.15,410.21 L468.3,409.05 L468.45,408.61 L468.6,407.17 L468.75,406.15 L468.9,405.45 L469.05,403.9 L469.2,403.43 L469.35,402.04 L469.5,401.0 L469.55,399.66 L469.6,399.33 L469.65,398.06 L469.7,396.66 L469.75,396.27 L469.8,395.22 L469.85,394.19 L469.9,393.13 L469.95,392.39 L470.0,390.61 L470.05,390.38 L470.1,389.11 L470.15,387.8 L470.2,387.09 L470.25,386.0 L470.3,384.87 L470.35,384.12 L470.4,383.16 L470.45,382.02 L470.5,380.68 L470.55,379.91 L470.6,378.84 L470.65,378.2 L470.7,377.34 L470.75,376.22 L470.8,375.02 L470.85,373.74 L470.9,373.17 L470.95,371.81 L471.0,371.0 L471.06,370.4 L471.12,368.74 L471.18,368.37 L471.24,366.61 L471.3,366.22 L471.36,364.88 L471.42,364.06 L471.48,362.93 L471.54,361.85 L471.6,360.95 L471.66,360.25 L471.72,358.88 L471.78,357.89 L471.84,357.23 L471.9,356.0 L472.08,354.62 L472.27,353.64 L472.45,352.64 L472.63,351.51 L472.82,350.11 L473.0,349.25 L473.33,350.71 L473.67,351.74 L474.0,353.0 L474.07,353.67 L474.13,354.87 L474.2,355.65 L474.27,356.87 L474.33,357.69 L474.4,358.8 L474.47,360.04 L474.53,361.15 L474.6,361.84 L474.67,362.97 L474.73,364.01 L474.8,365.07 L474.87,366.33 L474.93,366.77 L475.0,368.0 L475.07,369.22 L475.13,370.04 L475.2,371.32 L475.27,372.15 L475.33,372.6 L475.4,373.65 L475.47,375.24 L475.53,375.84 L475.6,377.09 L475.67,377.68 L475.73,379.05 L475.8,379.93 L475.87,380.97 L475.93,381.6 L476.0,383.0 L476.1,384.37 L476.2,385.38 L476.3,386.34 L476.4,387.3 L476.5,388.03 L476.6,389.05 L476.7,390.62 L476.8,391.26 L476.9,392.36 L477.0,393.5 L477.12,394.85 L477.24,395.48 L477.36,397.04 L477.48,397.45 L477.6,399.03 L477.72,399.64 L477.84,400.56 L477.96,401.87 L478.08,403.21 L478.2,404.0 L478.32,404.68 L478.43,406.08 L478.55,407.28 L478.67,407.62 L478.78,408.99 L478.9,409.85 L479.02,410.97 L479.13,412.26 L479.25,413.0 L479.6,413.95 L479.95,415.0 L480.3,416.0 L480.3,416.9 Z" fill="#f9ddb0" stroke="none" style="mix-blend-mode:multiply"/>
<path d="M458.25,416 L459.5,415.75 L460.75,415.5 L462.0,415.25 L463.25,415.0 L464.5,414.87 L465.75,414.5 L466.5,413.66 L467.25,412.87 L468.0,411.5 L468.15,410.21 L468.3,409.05 L468.45,408.61 L468.6,407.17 L468.75,406.15 L468.9,405.45 L469.05,403.9 L469.2,403.43 L469.35,402.04 L469.5,401.0 L469.55,399.66 L469.6,399.33 L469.65,398.06 L469.7,396.66 L469.75,396.27 L469.8,395.22 L469.85,394.19 L469.9,393.13 L469.95,392.39 L470.0,390.61 L470.05,390.38 L470.1,389.11 L470.15,387.8 L470.2,387.09 L470.25,386.0 L470.3,384.87 L470.35,384.12 L470.4,383.16 L470.45,382.02 L470.5,380.68 L470.55,379.91 L470.6,378.84 L470.65,378.2 L470.7,377.34 L470.75,376.22 L470.8,375.02 L470.85,373.74 L470.9,373.17 L470.95,371.81 L471.0,371.0 L471.06,370.4 L471.12,368.74 L471.18,368.37 L471.24,366.61 L471.3,366.22 L471.36,364.88 L471.42,364.06 L471.48,362.93 L471.54,361.85 L471.6,360.95 L471.66,360.25 L471.72,358.88 L471.78,357.89 L471.84,357.23 L471.9,356.0 L472.08,354.62 L472.27,353.64 L472.45,352.64 L472.63,351.51 L472.82,350.11 L473.0,349.25 L473.33,350.71 L473.67,351.74 L474.0,353.0 L474.07,353.67 L474.13,354.87 L474.2,355.65 L474.27,356.87 L474.33,357.69 L474.4,358.8 L474.47,360.04 L474.53,361.15 L474.6,361.84 L474.67,362.97 L474.73,364.01 L474.8,365.07 L474.87,366.33 L474.93,366.77 L475.0,368.0 L475.07,369.22 L475.13,370.04 L475.2,371.32 L475.27,372.15 L475.33,372.6 L475.4,373.65 L475.47,375.24 L475.53,375.84 L475.6,377.09 L475.67,377.68 L475.73,379.05 L475.8,379.93 L475.87,380.97 L475.93,381.6 L476.0,383.0 L476.1,384.37 L476.2,385.38 L476.3,386.34 L476.4,387.3 L476.5,388.03 L476.6,389.05 L476.7,390.62 L476.8,391.26 L476.9,392.36 L477.0,393.5 L477.12,394.85 L477.24,395.48 L477.36,397.04 L477.48,397.45 L477.6,399.03 L477.72,399.64 L477.84,400.56 L477.96,401.87 L478.08,403.21 L478.2,404.0 L478.32,404.68 L478.43,406.08 L478.55,407.28 L478.67,407.62 L478.78,408.99 L478.9,409.85 L479.02,410.97 L479.13,412.26 L479.25,413.0 L479.6,413.95 L479.95,415.0 L480.3,416.0" fill="none" stroke="#e5952a" stroke-width="1.1" stroke-linejoin="round"/>
<path d="M456,416.9 L456,416 L456.21,414.93 L456.43,413.9 L456.64,412.66 L456.86,411.99 L457.07,410.47 L457.29,409.58 L457.5,408.5 L457.58,407.38 L457.66,406.43 L457.74,405.88 L457.82,404.18 L457.9,403.46 L457.98,402.28 L458.06,401.38 L458.14,400.9 L458.22,399.36 L458.3,398.59 L458.38,397.44 L458.46,396.68 L458.54,395.46 L458.62,394.24 L458.7,393.5 L458.77,392.45 L458.84,391.43 L458.91,390.73 L458.98,389.55 L459.05,388.26 L459.12,387.64 L459.19,386.34 L459.26,385.51 L459.33,384.28 L459.4,383.43 L459.47,382.73 L459.54,381.51 L459.61,380.7 L459.68,379.71 L459.75,378.5 L459.82,377.57 L459.89,376.62 L459.96,375.42 L460.03,374.59 L460.1,373.72 L460.17,372.18 L460.24,371.85 L460.31,370.39 L460.38,369.21 L460.45,368.22 L460.52,367.37 L460.59,366.16 L460.66,365.42 L460.73,364.43 L460.8,363.5 L460.92,362.57 L461.04,361.37 L461.16,360.7 L461.28,359.43 L461.4,358.11 L461.52,357.5 L461.64,356.31 L461.76,355.47 L461.88,354.24 L462.0,353.0 L463.0,351.5 L463.27,352.87 L463.53,353.26 L463.8,354.5 L463.95,355.32 L464.1,356.88 L464.25,357.12 L464.4,358.84 L464.55,359.83 L464.7,360.5 L464.88,361.21 L465.05,362.22 L465.23,363.83 L465.4,364.87 L465.57,365.8 L465.75,366.5 L465.9,367.75 L466.05,368.85 L466.2,369.56 L466.35,370.39 L466.5,371.96 L466.65,373.23 L466.8,374.0 L467.0,375.36 L467.2,376.01 L467.4,376.61 L467.6,377.74 L467.8,378.96 L468.0,380.0 L469.5,380.75 L470.25,381.66 L471.0,383.0 L471.75,383.75 L472.5,385.25 L473.25,386.13 L474.0,387.5 L474.75,388.62 L475.5,389.75 L476.0,388.45 L476.5,387.44 L477.0,386.75 L477.75,387.61 L478.5,389.0 L478.63,389.63 L478.77,391.23 L478.9,392.29 L479.03,392.76 L479.17,394.11 L479.3,395.3 L479.43,395.79 L479.57,396.87 L479.7,398.0 L479.82,399.31 L479.93,400.21 L480.05,401.1 L480.17,402.24 L480.28,403.06 L480.4,403.85 L480.52,405.15 L480.63,406.23 L480.75,407.0 L480.96,407.72 L481.18,409.0 L481.39,410.05 L481.61,411.59 L481.82,412.19 L482.04,413.57 L482.25,414.5 L483.3,416.0 L483.3,416.9 Z" fill="#c0cadf" stroke="none" style="mix-blend-mode:multiply"/>
<path d="M456,416 L456.21,414.93 L456.43,413.9 L456.64,412.66 L456.86,411.99 L457.07,410.47 L457.29,409.58 L457.5,408.5 L457.58,407.38 L457.66,406.43 L457.74,405.88 L457.82,404.18 L457.9,403.46 L457.98,402.28 L458.06,401.38 L458.14,400.9 L458.22,399.36 L458.3,398.59 L458.38,397.44 L458.46,396.68 L458.54,395.46 L458.62,394.24 L458.7,393.5 L458.77,392.45 L458.84,391.43 L458.91,390.73 L458.98,389.55 L459.05,388.26 L459.12,387.64 L459.19,386.34 L459.26,385.51 L459.33,384.28 L459.4,383.43 L459.47,382.73 L459.54,381.51 L459.61,380.7 L459.68,379.71 L459.75,378.5 L459.82,377.57 L459.89,376.62 L459.96,375.42 L460.03,374.59 L460.1,373.72 L460.17,372.18 L460.24,371.85 L460.31,370.39 L460.38,369.21 L460.45,368.22 L460.52,367.37 L460.59,366.16 L460.66,365.42 L460.73,364.43 L460.8,363.5 L460.92,362.57 L461.04,361.37 L461.16,360.7 L461.28,359.43 L461.4,358.11 L461.52,357.5 L461.64,356.31 L461.76,355.47 L461.88,354.24 L462.0,353.0 L463.0,351.5 L463.27,352.87 L463.53,353.26 L463.8,354.5 L463.95,355.32 L464.1,356.88 L464.25,357.12 L464.4,358.84 L464.55,359.83 L464.7,360.5 L464.88,361.21 L465.05,362.22 L465.23,363.83 L465.4,364.87 L465.57,365.8 L465.75,366.5 L465.9,367.75 L466.05,368.85 L466.2,369.56 L466.35,370.39 L466.5,371.96 L466.65,373.23 L466.8,374.0 L467.0,375.36 L467.2,376.01 L467.4,376.61 L467.6,377.74 L467.8,378.96 L468.0,380.0 L469.5,380.75 L470.25,381.66 L471.0,383.0 L471.75,383.75 L472.5,385.25 L473.25,386.13 L474.0,387.5 L474.75,388.62 L475.5,389.75 L476.0,388.45 L476.5,387.44 L477.0,386.75 L477.75,387.61 L478.5,389.0 L478.63,389.63 L478.77,391.23 L478.9,392.29 L479.03,392.76 L479.17,394.11 L479.3,395.3 L479.43,395.79 L479.57,396.87 L479.7,398.0 L479.82,399.31 L479.93,400.21 L480.05,401.1 L480.17,402.24 L480.28,403.06 L480.4,403.85 L480.52,405.15 L480.63,406.23 L480.75,407.0 L480.96,407.72 L481.18,409.0 L481.39,410.05 L481.61,411.59 L481.82,412.19 L482.04,413.57 L482.25,414.5 L483.3,416.0" fill="none" stroke="#2f4c8c" stroke-width="1.1" stroke-linejoin="round"/>
<path d="M467.7,359.3 L499.2,359.3 M467.7,357.7 L467.7,360.90000000000003 M499.2,357.7 L499.2,360.90000000000003" stroke="#1a1a1a" stroke-width="1.1" fill="none"/>
<text x="480.0" y="356.40000000000003" font-size="9.4" fill="#e39a2e" stroke="#e39a2e" stroke-width="0.22" textLength="9.7" lengthAdjust="spacingAndGlyphs" >94</text>
<text x="479.7" y="370.8" font-size="9.4" fill="#3a5a98" stroke="#3a5a98" stroke-width="0.22" textLength="9.7" lengthAdjust="spacingAndGlyphs" >46</text>
<rect x="427.2" y="342.5" width="74.80000000000001" height="75.0" fill="none" stroke="#111" stroke-width="1.3"/>
<rect x="224.9" y="427.8" width="10" height="10" fill="#c8c8ce"/>
<text x="238.2" y="435.5" font-size="8.6" fill="#222" stroke="#222" stroke-width="0.22" textLength="21.8" lengthAdjust="spacingAndGlyphs" >Day 0</text>
<rect x="270.3" y="427.8" width="10" height="10" fill="#e58e1a"/>
<text x="283.8" y="435.5" font-size="8.6" fill="#222" stroke="#222" stroke-width="0.22" textLength="56.6" lengthAdjust="spacingAndGlyphs" >Day 15, DMSO</text>
<rect x="350.75" y="427.8" width="10" height="10" fill="#2a4a8a"/>
<text x="363.75" y="435.5" font-size="8.6" fill="#222" stroke="#222" stroke-width="0.22" textLength="96.8" lengthAdjust="spacingAndGlyphs" >Day 15 1µM, Cercosporin</text>
<text x="7.8" y="472.6" font-size="13.5" fill="#111" font-weight="bold" >E</text>
<rect x="64.8" y="505.3" width="13.8" height="65.59999999999997" fill="#e18b1f" stroke="#d27c10" stroke-width="0.7"/>
<rect x="82.8" y="512.4" width="13.8" height="58.5" fill="#63a744" stroke="#579c38" stroke-width="0.7"/>
<rect x="100.9" y="501.25" width="13.5" height="69.64999999999998" fill="#8c84c4" stroke="#7f78bb" stroke-width="0.7"/>
<path d="M71.8,491.7 L71.8,518.5 M68.6,491.7 L75.0,491.7 M68.6,518.5 L75.0,518.5" stroke="#111" stroke-width="1.0" fill="none"/>
<path d="M71.8,490.0 L70.39999999999999,492.0 L73.2,492.0 Z" fill="#111"/>
<circle cx="71.8" cy="508.1" r="1.3" fill="#111"/>
<path d="M89.8,512.0 L89.8,512.8 M86.6,512.0 L93.0,512.0 M86.6,512.8 L93.0,512.8" stroke="#111" stroke-width="1.0" fill="none"/>
<path d="M89.8,510.3 L88.39999999999999,512.3 L91.2,512.3 Z" fill="#111"/>
<circle cx="88.6" cy="512.4" r="1.3" fill="#111"/>
<circle cx="91.0" cy="512.4" r="1.3" fill="#111"/>
<path d="M107.6,492.5 L107.6,509.8 M104.39999999999999,492.5 L110.8,492.5 M104.39999999999999,509.8 L110.8,509.8" stroke="#111" stroke-width="1.0" fill="none"/>
<path d="M107.6,490.8 L106.19999999999999,492.8 L109.0,492.8 Z" fill="#111"/>
<circle cx="107.6" cy="502.1" r="1.3" fill="#111"/>
<path d="M60.4,480.6 L60.4,571.0 M57.4,571.0 L119.2,571.0" stroke="#111" stroke-width="1.3" fill="none"/>
<line x1="57.4" y1="484.1" x2="60.4" y2="484.1" stroke="#111" stroke-width="1.1"/>
<text x="54.0" y="487.3" font-size="9.3" fill="#222" stroke="#222" stroke-width="0.22" text-anchor="end" >100</text>
<line x1="57.4" y1="501.5" x2="60.4" y2="501.5" stroke="#111" stroke-width="1.1"/>
<text x="54.0" y="504.7" font-size="9.3" fill="#222" stroke="#222" stroke-width="0.22" text-anchor="end" >80</text>
<line x1="57.4" y1="518.8" x2="60.4" y2="518.8" stroke="#111" stroke-width="1.1"/>
<text x="54.0" y="522.0" font-size="9.3" fill="#222" stroke="#222" stroke-width="0.22" text-anchor="end" >60</text>
<line x1="57.4" y1="536.2" x2="60.4" y2="536.2" stroke="#111" stroke-width="1.1"/>
<text x="54.0" y="539.4000000000001" font-size="9.3" fill="#222" stroke="#222" stroke-width="0.22" text-anchor="end" >40</text>
<line x1="57.4" y1="553.7" x2="60.4" y2="553.7" stroke="#111" stroke-width="1.1"/>
<text x="54.0" y="556.9000000000001" font-size="9.3" fill="#222" stroke="#222" stroke-width="0.22" text-anchor="end" >20</text>
<line x1="57.4" y1="570.9" x2="60.4" y2="570.9" stroke="#111" stroke-width="1.1"/>
<text x="54.0" y="574.1" font-size="9.3" fill="#222" stroke="#222" stroke-width="0.22" text-anchor="end" >0</text>
<text x="32.6" y="558.3" font-size="10.2" fill="#222" stroke="#222" stroke-width="0.22" textLength="58.5" lengthAdjust="spacingAndGlyphs" transform="rotate(-90 32.6 558.3)" >CFU / 500 CD34</text>
<text x="29.2" y="499.2" font-size="6.5" fill="#222" stroke="#222" stroke-width="0.22" transform="rotate(-90 29.2 499.2)" >+</text>
<text x="75.3" y="577.6" font-size="9.4" fill="#222" stroke="#222" stroke-width="0.22" text-anchor="end" textLength="28.6" lengthAdjust="spacingAndGlyphs" transform="rotate(-45 75.3 577.6)" >DMSO</text>
<text x="93.3" y="577.6" font-size="9.4" fill="#222" stroke="#222" stroke-width="0.22" text-anchor="end" textLength="17.4" lengthAdjust="spacingAndGlyphs" transform="rotate(-45 93.3 577.6)" >BIO</text>
<text x="111.3" y="577.6" font-size="9.4" fill="#222" stroke="#222" stroke-width="0.22" text-anchor="end" textLength="47.5" lengthAdjust="spacingAndGlyphs" transform="rotate(-45 111.3 577.6)" >CHIR99021</text>
<text x="135.6" y="472.9" font-size="13.5" fill="#111" font-weight="bold" >F</text>
<path d="M171.6,544.3 L172.48,543.98 L173.36,543.66 L174.24,543.34 L175.12,543.02 L176.0,542.7 L176.82,541.97 L177.65,541.63 L178.48,540.96 L179.3,540.5 L179.72,539.69 L180.14,538.83 L180.56,537.56 L180.98,536.64 L181.4,536.1 L181.68,535.42 L181.97,534.1 L182.25,533.16 L182.53,532.78 L182.82,531.5 L183.1,530.6 L183.33,529.91 L183.56,528.73 L183.79,527.91 L184.01,526.64 L184.24,526.05 L184.47,525.29 L184.7,524.1 L184.86,523.17 L185.01,522.38 L185.17,521.39 L185.33,520.02 L185.49,519.57 L185.64,518.51 L185.8,517.5 L186.02,516.48 L186.24,515.41 L186.46,515.12 L186.68,513.96 L186.9,513.1 L187.24,512.37 L187.58,511.61 L187.92,510.61 L188.26,509.87 L188.6,508.7 L188.87,507.71 L189.13,507.08 L189.4,505.91 L189.67,505.34 L189.93,504.38 L190.2,503.2 L190.48,502.0 L190.77,501.11 L191.05,500.25 L191.33,499.86 L191.62,498.57 L191.9,497.7 L192.22,496.93 L192.54,495.84 L192.86,495.13 L193.18,494.18 L193.5,493.4 L193.84,492.42 L194.18,491.7 L194.52,490.82 L194.86,490.16 L195.2,489.0 L195.6,488.3 L196.0,487.65 L196.4,486.77 L196.8,485.7 L197.9,484.4 L199.5,484.4 L200.05,485.64 L200.6,486.2 L200.88,487.29 L201.15,487.91 L201.42,489.38 L201.7,490.1 L201.86,491.35 L202.01,492.24 L202.17,492.93 L202.33,493.96 L202.49,494.54 L202.64,495.9 L202.8,496.6 L202.96,497.59 L203.11,498.34 L203.27,499.12 L203.43,500.62 L203.59,501.66 L203.74,501.97 L203.9,503.2 L204.04,504.37 L204.18,505.06 L204.31,505.84 L204.45,506.91 L204.59,508.2 L204.72,509.24 L204.86,509.62 L205.0,510.9 L205.18,511.9 L205.37,512.41 L205.55,513.8 L205.73,514.45 L205.92,515.75 L206.1,516.4 L206.53,517.56 L206.95,518.05 L207.38,519.22 L207.8,519.7 L208.53,520.3 L209.27,520.87 L210.0,521.9 L211.05,521.97 L212.1,521.9 L212.85,522.67 L213.6,524.1 L214.33,524.59 L215.07,525.44 L215.8,526.2 L216.37,527.01 L216.93,527.43 L217.5,528.4 L217.9,528.9 L218.3,530.31 L218.7,530.74 L219.1,531.7 L219.95,532.57 L220.8,532.8 L221.9,533.63 L223.0,533.9 L223.9,534.18 L224.8,534.61 L225.7,535.0 L226.6,535.01 L227.5,535.1 L228.4,535.0 L229.33,535.07 L230.27,535.04 L231.2,535.0 L232.1,534.65 L233.0,534.44 L233.9,533.7 L234.83,533.77 L235.77,533.79 L236.7,533.9 L237.8,533.8 L238.9,533.4 L239.7,533.77 L240.5,534.5 L241.23,535.26 L241.97,536.63 L242.7,537.2 L243.43,537.95 L244.17,538.7 L244.9,539.4 L245.63,539.79 L246.37,540.81 L247.1,541.6 L248.0,542.19 L248.9,542.33 L249.8,543.2 L250.73,543.5 L251.67,543.8 L252.6,544.1" fill="none" stroke="#e18b1f" stroke-width="1.2" stroke-linejoin="round"/>
<path d="M172.7,544.3 L173.58,544.08 L174.46,543.86 L175.34,543.64 L176.22,543.42 L177.1,543.2 L177.96,542.65 L178.82,542.09 L179.68,541.49 L180.54,540.95 L181.4,540.0 L181.96,539.39 L182.52,538.74 L183.08,537.33 L183.64,536.86 L184.2,536.1 L184.57,535.49 L184.93,534.37 L185.3,533.63 L185.67,532.16 L186.03,531.5 L186.4,530.6 L186.67,529.51 L186.93,528.8 L187.2,527.9 L187.47,526.59 L187.73,525.82 L188.0,525.1 L188.24,524.02 L188.49,523.53 L188.73,522.5 L188.97,521.15 L189.21,520.67 L189.46,519.28 L189.7,518.6 L189.93,517.74 L190.16,516.45 L190.39,515.42 L190.61,515.09 L190.84,513.68 L191.07,512.74 L191.3,512.0 L191.54,511.39 L191.79,510.37 L192.03,509.02 L192.27,508.55 L192.51,507.31 L192.76,506.47 L193.0,505.4 L193.27,504.28 L193.53,503.88 L193.8,502.78 L194.07,502.06 L194.33,501.09 L194.6,499.9 L194.84,498.83 L195.09,497.95 L195.33,496.88 L195.57,495.94 L195.81,494.95 L196.06,494.19 L196.3,493.4 L196.62,492.47 L196.94,491.05 L197.26,490.52 L197.58,489.29 L197.9,488.4 L198.43,487.53 L198.97,487.16 L199.5,486.2 L200.35,485.64 L201.2,485.1 L202.0,485.82 L202.8,486.8 L203.14,487.67 L203.48,488.7 L203.82,489.13 L204.16,490.65 L204.5,491.2 L204.77,491.77 L205.03,493.17 L205.3,494.14 L205.57,494.46 L205.83,495.9 L206.1,496.6 L206.44,497.39 L206.78,498.41 L207.12,498.9 L207.46,499.8 L207.8,501.0 L208.12,501.66 L208.44,503.08 L208.76,503.43 L209.08,504.7 L209.4,505.4 L209.82,506.53 L210.25,507.36 L210.68,507.77 L211.1,508.7 L211.9,508.05 L212.7,507.6 L213.3,507.1 L213.77,508.02 L214.23,509.09 L214.7,509.8 L215.55,510.08 L216.4,510.9 L216.8,511.9 L217.2,512.76 L217.6,513.63 L218.0,514.2 L218.34,514.76 L218.68,516.27 L219.02,516.55 L219.36,517.61 L219.7,518.6 L220.1,519.5 L220.5,520.54 L220.9,520.96 L221.3,521.9 L221.87,523.1 L222.43,523.73 L223.0,524.6 L224.1,524.47 L225.2,524.6 L226.0,523.77 L226.8,523.2 L227.33,523.81 L227.87,524.57 L228.4,525.7 L229.5,525.15 L230.6,525.1 L231.7,525.53 L232.8,525.7 L233.9,525.9 L235.0,525.4 L235.93,525.06 L236.87,524.88 L237.8,525.1 L238.33,526.17 L238.87,526.59 L239.4,527.3 L239.97,527.97 L240.53,528.58 L241.1,529.5 L242.2,529.57 L243.3,529.5 L243.83,530.46 L244.37,530.94 L244.9,531.7 L245.22,532.53 L245.54,533.15 L245.86,534.63 L246.18,534.89 L246.5,536.1 L246.93,536.92 L247.35,537.99 L247.77,538.32 L248.2,539.4 L248.93,540.3 L249.67,541.18 L250.4,541.6 L251.13,542.22 L251.87,542.87 L252.6,543.2 L253.4,543.75 L254.2,544.3" fill="none" stroke="#8a82d0" stroke-width="1.2" stroke-linejoin="round"/>
<path d="M183.6,544.3 L184.43,543.75 L185.25,543.2 L186.07,542.53 L186.9,542.1 L187.45,540.91 L188.0,540.31 L188.55,538.95 L189.1,538.3 L189.38,537.36 L189.65,536.28 L189.93,535.1 L190.2,534.46 L190.47,533.16 L190.75,532.48 L191.03,531.26 L191.3,530.6 L191.58,529.36 L191.85,528.65 L192.12,527.98 L192.4,526.54 L192.68,525.66 L192.95,524.99 L193.22,524.26 L193.5,523.0 L193.72,522.17 L193.94,521.17 L194.16,520.69 L194.38,519.16 L194.6,518.85 L194.82,517.57 L195.04,516.59 L195.26,515.69 L195.48,514.95 L195.7,514.2 L195.9,513.52 L196.1,512.18 L196.3,511.56 L196.5,510.7 L196.7,509.61 L196.9,508.83 L197.1,507.59 L197.3,506.69 L197.5,505.89 L197.7,505.33 L197.9,504.3 L198.1,503.29 L198.3,502.24 L198.5,501.47 L198.7,500.42 L198.9,499.35 L199.1,498.73 L199.3,497.7 L199.5,496.6 L199.68,495.52 L199.87,494.85 L200.05,493.92 L200.23,493.26 L200.42,492.26 L200.6,491.2 L200.97,489.95 L201.33,489.34 L201.7,487.9 L202.8,489.0 L203.9,490.1 L205.0,489.5 L205.22,490.21 L205.44,491.4 L205.66,492.62 L205.88,493.18 L206.1,494.4 L206.34,495.34 L206.59,495.96 L206.83,497.35 L207.07,498.36 L207.31,499.17 L207.56,500.32 L207.8,501.0 L208.07,501.79 L208.33,502.97 L208.6,503.82 L208.87,504.72 L209.13,505.55 L209.4,506.5 L209.64,507.68 L209.89,508.7 L210.13,509.31 L210.37,510.39 L210.61,510.91 L210.86,512.3 L211.1,513.1 L211.65,514.4 L212.2,515.5 L212.65,516.85 L213.1,517.5 L213.5,518.55 L213.9,519.0 L214.3,519.9 L214.7,520.8 L215.12,521.74 L215.55,522.12 L215.97,523.25 L216.4,524.1 L216.93,524.93 L217.47,525.97 L218.0,527.3 L218.73,527.56 L219.47,528.62 L220.2,529.0 L221.13,529.11 L222.07,529.56 L223.0,530.1 L223.9,530.56 L224.8,531.43 L225.7,531.7 L226.6,531.41 L227.5,531.66 L228.4,531.7 L229.33,532.1 L230.27,532.7 L231.2,532.8 L232.1,533.22 L233.0,533.45 L233.9,533.4 L234.83,533.78 L235.77,534.41 L236.7,535.0 L237.6,535.27 L238.5,536.0 L239.4,536.1 L240.13,536.99 L240.87,536.99 L241.6,537.8 L242.33,538.11 L243.07,538.68 L243.8,539.4 L244.7,539.75 L245.6,540.46 L246.5,541.0 L247.43,541.7 L248.37,542.1 L249.3,542.9 L250.4,543.3 L251.5,543.7 L252.6,544.1" fill="none" stroke="#4fae3a" stroke-width="1.2" stroke-linejoin="round"/>
<rect x="162.5" y="479.1" width="105.30000000000001" height="65.89999999999998" fill="none" stroke="#111" stroke-width="1.3"/>
<text x="156.6" y="523.8" font-size="10.6" fill="#222" stroke="#222" stroke-width="0.22" textLength="23.3" lengthAdjust="spacingAndGlyphs" transform="rotate(-90 156.6 523.8)" >Modal</text>
<text x="201.8" y="557.6" font-size="10.8" fill="#222" stroke="#222" stroke-width="0.22" textLength="26.3" lengthAdjust="spacingAndGlyphs" >CD11b</text>
<rect x="163.7" y="573.5" width="9.6" height="9.2" fill="#e18b1f"/>
<text x="177.1" y="580.8" font-size="8.8" fill="#222" stroke="#222" stroke-width="0.22" textLength="25.0" lengthAdjust="spacingAndGlyphs" >DMSO</text>
<rect x="163.7" y="587.6" width="9.6" height="9.2" fill="#63a744"/>
<text x="177.1" y="594.9" font-size="8.8" fill="#222" stroke="#222" stroke-width="0.22" textLength="33.3" lengthAdjust="spacingAndGlyphs" >1µM BIO</text>
<rect x="163.7" y="601.7" width="9.6" height="9.2" fill="#8c84c4"/>
<text x="177.1" y="609.0" font-size="8.8" fill="#222" stroke="#222" stroke-width="0.22" textLength="61.0" lengthAdjust="spacingAndGlyphs" >1µM CHIR99021</text>
<text x="283.9" y="472.9" font-size="13.5" fill="#111" font-weight="bold" >G</text>
<rect x="333.0" y="531.5" width="13.5" height="39.60000000000002" fill="#e18b1f" stroke="#d27c10" stroke-width="0.7"/>
<rect x="351.0" y="523.0" width="13.5" height="48.10000000000002" fill="#63a744" stroke="#579c38" stroke-width="0.7"/>
<rect x="369.0" y="510.0" width="13.5" height="61.10000000000002" fill="#8c84c4" stroke="#7f78bb" stroke-width="0.7"/>
<path d="M339.6,522.7 L339.6,539.2 M336.40000000000003,522.7 L342.8,522.7 M336.40000000000003,539.2 L342.8,539.2" stroke="#111" stroke-width="1.0" fill="none"/>
<path d="M339.6,521.0 L338.20000000000005,523.0 L341.0,523.0 Z" fill="#111"/>
<circle cx="341.5" cy="534.2" r="1.3" fill="#111"/>
<circle cx="337.5" cy="537.9" r="1.3" fill="#111"/>
<circle cx="339.6" cy="538.4" r="1.3" fill="#111"/>
<path d="M357.7,516.7 L357.7,529.0 M354.5,516.7 L360.9,516.7 M354.5,529.0 L360.9,529.0" stroke="#111" stroke-width="1.0" fill="none"/>
<path d="M357.7,515.0 L356.3,517.0 L359.09999999999997,517.0 Z" fill="#111"/>
<circle cx="356.0" cy="527.9" r="1.3" fill="#111"/>
<circle cx="359.8" cy="525.9" r="1.3" fill="#111"/>
<circle cx="357.7" cy="528.4" r="1.3" fill="#111"/>
<path d="M375.9,498.5 L375.9,521.0 M372.7,498.5 L379.09999999999997,498.5 M372.7,521.0 L379.09999999999997,521.0" stroke="#111" stroke-width="1.0" fill="none"/>
<path d="M375.9,496.8 L374.5,498.8 L377.29999999999995,498.8 Z" fill="#111"/>
<circle cx="375.9" cy="513.5" r="1.3" fill="#111"/>
<circle cx="375.9" cy="518.1" r="1.3" fill="#111"/>
<path d="M328.6,481.2 L328.6,571.1 M325.3,571.1 L386.9,571.1" stroke="#111" stroke-width="1.3" fill="none"/>
<line x1="325.6" y1="483.9" x2="328.6" y2="483.9" stroke="#111" stroke-width="1.1"/>
<text x="322.4" y="487.09999999999997" font-size="9.3" fill="#222" stroke="#222" stroke-width="0.22" text-anchor="end" >5</text>
<line x1="325.6" y1="501.25" x2="328.6" y2="501.25" stroke="#111" stroke-width="1.1"/>
<text x="322.4" y="504.45" font-size="9.3" fill="#222" stroke="#222" stroke-width="0.22" text-anchor="end" >4</text>
<line x1="325.6" y1="518.8" x2="328.6" y2="518.8" stroke="#111" stroke-width="1.1"/>
<text x="322.4" y="522.0" font-size="9.3" fill="#222" stroke="#222" stroke-width="0.22" text-anchor="end" >3</text>
<line x1="325.6" y1="536.2" x2="328.6" y2="536.2" stroke="#111" stroke-width="1.1"/>
<text x="322.4" y="539.4000000000001" font-size="9.3" fill="#222" stroke="#222" stroke-width="0.22" text-anchor="end" >2</text>
<line x1="325.6" y1="553.75" x2="328.6" y2="553.75" stroke="#111" stroke-width="1.1"/>
<text x="322.4" y="556.95" font-size="9.3" fill="#222" stroke="#222" stroke-width="0.22" text-anchor="end" >1</text>
<line x1="325.6" y1="571.1" x2="328.6" y2="571.1" stroke="#111" stroke-width="1.1"/>
<text x="322.4" y="574.3000000000001" font-size="9.3" fill="#222" stroke="#222" stroke-width="0.22" text-anchor="end" >0</text>
<line x1="332.4" y1="486.2" x2="383.9" y2="486.2" stroke="#111" stroke-width="1.1"/>
<text x="356.3" y="485.8936" font-size="7.8" fill="#111" stroke="#111" stroke-width="0.3" text-anchor="middle" >*</text>
<text x="359.8" y="485.8936" font-size="7.8" fill="#111" stroke="#111" stroke-width="0.3" text-anchor="middle" >*</text>
<line x1="333.4" y1="498.65" x2="365.3" y2="498.65" stroke="#111" stroke-width="1.1"/>
<text x="349.0" y="498.3936" font-size="7.8" fill="#111" stroke="#111" stroke-width="0.3" text-anchor="middle" >*</text>
<text x="310.8" y="559.5" font-size="10.2" fill="#222" stroke="#222" stroke-width="0.22" textLength="61.6" lengthAdjust="spacingAndGlyphs" transform="rotate(-90 310.8 559.5)" >MFI (CD11b) x10</text>
<text x="305.2" y="497.3" font-size="6.5" fill="#222" stroke="#222" stroke-width="0.22" transform="rotate(-90 305.2 497.3)" >3</text>
<text x="342.8" y="577.6" font-size="9.4" fill="#222" stroke="#222" stroke-width="0.22" text-anchor="end" textLength="28.6" lengthAdjust="spacingAndGlyphs" transform="rotate(-45 342.8 577.6)" >DMSO</text>
<text x="360.6" y="577.6" font-size="9.4" fill="#222" stroke="#222" stroke-width="0.22" text-anchor="end" textLength="17.4" lengthAdjust="spacingAndGlyphs" transform="rotate(-45 360.6 577.6)" >BIO</text>
<text x="378.5" y="577.6" font-size="9.4" fill="#222" stroke="#222" stroke-width="0.22" text-anchor="end" textLength="47.5" lengthAdjust="spacingAndGlyphs" transform="rotate(-45 378.5 577.6)" >CHIR99021</text>
<text x="404.6" y="472.9" font-size="13.5" fill="#111" font-weight="bold" >H</text>
<rect x="457.9" y="523.1" width="13.7" height="48.0" fill="#e18b1f" stroke="#d27c10" stroke-width="0.7"/>
<rect x="476.0" y="506.9" width="13.6" height="64.20000000000005" fill="#63a744" stroke="#579c38" stroke-width="0.7"/>
<rect x="494.0" y="499.6" width="13.6" height="71.5" fill="#8c84c4" stroke="#7f78bb" stroke-width="0.7"/>
<path d="M464.7,517.8 L464.7,527.1 M461.5,517.8 L467.9,517.8 M461.5,527.1 L467.9,527.1" stroke="#111" stroke-width="1.0" fill="none"/>
<path d="M464.7,516.0999999999999 L463.3,518.0999999999999 L466.09999999999997,518.0999999999999 Z" fill="#111"/>
<circle cx="463.6" cy="525.4" r="1.3" fill="#111"/>
<circle cx="466.0" cy="525.8" r="1.3" fill="#111"/>
<circle cx="464.8" cy="522.0" r="1.3" fill="#111"/>
<path d="M482.9,503.7 L482.9,510.3 M479.7,503.7 L486.09999999999997,503.7 M479.7,510.3 L486.09999999999997,510.3" stroke="#111" stroke-width="1.0" fill="none"/>
<path d="M482.9,502.0 L481.5,504.0 L484.29999999999995,504.0 Z" fill="#111"/>
<circle cx="481.8" cy="508.4" r="1.3" fill="#111"/>
<circle cx="484.2" cy="508.0" r="1.3" fill="#111"/>
<path d="M500.8,494.8 L500.8,504.3 M497.6,494.8 L504.0,494.8 M497.6,504.3 L504.0,504.3" stroke="#111" stroke-width="1.0" fill="none"/>
<path d="M500.8,493.1 L499.40000000000003,495.1 L502.2,495.1 Z" fill="#111"/>
<circle cx="500.8" cy="499.8" r="1.3" fill="#111"/>
<path d="M453.5,481.2 L453.5,571.1 M450.3,571.1 L511.9,571.1" stroke="#111" stroke-width="1.3" fill="none"/>
<line x1="450.5" y1="484.1" x2="453.5" y2="484.1" stroke="#111" stroke-width="1.1"/>
<text x="447.4" y="487.3" font-size="9.3" fill="#222" stroke="#222" stroke-width="0.22" text-anchor="end" >60</text>
<line x1="450.5" y1="513.4" x2="453.5" y2="513.4" stroke="#111" stroke-width="1.1"/>
<text x="447.4" y="516.6" font-size="9.3" fill="#222" stroke="#222" stroke-width="0.22" text-anchor="end" >40</text>
<line x1="450.5" y1="542.2" x2="453.5" y2="542.2" stroke="#111" stroke-width="1.1"/>
<text x="447.4" y="545.4000000000001" font-size="9.3" fill="#222" stroke="#222" stroke-width="0.22" text-anchor="end" >20</text>
<line x1="450.5" y1="571.1" x2="453.5" y2="571.1" stroke="#111" stroke-width="1.1"/>
<text x="447.4" y="574.3000000000001" font-size="9.3" fill="#222" stroke="#222" stroke-width="0.22" text-anchor="end" >0</text>
<line x1="457.1" y1="486.2" x2="509.0" y2="486.2" stroke="#111" stroke-width="1.1"/>
<text x="481.3" y="485.8936" font-size="7.8" fill="#111" stroke="#111" stroke-width="0.3" text-anchor="middle" >*</text>
<text x="484.8" y="485.8936" font-size="7.8" fill="#111" stroke="#111" stroke-width="0.3" text-anchor="middle" >*</text>
<line x1="457.9" y1="498.65" x2="490.2" y2="498.65" stroke="#111" stroke-width="1.1"/>
<text x="472.3" y="498.3936" font-size="7.8" fill="#111" stroke="#111" stroke-width="0.3" text-anchor="middle" >*</text>
<text x="475.8" y="498.3936" font-size="7.8" fill="#111" stroke="#111" stroke-width="0.3" text-anchor="middle" >*</text>
<text x="430.9" y="560.4" font-size="10.2" fill="#222" stroke="#222" stroke-width="0.22" textLength="44.5" lengthAdjust="spacingAndGlyphs" transform="rotate(-90 430.9 560.4)" >% of CD11b</text>
<text x="426.6" y="514.8" font-size="6.5" fill="#222" stroke="#222" stroke-width="0.22" transform="rotate(-90 426.6 514.8)" >+</text>
<text x="430.9" y="508.8" font-size="10.2" fill="#222" stroke="#222" stroke-width="0.22" textLength="17.4" lengthAdjust="spacingAndGlyphs" transform="rotate(-90 430.9 508.8)" >cells</text>
<text x="467.8" y="577.6" font-size="9.4" fill="#222" stroke="#222" stroke-width="0.22" text-anchor="end" textLength="28.6" lengthAdjust="spacingAndGlyphs" transform="rotate(-45 467.8 577.6)" >DMSO</text>
<text x="485.5" y="577.6" font-size="9.4" fill="#222" stroke="#222" stroke-width="0.22" text-anchor="end" textLength="17.4" lengthAdjust="spacingAndGlyphs" transform="rotate(-45 485.5 577.6)" >BIO</text>
<text x="503.7" y="577.6" font-size="9.4" fill="#222" stroke="#222" stroke-width="0.22" text-anchor="end" textLength="47.5" lengthAdjust="spacingAndGlyphs" transform="rotate(-45 503.7 577.6)" >CHIR99021</text>
<rect x="0.6" y="0.55" width="518.8" height="618.7" fill="none" stroke="#000" stroke-width="1.2"/>
</svg>
</body></html>
